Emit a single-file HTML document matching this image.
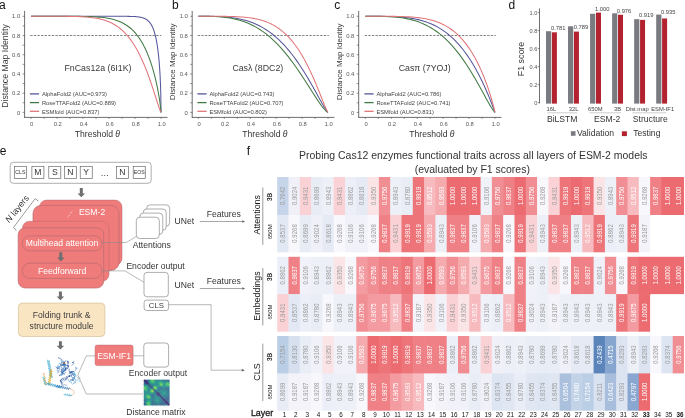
<!DOCTYPE html>
<html><head><meta charset="utf-8"><style>
html,body{margin:0;padding:0;background:#fff;overflow:hidden;}
svg{display:block;font-family:"Liberation Sans", sans-serif;will-change:transform;}
</style></head><body>
<svg width="685" height="418" viewBox="0 0 685 418">
<rect width="685" height="418" fill="#fff"/>
<text x="-0.90" y="8.70" font-size="12" fill="#111" text-anchor="start" font-weight="normal" >a</text>
<line x1="24.6" y1="10.9" x2="24.6" y2="117.6" stroke="#4a4a4a" stroke-width="0.8"/>
<line x1="24.200000000000003" y1="117.4" x2="167.5" y2="117.4" stroke="#4a4a4a" stroke-width="0.8"/>
<line x1="22.6" y1="112.40" x2="24.6" y2="112.40" stroke="#4a4a4a" stroke-width="0.6"/>
<line x1="31.00" y1="117.4" x2="31.00" y2="118.9" stroke="#4a4a4a" stroke-width="0.6"/>
<line x1="22.6" y1="102.79" x2="24.6" y2="102.79" stroke="#4a4a4a" stroke-width="0.6"/>
<line x1="44.00" y1="117.4" x2="44.00" y2="118.9" stroke="#4a4a4a" stroke-width="0.6"/>
<line x1="22.6" y1="93.18" x2="24.6" y2="93.18" stroke="#4a4a4a" stroke-width="0.6"/>
<line x1="57.00" y1="117.4" x2="57.00" y2="118.9" stroke="#4a4a4a" stroke-width="0.6"/>
<line x1="22.6" y1="83.57" x2="24.6" y2="83.57" stroke="#4a4a4a" stroke-width="0.6"/>
<line x1="70.00" y1="117.4" x2="70.00" y2="118.9" stroke="#4a4a4a" stroke-width="0.6"/>
<line x1="22.6" y1="73.96" x2="24.6" y2="73.96" stroke="#4a4a4a" stroke-width="0.6"/>
<line x1="83.00" y1="117.4" x2="83.00" y2="118.9" stroke="#4a4a4a" stroke-width="0.6"/>
<line x1="22.6" y1="64.35" x2="24.6" y2="64.35" stroke="#4a4a4a" stroke-width="0.6"/>
<line x1="96.00" y1="117.4" x2="96.00" y2="118.9" stroke="#4a4a4a" stroke-width="0.6"/>
<line x1="22.6" y1="54.74" x2="24.6" y2="54.74" stroke="#4a4a4a" stroke-width="0.6"/>
<line x1="109.00" y1="117.4" x2="109.00" y2="118.9" stroke="#4a4a4a" stroke-width="0.6"/>
<line x1="22.6" y1="45.13" x2="24.6" y2="45.13" stroke="#4a4a4a" stroke-width="0.6"/>
<line x1="122.00" y1="117.4" x2="122.00" y2="118.9" stroke="#4a4a4a" stroke-width="0.6"/>
<line x1="22.6" y1="35.52" x2="24.6" y2="35.52" stroke="#4a4a4a" stroke-width="0.6"/>
<line x1="135.00" y1="117.4" x2="135.00" y2="118.9" stroke="#4a4a4a" stroke-width="0.6"/>
<line x1="22.6" y1="25.91" x2="24.6" y2="25.91" stroke="#4a4a4a" stroke-width="0.6"/>
<line x1="148.00" y1="117.4" x2="148.00" y2="118.9" stroke="#4a4a4a" stroke-width="0.6"/>
<line x1="22.6" y1="16.30" x2="24.6" y2="16.30" stroke="#4a4a4a" stroke-width="0.6"/>
<line x1="161.00" y1="117.4" x2="161.00" y2="118.9" stroke="#4a4a4a" stroke-width="0.6"/>
<text x="20.30" y="114.50" font-size="5.9" fill="#555" text-anchor="end" font-weight="normal" >0</text>
<text x="31.70" y="126.20" font-size="5.8" fill="#555" text-anchor="middle" font-weight="normal" >0</text>
<text x="20.30" y="95.28" font-size="5.9" fill="#555" text-anchor="end" font-weight="normal" >0.2</text>
<text x="57.70" y="126.20" font-size="5.8" fill="#555" text-anchor="middle" font-weight="normal" >0.2</text>
<text x="20.30" y="76.06" font-size="5.9" fill="#555" text-anchor="end" font-weight="normal" >0.4</text>
<text x="83.70" y="126.20" font-size="5.8" fill="#555" text-anchor="middle" font-weight="normal" >0.4</text>
<text x="20.30" y="56.84" font-size="5.9" fill="#555" text-anchor="end" font-weight="normal" >0.6</text>
<text x="109.70" y="126.20" font-size="5.8" fill="#555" text-anchor="middle" font-weight="normal" >0.6</text>
<text x="20.30" y="37.62" font-size="5.9" fill="#555" text-anchor="end" font-weight="normal" >0.8</text>
<text x="135.70" y="126.20" font-size="5.8" fill="#555" text-anchor="middle" font-weight="normal" >0.8</text>
<text x="20.30" y="18.40" font-size="5.9" fill="#555" text-anchor="end" font-weight="normal" >1.0</text>
<text x="161.70" y="126.20" font-size="5.8" fill="#555" text-anchor="middle" font-weight="normal" >1.0</text>
<text x="97.40" y="136.60" font-size="8.6" fill="#333" text-anchor="middle" font-weight="normal" >Threshold <tspan font-style="italic">&#952;</tspan></text>
<text transform="translate(8.3,66.0) rotate(-90)" font-size="8.7" fill="#3a3a3a" text-anchor="middle">Distance Map Identity</text>
<text x="98.00" y="70.60" font-size="8.8" fill="#3a3a3a" text-anchor="middle" font-weight="normal" >FnCas12a (6I1K)</text>
<line x1="30.2" y1="35.5" x2="161.3" y2="35.5" stroke="#333" stroke-width="0.6" stroke-dasharray="2.4,1.2"/>
<polyline points="31.00,16.30 33.12,16.30 35.24,16.30 37.37,16.30 39.49,16.30 41.61,16.30 43.73,16.30 45.86,16.30 47.98,16.30 50.10,16.30 52.22,16.30 54.35,16.30 56.47,16.30 58.59,16.30 60.71,16.30 62.84,16.30 64.96,16.30 67.08,16.30 69.20,16.30 71.33,16.30 73.45,16.30 75.57,16.30 77.69,16.30 79.82,16.30 81.94,16.30 84.06,16.30 86.18,16.30 88.31,16.30 90.43,16.30 92.55,16.30 94.67,16.30 96.80,16.30 98.92,16.30 101.04,16.30 103.16,16.30 105.29,16.30 107.41,16.30 109.53,16.30 111.65,16.30 113.78,16.30 115.90,16.30 118.02,16.30 120.14,16.31 122.27,16.31 124.39,16.32 126.51,16.34 128.63,16.37 130.76,16.41 132.88,16.48 135.00,16.58 135.22,16.60 135.44,16.61 135.66,16.63 135.87,16.64 136.09,16.66 136.31,16.68 136.53,16.70 136.75,16.72 136.97,16.74 137.18,16.76 137.40,16.78 137.62,16.81 137.84,16.83 138.06,16.86 138.28,16.88 138.50,16.91 138.71,16.94 138.93,16.97 139.15,17.00 139.37,17.04 139.59,17.07 139.81,17.11 140.03,17.15 140.24,17.19 140.46,17.23 140.68,17.27 140.90,17.32 141.12,17.37 141.34,17.42 141.55,17.47 141.77,17.52 141.99,17.58 142.21,17.64 142.43,17.70 142.65,17.77 142.87,17.84 143.08,17.91 143.30,17.98 143.52,18.06 143.74,18.14 143.96,18.23 144.18,18.32 144.39,18.41 144.61,18.50 144.83,18.61 145.05,18.71 145.27,18.82 145.49,18.94 145.71,19.06 145.92,19.18 146.14,19.31 146.36,19.45 146.58,19.59 146.80,19.74 147.02,19.90 147.24,20.06 147.45,20.23 147.67,20.41 147.89,20.59 148.11,20.79 148.33,20.99 148.55,21.20 148.76,21.42 148.98,21.65 149.20,21.89 149.42,22.14 149.64,22.40 149.86,22.68 150.08,22.96 150.29,23.26 150.51,23.57 150.73,23.90 150.95,24.24 151.17,24.59 151.39,24.96 151.61,25.35 151.82,25.76 152.04,26.18 152.26,26.63 152.48,27.09 152.70,27.58 152.92,28.09 153.13,28.62 153.35,29.18 153.57,29.76 153.79,30.37 154.01,31.01 154.23,31.68 154.45,32.39 154.66,33.12 154.88,33.90 155.10,34.71 155.32,35.57 155.54,36.47 155.76,37.41 155.97,38.40 156.19,39.45 156.41,40.56 156.63,41.72 156.85,42.95 157.07,44.25 157.29,45.63 157.50,47.09 157.72,48.65 157.94,50.30 158.16,52.07 158.38,53.95 158.60,55.98 158.82,58.16 159.03,60.52 159.25,63.08 159.47,65.89 159.69,69.00 159.91,72.46 160.13,76.41 160.34,81.00 160.56,86.60 160.78,94.07 161.00,112.40" fill="none" stroke="#55579a" stroke-width="1.05" stroke-linejoin="round"/>
<polyline points="31.00,16.30 33.12,16.30 35.24,16.30 37.37,16.30 39.49,16.30 41.61,16.30 43.73,16.30 45.86,16.30 47.98,16.30 50.10,16.30 52.22,16.30 54.35,16.30 56.47,16.30 58.59,16.30 60.71,16.30 62.84,16.30 64.96,16.31 67.08,16.31 69.20,16.32 71.33,16.32 73.45,16.33 75.57,16.34 77.69,16.36 79.82,16.38 81.94,16.41 84.06,16.45 86.18,16.49 88.31,16.55 90.43,16.63 92.55,16.72 94.67,16.83 96.80,16.96 98.92,17.12 101.04,17.32 103.16,17.56 105.29,17.84 107.41,18.17 109.53,18.57 111.65,19.03 113.78,19.58 115.90,20.21 118.02,20.95 120.14,21.81 122.27,22.80 124.39,23.94 126.51,25.25 128.63,26.75 130.76,28.47 132.88,30.44 135.00,32.68 135.22,32.93 135.44,33.18 135.66,33.43 135.87,33.69 136.09,33.95 136.31,34.21 136.53,34.48 136.75,34.75 136.97,35.03 137.18,35.31 137.40,35.59 137.62,35.88 137.84,36.17 138.06,36.46 138.28,36.76 138.50,37.06 138.71,37.37 138.93,37.68 139.15,37.99 139.37,38.31 139.59,38.63 139.81,38.96 140.03,39.29 140.24,39.63 140.46,39.97 140.68,40.31 140.90,40.66 141.12,41.02 141.34,41.37 141.55,41.74 141.77,42.11 141.99,42.48 142.21,42.86 142.43,43.24 142.65,43.63 142.87,44.02 143.08,44.42 143.30,44.82 143.52,45.23 143.74,45.65 143.96,46.07 144.18,46.49 144.39,46.93 144.61,47.36 144.83,47.81 145.05,48.25 145.27,48.71 145.49,49.17 145.71,49.64 145.92,50.11 146.14,50.59 146.36,51.08 146.58,51.57 146.80,52.07 147.02,52.58 147.24,53.09 147.45,53.61 147.67,54.14 147.89,54.68 148.11,55.22 148.33,55.77 148.55,56.33 148.76,56.89 148.98,57.46 149.20,58.05 149.42,58.64 149.64,59.23 149.86,59.84 150.08,60.45 150.29,61.08 150.51,61.71 150.73,62.35 150.95,63.00 151.17,63.66 151.39,64.33 151.61,65.01 151.82,65.70 152.04,66.40 152.26,67.11 152.48,67.84 152.70,68.57 152.92,69.31 153.13,70.07 153.35,70.84 153.57,71.62 153.79,72.41 154.01,73.21 154.23,74.03 154.45,74.86 154.66,75.71 154.88,76.57 155.10,77.44 155.32,78.33 155.54,79.24 155.76,80.16 155.97,81.10 156.19,82.06 156.41,83.03 156.63,84.03 156.85,85.04 157.07,86.08 157.29,87.14 157.50,88.22 157.72,89.32 157.94,90.46 158.16,91.62 158.38,92.81 158.60,94.03 158.82,95.29 159.03,96.59 159.25,97.93 159.47,99.32 159.69,100.77 159.91,102.28 160.13,103.88 160.34,105.57 160.56,107.42 160.78,109.50 161.00,112.40" fill="none" stroke="#427a45" stroke-width="1.05" stroke-linejoin="round"/>
<polyline points="31.00,16.30 33.12,16.30 35.24,16.30 37.37,16.30 39.49,16.30 41.61,16.30 43.73,16.30 45.86,16.30 47.98,16.30 50.10,16.30 52.22,16.30 54.35,16.30 56.47,16.31 58.59,16.31 60.71,16.32 62.84,16.33 64.96,16.34 67.08,16.36 69.20,16.38 71.33,16.41 73.45,16.45 75.57,16.50 77.69,16.56 79.82,16.64 81.94,16.74 84.06,16.86 86.18,17.01 88.31,17.19 90.43,17.40 92.55,17.66 94.67,17.97 96.80,18.32 98.92,18.74 101.04,19.23 103.16,19.80 105.29,20.46 107.41,21.22 109.53,22.08 111.65,23.07 113.78,24.20 115.90,25.47 118.02,26.91 120.14,28.52 122.27,30.33 124.39,32.36 126.51,34.61 128.63,37.12 130.76,39.89 132.88,42.95 135.00,46.31 135.22,46.67 135.44,47.04 135.66,47.41 135.87,47.79 136.09,48.17 136.31,48.55 136.53,48.93 136.75,49.32 136.97,49.71 137.18,50.11 137.40,50.51 137.62,50.91 137.84,51.32 138.06,51.73 138.28,52.14 138.50,52.56 138.71,52.98 138.93,53.41 139.15,53.83 139.37,54.27 139.59,54.70 139.81,55.14 140.03,55.59 140.24,56.03 140.46,56.49 140.68,56.94 140.90,57.40 141.12,57.86 141.34,58.33 141.55,58.80 141.77,59.27 141.99,59.75 142.21,60.24 142.43,60.72 142.65,61.21 142.87,61.71 143.08,62.20 143.30,62.71 143.52,63.21 143.74,63.72 143.96,64.24 144.18,64.75 144.39,65.28 144.61,65.80 144.83,66.33 145.05,66.86 145.27,67.40 145.49,67.94 145.71,68.49 145.92,69.04 146.14,69.59 146.36,70.15 146.58,70.71 146.80,71.28 147.02,71.84 147.24,72.42 147.45,72.99 147.67,73.58 147.89,74.16 148.11,74.75 148.33,75.34 148.55,75.94 148.76,76.54 148.98,77.14 149.20,77.75 149.42,78.36 149.64,78.97 149.86,79.59 150.08,80.21 150.29,80.84 150.51,81.47 150.73,82.10 150.95,82.73 151.17,83.37 151.39,84.01 151.61,84.66 151.82,85.31 152.04,85.96 152.26,86.61 152.48,87.27 152.70,87.93 152.92,88.59 153.13,89.26 153.35,89.93 153.57,90.60 153.79,91.27 154.01,91.94 154.23,92.62 154.45,93.30 154.66,93.98 154.88,94.66 155.10,95.34 155.32,96.02 155.54,96.71 155.76,97.39 155.97,98.08 156.19,98.77 156.41,99.45 156.63,100.14 156.85,100.82 157.07,101.50 157.29,102.18 157.50,102.86 157.72,103.54 157.94,104.21 158.16,104.88 158.38,105.54 158.60,106.20 158.82,106.85 159.03,107.49 159.25,108.13 159.47,108.75 159.69,109.36 159.91,109.95 160.13,110.52 160.34,111.07 160.56,111.58 160.78,112.05 161.00,112.40" fill="none" stroke="#e07579" stroke-width="1.05" stroke-linejoin="round"/>
<line x1="29.9" y1="93.89999999999999" x2="39.1" y2="93.89999999999999" stroke="#55579a" stroke-width="1.3"/>
<text x="41.90" y="96.30" font-size="5.8" fill="#444" text-anchor="start" font-weight="normal" >AlphaFold2 (AUC=0.973)</text>
<line x1="29.9" y1="102.6" x2="39.1" y2="102.6" stroke="#427a45" stroke-width="1.3"/>
<text x="41.90" y="105.00" font-size="5.8" fill="#444" text-anchor="start" font-weight="normal" >RoseTTAFold2 (AUC=0.889)</text>
<line x1="29.9" y1="111.3" x2="39.1" y2="111.3" stroke="#e07579" stroke-width="1.3"/>
<text x="41.90" y="113.70" font-size="5.8" fill="#444" text-anchor="start" font-weight="normal" >ESMfold (AUC=0.837)</text>
<text x="172.00" y="8.70" font-size="12" fill="#111" text-anchor="start" font-weight="normal" >b</text>
<line x1="192.2" y1="10.9" x2="192.2" y2="117.6" stroke="#4a4a4a" stroke-width="0.8"/>
<line x1="191.79999999999998" y1="117.4" x2="334.5" y2="117.4" stroke="#4a4a4a" stroke-width="0.8"/>
<line x1="190.2" y1="112.40" x2="192.2" y2="112.40" stroke="#4a4a4a" stroke-width="0.6"/>
<line x1="198.40" y1="117.4" x2="198.40" y2="118.9" stroke="#4a4a4a" stroke-width="0.6"/>
<line x1="190.2" y1="102.79" x2="192.2" y2="102.79" stroke="#4a4a4a" stroke-width="0.6"/>
<line x1="211.36" y1="117.4" x2="211.36" y2="118.9" stroke="#4a4a4a" stroke-width="0.6"/>
<line x1="190.2" y1="93.18" x2="192.2" y2="93.18" stroke="#4a4a4a" stroke-width="0.6"/>
<line x1="224.32" y1="117.4" x2="224.32" y2="118.9" stroke="#4a4a4a" stroke-width="0.6"/>
<line x1="190.2" y1="83.57" x2="192.2" y2="83.57" stroke="#4a4a4a" stroke-width="0.6"/>
<line x1="237.28" y1="117.4" x2="237.28" y2="118.9" stroke="#4a4a4a" stroke-width="0.6"/>
<line x1="190.2" y1="73.96" x2="192.2" y2="73.96" stroke="#4a4a4a" stroke-width="0.6"/>
<line x1="250.24" y1="117.4" x2="250.24" y2="118.9" stroke="#4a4a4a" stroke-width="0.6"/>
<line x1="190.2" y1="64.35" x2="192.2" y2="64.35" stroke="#4a4a4a" stroke-width="0.6"/>
<line x1="263.20" y1="117.4" x2="263.20" y2="118.9" stroke="#4a4a4a" stroke-width="0.6"/>
<line x1="190.2" y1="54.74" x2="192.2" y2="54.74" stroke="#4a4a4a" stroke-width="0.6"/>
<line x1="276.16" y1="117.4" x2="276.16" y2="118.9" stroke="#4a4a4a" stroke-width="0.6"/>
<line x1="190.2" y1="45.13" x2="192.2" y2="45.13" stroke="#4a4a4a" stroke-width="0.6"/>
<line x1="289.12" y1="117.4" x2="289.12" y2="118.9" stroke="#4a4a4a" stroke-width="0.6"/>
<line x1="190.2" y1="35.52" x2="192.2" y2="35.52" stroke="#4a4a4a" stroke-width="0.6"/>
<line x1="302.08" y1="117.4" x2="302.08" y2="118.9" stroke="#4a4a4a" stroke-width="0.6"/>
<line x1="190.2" y1="25.91" x2="192.2" y2="25.91" stroke="#4a4a4a" stroke-width="0.6"/>
<line x1="315.04" y1="117.4" x2="315.04" y2="118.9" stroke="#4a4a4a" stroke-width="0.6"/>
<line x1="190.2" y1="16.30" x2="192.2" y2="16.30" stroke="#4a4a4a" stroke-width="0.6"/>
<line x1="328.00" y1="117.4" x2="328.00" y2="118.9" stroke="#4a4a4a" stroke-width="0.6"/>
<text x="187.90" y="114.50" font-size="5.9" fill="#555" text-anchor="end" font-weight="normal" >0</text>
<text x="199.10" y="126.20" font-size="5.8" fill="#555" text-anchor="middle" font-weight="normal" >0</text>
<text x="187.90" y="95.28" font-size="5.9" fill="#555" text-anchor="end" font-weight="normal" >0.2</text>
<text x="225.02" y="126.20" font-size="5.8" fill="#555" text-anchor="middle" font-weight="normal" >0.2</text>
<text x="187.90" y="76.06" font-size="5.9" fill="#555" text-anchor="end" font-weight="normal" >0.4</text>
<text x="250.94" y="126.20" font-size="5.8" fill="#555" text-anchor="middle" font-weight="normal" >0.4</text>
<text x="187.90" y="56.84" font-size="5.9" fill="#555" text-anchor="end" font-weight="normal" >0.6</text>
<text x="276.86" y="126.20" font-size="5.8" fill="#555" text-anchor="middle" font-weight="normal" >0.6</text>
<text x="187.90" y="37.62" font-size="5.9" fill="#555" text-anchor="end" font-weight="normal" >0.8</text>
<text x="302.78" y="126.20" font-size="5.8" fill="#555" text-anchor="middle" font-weight="normal" >0.8</text>
<text x="187.90" y="18.40" font-size="5.9" fill="#555" text-anchor="end" font-weight="normal" >1.0</text>
<text x="328.70" y="126.20" font-size="5.8" fill="#555" text-anchor="middle" font-weight="normal" >1.0</text>
<text x="264.90" y="136.60" font-size="8.6" fill="#333" text-anchor="middle" font-weight="normal" >Threshold <tspan font-style="italic">&#952;</tspan></text>
<text transform="translate(175.4,61.9) rotate(-90)" font-size="8.0" fill="#3a3a3a" text-anchor="middle">Distance Map Identity</text>
<text x="257.80" y="70.60" font-size="8.8" fill="#3a3a3a" text-anchor="middle" font-weight="normal" >Cas&#955; (8DC2)</text>
<line x1="197.7" y1="35.5" x2="328.8" y2="35.5" stroke="#333" stroke-width="0.6" stroke-dasharray="2.4,1.2"/>
<polyline points="198.40,16.30 200.52,16.30 202.63,16.30 204.75,16.31 206.86,16.31 208.98,16.33 211.10,16.35 213.21,16.39 215.33,16.44 217.44,16.50 219.56,16.59 221.68,16.69 223.79,16.82 225.91,16.98 228.02,17.17 230.14,17.40 232.25,17.66 234.37,17.96 236.49,18.31 238.60,18.70 240.72,19.14 242.83,19.64 244.95,20.20 247.07,20.82 249.18,21.50 251.30,22.25 253.41,23.07 255.53,23.96 257.65,24.94 259.76,26.00 261.88,27.14 263.99,28.37 266.11,29.69 268.23,31.11 270.34,32.63 272.46,34.24 274.57,35.97 276.69,37.80 278.80,39.73 280.92,41.78 283.04,43.95 285.15,46.23 287.27,48.63 289.38,51.14 291.50,53.78 293.62,56.53 295.73,59.41 297.85,62.40 299.96,65.52 302.08,68.74 302.30,69.08 302.52,69.42 302.73,69.76 302.95,70.10 303.17,70.45 303.39,70.79 303.60,71.14 303.82,71.48 304.04,71.83 304.26,72.18 304.48,72.53 304.69,72.88 304.91,73.23 305.13,73.59 305.35,73.94 305.57,74.30 305.78,74.65 306.00,75.01 306.22,75.37 306.44,75.73 306.65,76.09 306.87,76.45 307.09,76.81 307.31,77.18 307.53,77.54 307.74,77.91 307.96,78.28 308.18,78.64 308.40,79.01 308.61,79.38 308.83,79.75 309.05,80.12 309.27,80.50 309.49,80.87 309.70,81.25 309.92,81.62 310.14,82.00 310.36,82.37 310.57,82.75 310.79,83.13 311.01,83.51 311.23,83.89 311.45,84.27 311.66,84.66 311.88,85.04 312.10,85.42 312.32,85.81 312.54,86.19 312.75,86.58 312.97,86.96 313.19,87.35 313.41,87.74 313.62,88.13 313.84,88.51 314.06,88.90 314.28,89.29 314.50,89.68 314.71,90.08 314.93,90.47 315.15,90.86 315.37,91.25 315.58,91.64 315.80,92.04 316.02,92.43 316.24,92.82 316.46,93.22 316.67,93.61 316.89,94.01 317.11,94.40 317.33,94.80 317.54,95.19 317.76,95.59 317.98,95.98 318.20,96.38 318.42,96.77 318.63,97.17 318.85,97.56 319.07,97.95 319.29,98.35 319.51,98.74 319.72,99.14 319.94,99.53 320.16,99.92 320.38,100.31 320.59,100.70 320.81,101.09 321.03,101.48 321.25,101.87 321.47,102.26 321.68,102.65 321.90,103.03 322.12,103.42 322.34,103.80 322.55,104.18 322.77,104.56 322.99,104.94 323.21,105.32 323.43,105.69 323.64,106.06 323.86,106.43 324.08,106.80 324.30,107.16 324.51,107.52 324.73,107.88 324.95,108.24 325.17,108.59 325.39,108.93 325.60,109.27 325.82,109.61 326.04,109.94 326.26,110.26 326.48,110.58 326.69,110.89 326.91,111.19 327.13,111.47 327.35,111.75 327.56,112.00 327.78,112.23 328.00,112.40" fill="none" stroke="#55579a" stroke-width="1.05" stroke-linejoin="round"/>
<polyline points="198.40,16.30 200.52,16.30 202.63,16.30 204.75,16.31 206.86,16.33 208.98,16.36 211.10,16.41 213.21,16.47 215.33,16.56 217.44,16.67 219.56,16.81 221.68,16.98 223.79,17.19 225.91,17.44 228.02,17.73 230.14,18.06 232.25,18.45 234.37,18.89 236.49,19.38 238.60,19.94 240.72,20.55 242.83,21.24 244.95,21.99 247.07,22.81 249.18,23.71 251.30,24.69 253.41,25.75 255.53,26.89 257.65,28.12 259.76,29.44 261.88,30.84 263.99,32.35 266.11,33.94 268.23,35.64 270.34,37.43 272.46,39.32 274.57,41.31 276.69,43.41 278.80,45.60 280.92,47.90 283.04,50.29 285.15,52.79 287.27,55.39 289.38,58.08 291.50,60.86 293.62,63.74 295.73,66.70 297.85,69.74 299.96,72.85 302.08,76.03 302.30,76.36 302.52,76.69 302.73,77.02 302.95,77.36 303.17,77.69 303.39,78.02 303.60,78.36 303.82,78.69 304.04,79.03 304.26,79.36 304.48,79.70 304.69,80.04 304.91,80.37 305.13,80.71 305.35,81.05 305.57,81.39 305.78,81.72 306.00,82.06 306.22,82.40 306.44,82.74 306.65,83.08 306.87,83.42 307.09,83.76 307.31,84.10 307.53,84.45 307.74,84.79 307.96,85.13 308.18,85.47 308.40,85.81 308.61,86.16 308.83,86.50 309.05,86.84 309.27,87.18 309.49,87.53 309.70,87.87 309.92,88.21 310.14,88.56 310.36,88.90 310.57,89.24 310.79,89.58 311.01,89.93 311.23,90.27 311.45,90.61 311.66,90.96 311.88,91.30 312.10,91.64 312.32,91.98 312.54,92.32 312.75,92.67 312.97,93.01 313.19,93.35 313.41,93.69 313.62,94.03 313.84,94.37 314.06,94.71 314.28,95.05 314.50,95.38 314.71,95.72 314.93,96.06 315.15,96.40 315.37,96.73 315.58,97.07 315.80,97.40 316.02,97.74 316.24,98.07 316.46,98.40 316.67,98.73 316.89,99.06 317.11,99.39 317.33,99.72 317.54,100.04 317.76,100.37 317.98,100.69 318.20,101.02 318.42,101.34 318.63,101.66 318.85,101.98 319.07,102.30 319.29,102.61 319.51,102.93 319.72,103.24 319.94,103.55 320.16,103.86 320.38,104.17 320.59,104.47 320.81,104.77 321.03,105.07 321.25,105.37 321.47,105.67 321.68,105.96 321.90,106.25 322.12,106.54 322.34,106.82 322.55,107.11 322.77,107.39 322.99,107.66 323.21,107.93 323.43,108.20 323.64,108.47 323.86,108.73 324.08,108.98 324.30,109.24 324.51,109.49 324.73,109.73 324.95,109.97 325.17,110.20 325.39,110.42 325.60,110.64 325.82,110.86 326.04,111.06 326.26,111.26 326.48,111.45 326.69,111.63 326.91,111.80 327.13,111.96 327.35,112.10 327.56,112.23 327.78,112.34 328.00,112.40" fill="none" stroke="#427a45" stroke-width="1.05" stroke-linejoin="round"/>
<polyline points="198.40,16.30 200.52,16.30 202.63,16.30 204.75,16.30 206.86,16.30 208.98,16.30 211.10,16.30 213.21,16.30 215.33,16.31 217.44,16.31 219.56,16.32 221.68,16.34 223.79,16.35 225.91,16.38 228.02,16.41 230.14,16.46 232.25,16.51 234.37,16.58 236.49,16.67 238.60,16.77 240.72,16.90 242.83,17.06 244.95,17.24 247.07,17.46 249.18,17.72 251.30,18.02 253.41,18.37 255.53,18.77 257.65,19.23 259.76,19.75 261.88,20.35 263.99,21.02 266.11,21.78 268.23,22.63 270.34,23.57 272.46,24.63 274.57,25.80 276.69,27.10 278.80,28.52 280.92,30.09 283.04,31.81 285.15,33.69 287.27,35.73 289.38,37.96 291.50,40.37 293.62,42.98 295.73,45.79 297.85,48.81 299.96,52.06 302.08,55.52 302.30,55.89 302.52,56.27 302.73,56.64 302.95,57.02 303.17,57.40 303.39,57.78 303.60,58.17 303.82,58.55 304.04,58.94 304.26,59.34 304.48,59.73 304.69,60.13 304.91,60.53 305.13,60.93 305.35,61.33 305.57,61.74 305.78,62.15 306.00,62.56 306.22,62.98 306.44,63.39 306.65,63.81 306.87,64.24 307.09,64.66 307.31,65.09 307.53,65.52 307.74,65.95 307.96,66.38 308.18,66.82 308.40,67.26 308.61,67.70 308.83,68.15 309.05,68.59 309.27,69.04 309.49,69.49 309.70,69.95 309.92,70.40 310.14,70.86 310.36,71.32 310.57,71.79 310.79,72.25 311.01,72.72 311.23,73.19 311.45,73.67 311.66,74.14 311.88,74.62 312.10,75.10 312.32,75.58 312.54,76.07 312.75,76.56 312.97,77.04 313.19,77.54 313.41,78.03 313.62,78.53 313.84,79.02 314.06,79.52 314.28,80.03 314.50,80.53 314.71,81.04 314.93,81.55 315.15,82.06 315.37,82.57 315.58,83.09 315.80,83.60 316.02,84.12 316.24,84.64 316.46,85.16 316.67,85.69 316.89,86.21 317.11,86.74 317.33,87.27 317.54,87.80 317.76,88.33 317.98,88.87 318.20,89.40 318.42,89.94 318.63,90.47 318.85,91.01 319.07,91.55 319.29,92.09 319.51,92.64 319.72,93.18 319.94,93.72 320.16,94.27 320.38,94.81 320.59,95.36 320.81,95.91 321.03,96.45 321.25,97.00 321.47,97.55 321.68,98.09 321.90,98.64 322.12,99.19 322.34,99.73 322.55,100.28 322.77,100.82 322.99,101.37 323.21,101.91 323.43,102.45 323.64,102.99 323.86,103.53 324.08,104.06 324.30,104.59 324.51,105.12 324.73,105.65 324.95,106.17 325.17,106.68 325.39,107.20 325.60,107.70 325.82,108.20 326.04,108.69 326.26,109.18 326.48,109.65 326.69,110.11 326.91,110.56 327.13,110.99 327.35,111.41 327.56,111.79 327.78,112.14 328.00,112.40" fill="none" stroke="#e07579" stroke-width="1.05" stroke-linejoin="round"/>
<line x1="197.4" y1="93.89999999999999" x2="206.6" y2="93.89999999999999" stroke="#55579a" stroke-width="1.3"/>
<text x="209.40" y="96.30" font-size="5.8" fill="#444" text-anchor="start" font-weight="normal" >AlphaFold2 (AUC=0.743)</text>
<line x1="197.4" y1="102.6" x2="206.6" y2="102.6" stroke="#427a45" stroke-width="1.3"/>
<text x="209.40" y="105.00" font-size="5.8" fill="#444" text-anchor="start" font-weight="normal" >RoseTTAFold2 (AUC=0.707)</text>
<line x1="197.4" y1="111.3" x2="206.6" y2="111.3" stroke="#e07579" stroke-width="1.3"/>
<text x="209.40" y="113.70" font-size="5.8" fill="#444" text-anchor="start" font-weight="normal" >ESMfold (AUC=0.802)</text>
<text x="334.20" y="8.70" font-size="12" fill="#111" text-anchor="start" font-weight="normal" >c</text>
<line x1="358.7" y1="10.9" x2="358.7" y2="117.6" stroke="#4a4a4a" stroke-width="0.8"/>
<line x1="358.3" y1="117.4" x2="501.5" y2="117.4" stroke="#4a4a4a" stroke-width="0.8"/>
<line x1="356.7" y1="112.40" x2="358.7" y2="112.40" stroke="#4a4a4a" stroke-width="0.6"/>
<line x1="365.30" y1="117.4" x2="365.30" y2="118.9" stroke="#4a4a4a" stroke-width="0.6"/>
<line x1="356.7" y1="102.79" x2="358.7" y2="102.79" stroke="#4a4a4a" stroke-width="0.6"/>
<line x1="378.27" y1="117.4" x2="378.27" y2="118.9" stroke="#4a4a4a" stroke-width="0.6"/>
<line x1="356.7" y1="93.18" x2="358.7" y2="93.18" stroke="#4a4a4a" stroke-width="0.6"/>
<line x1="391.24" y1="117.4" x2="391.24" y2="118.9" stroke="#4a4a4a" stroke-width="0.6"/>
<line x1="356.7" y1="83.57" x2="358.7" y2="83.57" stroke="#4a4a4a" stroke-width="0.6"/>
<line x1="404.21" y1="117.4" x2="404.21" y2="118.9" stroke="#4a4a4a" stroke-width="0.6"/>
<line x1="356.7" y1="73.96" x2="358.7" y2="73.96" stroke="#4a4a4a" stroke-width="0.6"/>
<line x1="417.18" y1="117.4" x2="417.18" y2="118.9" stroke="#4a4a4a" stroke-width="0.6"/>
<line x1="356.7" y1="64.35" x2="358.7" y2="64.35" stroke="#4a4a4a" stroke-width="0.6"/>
<line x1="430.15" y1="117.4" x2="430.15" y2="118.9" stroke="#4a4a4a" stroke-width="0.6"/>
<line x1="356.7" y1="54.74" x2="358.7" y2="54.74" stroke="#4a4a4a" stroke-width="0.6"/>
<line x1="443.12" y1="117.4" x2="443.12" y2="118.9" stroke="#4a4a4a" stroke-width="0.6"/>
<line x1="356.7" y1="45.13" x2="358.7" y2="45.13" stroke="#4a4a4a" stroke-width="0.6"/>
<line x1="456.09" y1="117.4" x2="456.09" y2="118.9" stroke="#4a4a4a" stroke-width="0.6"/>
<line x1="356.7" y1="35.52" x2="358.7" y2="35.52" stroke="#4a4a4a" stroke-width="0.6"/>
<line x1="469.06" y1="117.4" x2="469.06" y2="118.9" stroke="#4a4a4a" stroke-width="0.6"/>
<line x1="356.7" y1="25.91" x2="358.7" y2="25.91" stroke="#4a4a4a" stroke-width="0.6"/>
<line x1="482.03" y1="117.4" x2="482.03" y2="118.9" stroke="#4a4a4a" stroke-width="0.6"/>
<line x1="356.7" y1="16.30" x2="358.7" y2="16.30" stroke="#4a4a4a" stroke-width="0.6"/>
<line x1="495.00" y1="117.4" x2="495.00" y2="118.9" stroke="#4a4a4a" stroke-width="0.6"/>
<text x="354.40" y="114.50" font-size="5.9" fill="#555" text-anchor="end" font-weight="normal" >0</text>
<text x="366.00" y="126.20" font-size="5.8" fill="#555" text-anchor="middle" font-weight="normal" >0</text>
<text x="354.40" y="95.28" font-size="5.9" fill="#555" text-anchor="end" font-weight="normal" >0.2</text>
<text x="391.94" y="126.20" font-size="5.8" fill="#555" text-anchor="middle" font-weight="normal" >0.2</text>
<text x="354.40" y="76.06" font-size="5.9" fill="#555" text-anchor="end" font-weight="normal" >0.4</text>
<text x="417.88" y="126.20" font-size="5.8" fill="#555" text-anchor="middle" font-weight="normal" >0.4</text>
<text x="354.40" y="56.84" font-size="5.9" fill="#555" text-anchor="end" font-weight="normal" >0.6</text>
<text x="443.82" y="126.20" font-size="5.8" fill="#555" text-anchor="middle" font-weight="normal" >0.6</text>
<text x="354.40" y="37.62" font-size="5.9" fill="#555" text-anchor="end" font-weight="normal" >0.8</text>
<text x="469.76" y="126.20" font-size="5.8" fill="#555" text-anchor="middle" font-weight="normal" >0.8</text>
<text x="354.40" y="18.40" font-size="5.9" fill="#555" text-anchor="end" font-weight="normal" >1.0</text>
<text x="495.70" y="126.20" font-size="5.8" fill="#555" text-anchor="middle" font-weight="normal" >1.0</text>
<text x="431.90" y="136.60" font-size="8.6" fill="#333" text-anchor="middle" font-weight="normal" >Threshold <tspan font-style="italic">&#952;</tspan></text>
<text transform="translate(342.4,61.9) rotate(-90)" font-size="8.0" fill="#3a3a3a" text-anchor="middle">Distance Map Identity</text>
<text x="424.70" y="70.60" font-size="8.8" fill="#3a3a3a" text-anchor="middle" font-weight="normal" >Cas&#960; (7YOJ)</text>
<line x1="364.7" y1="35.5" x2="495.8" y2="35.5" stroke="#333" stroke-width="0.6" stroke-dasharray="2.4,1.2"/>
<polyline points="365.30,16.30 367.42,16.30 369.54,16.30 371.65,16.30 373.77,16.30 375.89,16.31 378.01,16.32 380.12,16.33 382.24,16.35 384.36,16.37 386.48,16.41 388.59,16.45 390.71,16.51 392.83,16.59 394.95,16.68 397.06,16.79 399.18,16.92 401.30,17.08 403.42,17.27 405.53,17.49 407.65,17.74 409.77,18.03 411.89,18.36 414.00,18.74 416.12,19.16 418.24,19.63 420.36,20.16 422.47,20.75 424.59,21.40 426.71,22.12 428.83,22.91 430.94,23.78 433.06,24.73 435.18,25.76 437.30,26.88 439.41,28.10 441.53,29.41 443.65,30.83 445.77,32.37 447.88,34.01 450.00,35.78 452.12,37.67 454.24,39.69 456.35,41.85 458.47,44.16 460.59,46.61 462.71,49.21 464.82,51.98 466.94,54.91 469.06,58.02 469.28,58.34 469.50,58.68 469.71,59.01 469.93,59.35 470.15,59.68 470.37,60.02 470.59,60.36 470.80,60.71 471.02,61.05 471.24,61.40 471.46,61.75 471.68,62.10 471.89,62.45 472.11,62.81 472.33,63.16 472.55,63.52 472.77,63.88 472.98,64.25 473.20,64.61 473.42,64.98 473.64,65.35 473.86,65.72 474.07,66.09 474.29,66.47 474.51,66.84 474.73,67.22 474.95,67.60 475.16,67.99 475.38,68.37 475.60,68.76 475.82,69.15 476.04,69.54 476.25,69.93 476.47,70.33 476.69,70.73 476.91,71.13 477.13,71.53 477.34,71.94 477.56,72.34 477.78,72.75 478.00,73.16 478.22,73.58 478.43,73.99 478.65,74.41 478.87,74.83 479.09,75.25 479.31,75.67 479.52,76.10 479.74,76.53 479.96,76.96 480.18,77.39 480.40,77.83 480.61,78.27 480.83,78.71 481.05,79.15 481.27,79.59 481.49,80.04 481.70,80.49 481.92,80.94 482.14,81.39 482.36,81.85 482.57,82.31 482.79,82.77 483.01,83.23 483.23,83.69 483.45,84.16 483.66,84.63 483.88,85.10 484.10,85.58 484.32,86.06 484.54,86.53 484.75,87.02 484.97,87.50 485.19,87.99 485.41,88.48 485.63,88.97 485.84,89.46 486.06,89.96 486.28,90.45 486.50,90.96 486.72,91.46 486.93,91.96 487.15,92.47 487.37,92.98 487.59,93.50 487.81,94.01 488.02,94.53 488.24,95.05 488.46,95.57 488.68,96.10 488.90,96.63 489.11,97.16 489.33,97.69 489.55,98.23 489.77,98.76 489.99,99.30 490.20,99.85 490.42,100.39 490.64,100.94 490.86,101.49 491.08,102.04 491.29,102.60 491.51,103.16 491.73,103.72 491.95,104.28 492.17,104.84 492.38,105.41 492.60,105.98 492.82,106.55 493.04,107.13 493.26,107.71 493.47,108.29 493.69,108.87 493.91,109.45 494.13,110.04 494.35,110.63 494.56,111.22 494.78,111.81 495.00,112.40" fill="none" stroke="#55579a" stroke-width="1.05" stroke-linejoin="round"/>
<polyline points="365.30,16.30 367.42,16.30 369.54,16.30 371.65,16.30 373.77,16.31 375.89,16.32 378.01,16.34 380.12,16.37 382.24,16.41 384.36,16.47 386.48,16.54 388.59,16.63 390.71,16.75 392.83,16.89 394.95,17.06 397.06,17.26 399.18,17.50 401.30,17.78 403.42,18.10 405.53,18.47 407.65,18.88 409.77,19.35 411.89,19.88 414.00,20.47 416.12,21.12 418.24,21.84 420.36,22.63 422.47,23.50 424.59,24.45 426.71,25.49 428.83,26.61 430.94,27.82 433.06,29.13 435.18,30.53 437.30,32.04 439.41,33.65 441.53,35.37 443.65,37.21 445.77,39.15 447.88,41.22 450.00,43.40 452.12,45.71 454.24,48.14 456.35,50.69 458.47,53.37 460.59,56.18 462.71,59.11 464.82,62.16 466.94,65.33 469.06,68.63 469.28,68.97 469.50,69.32 469.71,69.67 469.93,70.02 470.15,70.37 470.37,70.72 470.59,71.07 470.80,71.42 471.02,71.78 471.24,72.13 471.46,72.49 471.68,72.85 471.89,73.21 472.11,73.57 472.33,73.93 472.55,74.29 472.77,74.66 472.98,75.02 473.20,75.39 473.42,75.76 473.64,76.12 473.86,76.49 474.07,76.86 474.29,77.24 474.51,77.61 474.73,77.98 474.95,78.36 475.16,78.73 475.38,79.11 475.60,79.48 475.82,79.86 476.04,80.24 476.25,80.62 476.47,81.00 476.69,81.38 476.91,81.76 477.13,82.15 477.34,82.53 477.56,82.92 477.78,83.30 478.00,83.69 478.22,84.08 478.43,84.46 478.65,84.85 478.87,85.24 479.09,85.63 479.31,86.02 479.52,86.41 479.74,86.81 479.96,87.20 480.18,87.59 480.40,87.98 480.61,88.38 480.83,88.77 481.05,89.17 481.27,89.56 481.49,89.96 481.70,90.36 481.92,90.75 482.14,91.15 482.36,91.55 482.57,91.94 482.79,92.34 483.01,92.74 483.23,93.14 483.45,93.54 483.66,93.93 483.88,94.33 484.10,94.73 484.32,95.13 484.54,95.53 484.75,95.92 484.97,96.32 485.19,96.72 485.41,97.12 485.63,97.51 485.84,97.91 486.06,98.30 486.28,98.70 486.50,99.09 486.72,99.49 486.93,99.88 487.15,100.27 487.37,100.67 487.59,101.06 487.81,101.45 488.02,101.83 488.24,102.22 488.46,102.61 488.68,102.99 488.90,103.37 489.11,103.76 489.33,104.13 489.55,104.51 489.77,104.89 489.99,105.26 490.20,105.63 490.42,106.00 490.64,106.36 490.86,106.73 491.08,107.09 491.29,107.44 491.51,107.79 491.73,108.14 491.95,108.49 492.17,108.83 492.38,109.16 492.60,109.49 492.82,109.81 493.04,110.13 493.26,110.43 493.47,110.73 493.69,111.02 493.91,111.30 494.13,111.57 494.35,111.82 494.56,112.05 494.78,112.25 495.00,112.40" fill="none" stroke="#427a45" stroke-width="1.05" stroke-linejoin="round"/>
<polyline points="365.30,16.30 367.42,16.30 369.54,16.30 371.65,16.30 373.77,16.30 375.89,16.30 378.01,16.30 380.12,16.30 382.24,16.31 384.36,16.31 386.48,16.32 388.59,16.33 390.71,16.34 392.83,16.36 394.95,16.39 397.06,16.42 399.18,16.46 401.30,16.52 403.42,16.59 405.53,16.67 407.65,16.77 409.77,16.89 411.89,17.03 414.00,17.20 416.12,17.40 418.24,17.63 420.36,17.90 422.47,18.22 424.59,18.57 426.71,18.98 428.83,19.44 430.94,19.96 433.06,20.55 435.18,21.22 437.30,21.96 439.41,22.78 441.53,23.70 443.65,24.72 445.77,25.85 447.88,27.10 450.00,28.46 452.12,29.97 454.24,31.61 456.35,33.42 458.47,35.38 460.59,37.53 462.71,39.86 464.82,42.39 466.94,45.14 469.06,48.12 469.28,48.44 469.50,48.76 469.71,49.08 469.93,49.41 470.15,49.74 470.37,50.08 470.59,50.41 470.80,50.75 471.02,51.09 471.24,51.44 471.46,51.78 471.68,52.13 471.89,52.48 472.11,52.84 472.33,53.20 472.55,53.56 472.77,53.92 472.98,54.29 473.20,54.66 473.42,55.03 473.64,55.41 473.86,55.79 474.07,56.17 474.29,56.55 474.51,56.94 474.73,57.33 474.95,57.73 475.16,58.12 475.38,58.52 475.60,58.93 475.82,59.33 476.04,59.74 476.25,60.16 476.47,60.57 476.69,60.99 476.91,61.42 477.13,61.84 477.34,62.27 477.56,62.71 477.78,63.14 478.00,63.58 478.22,64.02 478.43,64.47 478.65,64.92 478.87,65.38 479.09,65.83 479.31,66.29 479.52,66.76 479.74,67.23 479.96,67.70 480.18,68.17 480.40,68.65 480.61,69.14 480.83,69.62 481.05,70.11 481.27,70.61 481.49,71.11 481.70,71.61 481.92,72.11 482.14,72.63 482.36,73.14 482.57,73.66 482.79,74.18 483.01,74.71 483.23,75.24 483.45,75.77 483.66,76.31 483.88,76.86 484.10,77.40 484.32,77.96 484.54,78.51 484.75,79.07 484.97,79.64 485.19,80.21 485.41,80.78 485.63,81.36 485.84,81.95 486.06,82.54 486.28,83.13 486.50,83.73 486.72,84.33 486.93,84.94 487.15,85.55 487.37,86.17 487.59,86.80 487.81,87.43 488.02,88.06 488.24,88.70 488.46,89.35 488.68,90.00 488.90,90.65 489.11,91.32 489.33,91.98 489.55,92.66 489.77,93.34 489.99,94.03 490.20,94.72 490.42,95.42 490.64,96.13 490.86,96.84 491.08,97.56 491.29,98.29 491.51,99.02 491.73,99.77 491.95,100.52 492.17,101.28 492.38,102.05 492.60,102.82 492.82,103.61 493.04,104.41 493.26,105.22 493.47,106.04 493.69,106.87 493.91,107.72 494.13,108.59 494.35,109.47 494.56,110.39 494.78,111.34 495.00,112.40" fill="none" stroke="#e07579" stroke-width="1.05" stroke-linejoin="round"/>
<line x1="364.4" y1="93.89999999999999" x2="373.6" y2="93.89999999999999" stroke="#55579a" stroke-width="1.3"/>
<text x="376.40" y="96.30" font-size="5.8" fill="#444" text-anchor="start" font-weight="normal" >AlphaFold2 (AUC=0.786)</text>
<line x1="364.4" y1="102.6" x2="373.6" y2="102.6" stroke="#427a45" stroke-width="1.3"/>
<text x="376.40" y="105.00" font-size="5.8" fill="#444" text-anchor="start" font-weight="normal" >RoseTTAFold2 (AUC=0.741)</text>
<line x1="364.4" y1="111.3" x2="373.6" y2="111.3" stroke="#e07579" stroke-width="1.3"/>
<text x="376.40" y="113.70" font-size="5.8" fill="#444" text-anchor="start" font-weight="normal" >ESMfold (AUC=0.831)</text>
<text x="508.40" y="8.70" font-size="12" fill="#111" text-anchor="start" font-weight="normal" >d</text>
<line x1="539.5" y1="8.4" x2="539.5" y2="103.4" stroke="#4a4a4a" stroke-width="0.8"/>
<line x1="537.7" y1="102.60" x2="539.5" y2="102.60" stroke="#4a4a4a" stroke-width="0.6"/>
<text x="537.40" y="104.70" font-size="5.6" fill="#555" text-anchor="end" font-weight="normal" >0</text>
<line x1="537.7" y1="84.60" x2="539.5" y2="84.60" stroke="#4a4a4a" stroke-width="0.6"/>
<text x="537.40" y="86.70" font-size="5.6" fill="#555" text-anchor="end" font-weight="normal" >0.2</text>
<line x1="537.7" y1="66.60" x2="539.5" y2="66.60" stroke="#4a4a4a" stroke-width="0.6"/>
<text x="537.40" y="68.70" font-size="5.6" fill="#555" text-anchor="end" font-weight="normal" >0.4</text>
<line x1="537.7" y1="48.60" x2="539.5" y2="48.60" stroke="#4a4a4a" stroke-width="0.6"/>
<text x="537.40" y="50.70" font-size="5.6" fill="#555" text-anchor="end" font-weight="normal" >0.6</text>
<line x1="537.7" y1="30.60" x2="539.5" y2="30.60" stroke="#4a4a4a" stroke-width="0.6"/>
<text x="537.40" y="32.70" font-size="5.6" fill="#555" text-anchor="end" font-weight="normal" >0.8</text>
<line x1="537.7" y1="12.60" x2="539.5" y2="12.60" stroke="#4a4a4a" stroke-width="0.6"/>
<text x="537.40" y="14.70" font-size="5.6" fill="#555" text-anchor="end" font-weight="normal" >1.0</text>
<text transform="translate(524.2,59) rotate(-90)" font-size="8.9" fill="#333" text-anchor="middle">F1 score</text>
<rect x="546.00" y="31.23" width="5.2" height="72.37" fill="#7a7b80"/>
<rect x="551.90" y="32.31" width="5.0" height="71.29" fill="#b3232f"/>
<text x="551.40" y="111.00" font-size="5.8" fill="#444" text-anchor="middle" font-weight="normal" >16L</text>
<text x="551.00" y="30.30" font-size="5.8" fill="#444" text-anchor="start" font-weight="normal" >0.781</text>
<rect x="568.04" y="26.28" width="5.2" height="77.32" fill="#7a7b80"/>
<rect x="573.94" y="31.59" width="5.0" height="72.01" fill="#b3232f"/>
<text x="573.60" y="111.00" font-size="5.8" fill="#444" text-anchor="middle" font-weight="normal" >32L</text>
<text x="573.70" y="28.80" font-size="5.8" fill="#444" text-anchor="start" font-weight="normal" >0.789</text>
<rect x="590.08" y="13.77" width="5.2" height="89.83" fill="#7a7b80"/>
<rect x="595.98" y="12.60" width="5.0" height="91.00" fill="#b3232f"/>
<text x="595.30" y="111.00" font-size="5.8" fill="#444" text-anchor="middle" font-weight="normal" >650M</text>
<text x="595.00" y="10.70" font-size="5.8" fill="#444" text-anchor="start" font-weight="normal" >1.000</text>
<rect x="612.12" y="13.32" width="5.2" height="90.28" fill="#7a7b80"/>
<rect x="618.02" y="14.76" width="5.0" height="88.84" fill="#b3232f"/>
<text x="617.60" y="111.00" font-size="5.8" fill="#444" text-anchor="middle" font-weight="normal" >3B</text>
<text x="616.80" y="12.70" font-size="5.8" fill="#444" text-anchor="start" font-weight="normal" >0.976</text>
<rect x="634.16" y="19.17" width="5.2" height="84.43" fill="#7a7b80"/>
<rect x="640.06" y="19.89" width="5.0" height="83.71" fill="#b3232f"/>
<text x="637.20" y="111.00" font-size="5.8" fill="#444" text-anchor="middle" font-weight="normal" >Dist.map</text>
<text x="639.00" y="16.50" font-size="5.8" fill="#444" text-anchor="start" font-weight="normal" >0.919</text>
<rect x="656.20" y="14.58" width="5.2" height="89.02" fill="#7a7b80"/>
<rect x="662.10" y="18.45" width="5.0" height="85.15" fill="#b3232f"/>
<text x="662.70" y="111.00" font-size="5.8" fill="#444" text-anchor="middle" font-weight="normal" >ESM-IF1</text>
<text x="661.00" y="14.30" font-size="5.8" fill="#444" text-anchor="start" font-weight="normal" >0.935</text>
<line x1="547.5" y1="112.8" x2="577.2" y2="112.8" stroke="#aaa" stroke-width="0.6"/>
<text x="562.20" y="122.20" font-size="8.6" fill="#333" text-anchor="middle" font-weight="normal" >BiLSTM</text>
<line x1="589.5" y1="112.8" x2="621.2" y2="112.8" stroke="#aaa" stroke-width="0.6"/>
<text x="607.20" y="122.20" font-size="8.6" fill="#333" text-anchor="middle" font-weight="normal" >ESM-2</text>
<line x1="632.5" y1="112.8" x2="666.4" y2="112.8" stroke="#aaa" stroke-width="0.6"/>
<text x="650.30" y="122.20" font-size="8.6" fill="#333" text-anchor="middle" font-weight="normal" >Structure</text>
<rect x="570.9" y="131.2" width="4.6" height="4.6" fill="#7a7b80"/>
<text x="577.00" y="135.60" font-size="8.6" fill="#333" text-anchor="start" font-weight="normal" >Validation</text>
<rect x="621.9" y="131.3" width="5.0" height="4.8" fill="#b3232f"/>
<text x="633.20" y="135.60" font-size="8.6" fill="#333" text-anchor="start" font-weight="normal" >Testing</text>
<text x="-0.30" y="154.80" font-size="12" fill="#111" text-anchor="start" font-weight="normal" >e</text>
<rect x="10.2" y="162.3" width="141" height="21" rx="3.2" fill="#fff" stroke="#9a9a9a" stroke-width="0.8"/>
<rect x="14.90" y="167.0" width="12" height="12" fill="#e6e6e6"/>
<rect x="14.40" y="166.5" width="12" height="12" fill="#fff" stroke="#555" stroke-width="0.6"/>
<text x="20.40" y="174.30" font-size="5.2" fill="#333" text-anchor="middle" font-weight="normal" >CLS</text>
<rect x="32.40" y="167.0" width="12" height="12" fill="#e6e6e6"/>
<rect x="31.90" y="166.5" width="12" height="12" fill="#fff" stroke="#555" stroke-width="0.6"/>
<text x="37.90" y="174.90" font-size="8.6" fill="#333" text-anchor="middle" font-weight="normal" >M</text>
<rect x="49.30" y="167.0" width="12" height="12" fill="#e6e6e6"/>
<rect x="48.80" y="166.5" width="12" height="12" fill="#fff" stroke="#555" stroke-width="0.6"/>
<text x="54.80" y="174.90" font-size="8.6" fill="#333" text-anchor="middle" font-weight="normal" >S</text>
<rect x="64.90" y="167.0" width="12" height="12" fill="#e6e6e6"/>
<rect x="64.40" y="166.5" width="12" height="12" fill="#fff" stroke="#555" stroke-width="0.6"/>
<text x="70.40" y="174.90" font-size="8.6" fill="#333" text-anchor="middle" font-weight="normal" >N</text>
<rect x="80.70" y="167.0" width="12" height="12" fill="#e6e6e6"/>
<rect x="80.20" y="166.5" width="12" height="12" fill="#fff" stroke="#555" stroke-width="0.6"/>
<text x="86.20" y="174.90" font-size="8.6" fill="#333" text-anchor="middle" font-weight="normal" >Y</text>
<rect x="116.80" y="167.0" width="12" height="12" fill="#e6e6e6"/>
<rect x="116.30" y="166.5" width="12" height="12" fill="#fff" stroke="#555" stroke-width="0.6"/>
<text x="122.30" y="174.90" font-size="8.6" fill="#333" text-anchor="middle" font-weight="normal" >N</text>
<rect x="133.70" y="167.0" width="12" height="12" fill="#e6e6e6"/>
<rect x="133.20" y="166.5" width="12" height="12" fill="#fff" stroke="#555" stroke-width="0.6"/>
<text x="139.20" y="174.30" font-size="5.2" fill="#333" text-anchor="middle" font-weight="normal" >EOS</text>
<text x="104.90" y="175.50" font-size="8.6" fill="#333" text-anchor="middle" font-weight="normal" >&#8230;</text>
<path d="M79.8,188.0 L82.8,188.0 L82.8,193.39999999999998 L85.1,193.39999999999998 L81.3,197.2 L77.5,193.39999999999998 L79.8,193.39999999999998 Z" fill="#6f6f6f"/>
<rect x="39.5" y="200.1" width="82.5" height="65.2" rx="7" fill="#f07b7b" stroke="#b96b6f" stroke-width="0.5"/>
<rect x="33.0" y="205.4" width="86" height="65" rx="8" fill="#f07b7b" stroke="#b96b6f" stroke-width="0.7"/>
<rect x="22.5" y="221.3" width="86.5" height="60" rx="7" fill="#f07b7b" stroke="#b96b6f" stroke-width="0.5"/>
<rect x="18.2" y="227.8" width="85.5" height="60.2" rx="7" fill="#f07b7b" stroke="#b96b6f" stroke-width="0.7"/>
<text x="78.90" y="214.60" font-size="8.6" fill="#fff" text-anchor="start" font-weight="normal" >ESM-2</text>
<line x1="67.8" y1="217.2" x2="72.4" y2="210.8" stroke="#fff" stroke-width="0.7" stroke-dasharray="0.9,0.9"/>
<path d="M16.3,230.6 L13.6,227.3 L35.2,198.6 L38.4,201.2" fill="none" stroke="#555" stroke-width="0.6"/>
<text transform="translate(19.3,210.8) rotate(-51)" font-size="8.8" fill="#333" text-anchor="middle"><tspan font-style="italic">N</tspan> layers</text>
<rect x="22.3" y="235.9" width="79.7" height="15" rx="7.5" fill="none" stroke="#b96b6f" stroke-width="0.7"/>
<text x="62.10" y="246.30" font-size="8.6" fill="#fff" text-anchor="middle" font-weight="normal" >Multihead attention</text>
<rect x="22.3" y="263.2" width="79.7" height="15.2" rx="7.5" fill="none" stroke="#b96b6f" stroke-width="0.7"/>
<text x="62.10" y="273.90" font-size="8.6" fill="#fff" text-anchor="middle" font-weight="normal" >Feedforward</text>
<path d="M59.3,252.2 L62.3,252.2 L62.3,257.59999999999997 L64.6,257.59999999999997 L60.8,261.4 L57.0,257.59999999999997 L59.3,257.59999999999997 Z" fill="#6f6f6f"/>
<path d="M102,242.5 L126.4,242.5 L136.6,236.3" fill="none" stroke="#8a8a8a" stroke-width="0.6"/>
<rect x="146.65" y="204.90" width="23" height="21.3" rx="3.5" fill="#fff" stroke="#777" stroke-width="0.6"/>
<rect x="143.20" y="209.00" width="23" height="21.3" rx="3.5" fill="#fff" stroke="#777" stroke-width="0.6"/>
<rect x="139.75" y="213.10" width="23" height="21.3" rx="3.5" fill="#fff" stroke="#777" stroke-width="0.6"/>
<rect x="136.30" y="217.20" width="23" height="21.3" rx="3.5" fill="#fff" stroke="#777" stroke-width="0.6"/>
<text x="174.60" y="224.10" font-size="8.6" fill="#333" text-anchor="start" font-weight="normal" >UNet</text>
<text x="206.80" y="217.40" font-size="8.6" fill="#333" text-anchor="start" font-weight="normal" >Features</text>
<line x1="199.8" y1="221.5" x2="243.2" y2="221.5" stroke="#6a6a6a" stroke-width="0.6"/>
<path d="M245.2,221.5 L242.2,220.2 L242.2,222.8 Z" fill="#6a6a6a"/>
<text x="132.70" y="247.90" font-size="8.6" fill="#333" text-anchor="start" font-weight="normal" >Attentions</text>
<text x="126.40" y="269.40" font-size="8.6" fill="#333" text-anchor="start" font-weight="normal" >Encoder output</text>
<path d="M102,270.9 L125,270.9 L145.2,283" fill="none" stroke="#8a8a8a" stroke-width="0.6"/>
<rect x="144" y="272.4" width="24.3" height="24.4" rx="3" fill="#fff" stroke="#777" stroke-width="0.6"/>
<text x="174.60" y="287.50" font-size="8.6" fill="#333" text-anchor="start" font-weight="normal" >UNet</text>
<text x="206.80" y="284.00" font-size="8.6" fill="#333" text-anchor="start" font-weight="normal" >Features</text>
<line x1="199.8" y1="288.5" x2="243.2" y2="288.5" stroke="#6a6a6a" stroke-width="0.6"/>
<path d="M245.2,288.5 L242.2,287.2 L242.2,289.8 Z" fill="#6a6a6a"/>
<rect x="144.1" y="300.1" width="24.5" height="10.4" rx="2.5" fill="#fff" stroke="#777" stroke-width="0.6"/>
<text x="156.35" y="308.30" font-size="7.8" fill="#3a3a3a" text-anchor="middle" font-weight="normal" >CLS</text>
<path d="M168.6,304.7 L211.1,304.7 L211.1,370.2 L242.8,370.2" fill="none" stroke="#8a8a8a" stroke-width="0.6"/>
<path d="M244.8,370.2 L241.8,368.9 L241.8,371.5 Z" fill="#555"/>
<path d="M58.9,291.4 L61.9,291.4 L61.9,296.5 L64.2,296.5 L60.4,300.3 L56.6,296.5 L58.9,296.5 Z" fill="#6f6f6f"/>
<rect x="18.4" y="303.1" width="86.5" height="33.4" rx="4" fill="#fae5c2" stroke="#cdb88e" stroke-width="0.6"/>
<text x="61.60" y="318.40" font-size="8.6" fill="#3c3c3c" text-anchor="middle" font-weight="normal" >Folding trunk &amp;</text>
<text x="61.60" y="328.60" font-size="8.6" fill="#3c3c3c" text-anchor="middle" font-weight="normal" >structure module</text>
<path d="M58.9,341.3 L61.9,341.3 L61.9,345.7 L64.2,345.7 L60.4,349.5 L56.6,345.7 L58.9,345.7 Z" fill="#6f6f6f"/>
<path d="M95.1,355.9 L86.3,355.9 L77.8,375 L86.3,394 L143,394" fill="none" stroke="#8a8a8a" stroke-width="0.6"/>
<rect x="95.1" y="345.1" width="38" height="20.5" rx="2" fill="#f07b7b" stroke="#b96b6f" stroke-width="0.5"/>
<text x="114.10" y="358.60" font-size="8.6" fill="#fff" text-anchor="middle" font-weight="normal" >ESM-IF1</text>
<line x1="133.1" y1="355.8" x2="143.8" y2="355.8" stroke="#8a8a8a" stroke-width="0.6"/>
<rect x="143.8" y="343" width="24.8" height="24.1" rx="3" fill="#fff" stroke="#777" stroke-width="0.6"/>
<text x="128.80" y="375.90" font-size="8.6" fill="#3c3c3c" text-anchor="start" font-weight="normal" >Encoder output</text>
<text x="126.30" y="414.70" font-size="8.6" fill="#333" text-anchor="start" font-weight="normal" >Distance matrix</text>
<rect x="143.80" y="379.70" width="1.28" height="1.28" fill="rgb(68, 1, 84)"/>
<rect x="144.78" y="379.70" width="1.28" height="1.28" fill="rgb(59, 77, 137)"/>
<rect x="145.75" y="379.70" width="1.28" height="1.28" fill="rgb(46, 106, 141)"/>
<rect x="146.73" y="379.70" width="1.28" height="1.28" fill="rgb(56, 84, 138)"/>
<rect x="147.71" y="379.70" width="1.28" height="1.28" fill="rgb(51, 94, 141)"/>
<rect x="148.68" y="379.70" width="1.28" height="1.28" fill="rgb(33, 140, 140)"/>
<rect x="149.66" y="379.70" width="1.28" height="1.28" fill="rgb(32, 146, 139)"/>
<rect x="150.64" y="379.70" width="1.28" height="1.28" fill="rgb(64, 187, 114)"/>
<rect x="151.62" y="379.70" width="1.28" height="1.28" fill="rgb(104, 203, 90)"/>
<rect x="152.59" y="379.70" width="1.28" height="1.28" fill="rgb(102, 202, 92)"/>
<rect x="153.57" y="379.70" width="1.28" height="1.28" fill="rgb(32, 149, 138)"/>
<rect x="154.55" y="379.70" width="1.28" height="1.28" fill="rgb(34, 137, 140)"/>
<rect x="155.52" y="379.70" width="1.28" height="1.28" fill="rgb(43, 114, 141)"/>
<rect x="156.50" y="379.70" width="1.28" height="1.28" fill="rgb(32, 145, 139)"/>
<rect x="157.48" y="379.70" width="1.28" height="1.28" fill="rgb(33, 140, 140)"/>
<rect x="158.45" y="379.70" width="1.28" height="1.28" fill="rgb(46, 107, 141)"/>
<rect x="159.43" y="379.70" width="1.28" height="1.28" fill="rgb(32, 151, 137)"/>
<rect x="160.41" y="379.70" width="1.28" height="1.28" fill="rgb(32, 147, 138)"/>
<rect x="161.38" y="379.70" width="1.28" height="1.28" fill="rgb(37, 129, 141)"/>
<rect x="162.36" y="379.70" width="1.28" height="1.28" fill="rgb(39, 122, 141)"/>
<rect x="163.34" y="379.70" width="1.28" height="1.28" fill="rgb(51, 96, 141)"/>
<rect x="164.32" y="379.70" width="1.28" height="1.28" fill="rgb(54, 87, 139)"/>
<rect x="165.29" y="379.70" width="1.28" height="1.28" fill="rgb(42, 115, 141)"/>
<rect x="166.27" y="379.70" width="1.28" height="1.28" fill="rgb(52, 92, 140)"/>
<rect x="167.25" y="379.70" width="1.28" height="1.28" fill="rgb(49, 99, 141)"/>
<rect x="168.22" y="379.70" width="1.28" height="1.28" fill="rgb(49, 101, 141)"/>
<rect x="143.80" y="380.68" width="1.28" height="1.28" fill="rgb(59, 77, 137)"/>
<rect x="144.78" y="380.68" width="1.28" height="1.28" fill="rgb(68, 1, 84)"/>
<rect x="145.75" y="380.68" width="1.28" height="1.28" fill="rgb(61, 72, 136)"/>
<rect x="146.73" y="380.68" width="1.28" height="1.28" fill="rgb(47, 105, 141)"/>
<rect x="147.71" y="380.68" width="1.28" height="1.28" fill="rgb(50, 97, 141)"/>
<rect x="148.68" y="380.68" width="1.28" height="1.28" fill="rgb(32, 145, 139)"/>
<rect x="149.66" y="380.68" width="1.28" height="1.28" fill="rgb(33, 165, 132)"/>
<rect x="150.64" y="380.68" width="1.28" height="1.28" fill="rgb(93, 199, 96)"/>
<rect x="151.62" y="380.68" width="1.28" height="1.28" fill="rgb(104, 202, 90)"/>
<rect x="152.59" y="380.68" width="1.28" height="1.28" fill="rgb(65, 188, 113)"/>
<rect x="153.57" y="380.68" width="1.28" height="1.28" fill="rgb(86, 196, 101)"/>
<rect x="154.55" y="380.68" width="1.28" height="1.28" fill="rgb(46, 175, 124)"/>
<rect x="155.52" y="380.68" width="1.28" height="1.28" fill="rgb(33, 157, 135)"/>
<rect x="156.50" y="380.68" width="1.28" height="1.28" fill="rgb(32, 149, 138)"/>
<rect x="157.48" y="380.68" width="1.28" height="1.28" fill="rgb(35, 133, 140)"/>
<rect x="158.45" y="380.68" width="1.28" height="1.28" fill="rgb(36, 132, 140)"/>
<rect x="159.43" y="380.68" width="1.28" height="1.28" fill="rgb(34, 137, 140)"/>
<rect x="160.41" y="380.68" width="1.28" height="1.28" fill="rgb(39, 125, 141)"/>
<rect x="161.38" y="380.68" width="1.28" height="1.28" fill="rgb(32, 151, 137)"/>
<rect x="162.36" y="380.68" width="1.28" height="1.28" fill="rgb(39, 124, 141)"/>
<rect x="163.34" y="380.68" width="1.28" height="1.28" fill="rgb(34, 137, 140)"/>
<rect x="164.32" y="380.68" width="1.28" height="1.28" fill="rgb(43, 113, 141)"/>
<rect x="165.29" y="380.68" width="1.28" height="1.28" fill="rgb(32, 144, 139)"/>
<rect x="166.27" y="380.68" width="1.28" height="1.28" fill="rgb(32, 144, 139)"/>
<rect x="167.25" y="380.68" width="1.28" height="1.28" fill="rgb(48, 103, 141)"/>
<rect x="168.22" y="380.68" width="1.28" height="1.28" fill="rgb(45, 109, 141)"/>
<rect x="143.80" y="381.65" width="1.28" height="1.28" fill="rgb(46, 106, 141)"/>
<rect x="144.78" y="381.65" width="1.28" height="1.28" fill="rgb(61, 72, 136)"/>
<rect x="145.75" y="381.65" width="1.28" height="1.28" fill="rgb(68, 1, 84)"/>
<rect x="146.73" y="381.65" width="1.28" height="1.28" fill="rgb(60, 73, 136)"/>
<rect x="147.71" y="381.65" width="1.28" height="1.28" fill="rgb(61, 72, 136)"/>
<rect x="148.68" y="381.65" width="1.28" height="1.28" fill="rgb(32, 142, 140)"/>
<rect x="149.66" y="381.65" width="1.28" height="1.28" fill="rgb(40, 171, 127)"/>
<rect x="150.64" y="381.65" width="1.28" height="1.28" fill="rgb(41, 171, 127)"/>
<rect x="151.62" y="381.65" width="1.28" height="1.28" fill="rgb(46, 175, 124)"/>
<rect x="152.59" y="381.65" width="1.28" height="1.28" fill="rgb(52, 179, 121)"/>
<rect x="153.57" y="381.65" width="1.28" height="1.28" fill="rgb(67, 189, 112)"/>
<rect x="154.55" y="381.65" width="1.28" height="1.28" fill="rgb(33, 162, 133)"/>
<rect x="155.52" y="381.65" width="1.28" height="1.28" fill="rgb(39, 124, 141)"/>
<rect x="156.50" y="381.65" width="1.28" height="1.28" fill="rgb(36, 133, 140)"/>
<rect x="157.48" y="381.65" width="1.28" height="1.28" fill="rgb(35, 133, 140)"/>
<rect x="158.45" y="381.65" width="1.28" height="1.28" fill="rgb(32, 142, 140)"/>
<rect x="159.43" y="381.65" width="1.28" height="1.28" fill="rgb(62, 186, 115)"/>
<rect x="160.41" y="381.65" width="1.28" height="1.28" fill="rgb(33, 160, 134)"/>
<rect x="161.38" y="381.65" width="1.28" height="1.28" fill="rgb(36, 168, 130)"/>
<rect x="162.36" y="381.65" width="1.28" height="1.28" fill="rgb(32, 145, 139)"/>
<rect x="163.34" y="381.65" width="1.28" height="1.28" fill="rgb(41, 117, 141)"/>
<rect x="164.32" y="381.65" width="1.28" height="1.28" fill="rgb(32, 141, 140)"/>
<rect x="165.29" y="381.65" width="1.28" height="1.28" fill="rgb(40, 122, 141)"/>
<rect x="166.27" y="381.65" width="1.28" height="1.28" fill="rgb(33, 157, 135)"/>
<rect x="167.25" y="381.65" width="1.28" height="1.28" fill="rgb(35, 135, 140)"/>
<rect x="168.22" y="381.65" width="1.28" height="1.28" fill="rgb(33, 139, 140)"/>
<rect x="143.80" y="382.63" width="1.28" height="1.28" fill="rgb(56, 84, 138)"/>
<rect x="144.78" y="382.63" width="1.28" height="1.28" fill="rgb(47, 105, 141)"/>
<rect x="145.75" y="382.63" width="1.28" height="1.28" fill="rgb(60, 73, 136)"/>
<rect x="146.73" y="382.63" width="1.28" height="1.28" fill="rgb(68, 1, 84)"/>
<rect x="147.71" y="382.63" width="1.28" height="1.28" fill="rgb(60, 74, 136)"/>
<rect x="148.68" y="382.63" width="1.28" height="1.28" fill="rgb(32, 147, 138)"/>
<rect x="149.66" y="382.63" width="1.28" height="1.28" fill="rgb(36, 131, 141)"/>
<rect x="150.64" y="382.63" width="1.28" height="1.28" fill="rgb(33, 156, 135)"/>
<rect x="151.62" y="382.63" width="1.28" height="1.28" fill="rgb(61, 185, 116)"/>
<rect x="152.59" y="382.63" width="1.28" height="1.28" fill="rgb(40, 171, 128)"/>
<rect x="153.57" y="382.63" width="1.28" height="1.28" fill="rgb(35, 133, 140)"/>
<rect x="154.55" y="382.63" width="1.28" height="1.28" fill="rgb(33, 164, 132)"/>
<rect x="155.52" y="382.63" width="1.28" height="1.28" fill="rgb(38, 125, 141)"/>
<rect x="156.50" y="382.63" width="1.28" height="1.28" fill="rgb(36, 132, 140)"/>
<rect x="157.48" y="382.63" width="1.28" height="1.28" fill="rgb(36, 168, 130)"/>
<rect x="158.45" y="382.63" width="1.28" height="1.28" fill="rgb(33, 166, 132)"/>
<rect x="159.43" y="382.63" width="1.28" height="1.28" fill="rgb(61, 185, 115)"/>
<rect x="160.41" y="382.63" width="1.28" height="1.28" fill="rgb(59, 184, 116)"/>
<rect x="161.38" y="382.63" width="1.28" height="1.28" fill="rgb(43, 173, 126)"/>
<rect x="162.36" y="382.63" width="1.28" height="1.28" fill="rgb(38, 170, 129)"/>
<rect x="163.34" y="382.63" width="1.28" height="1.28" fill="rgb(36, 133, 140)"/>
<rect x="164.32" y="382.63" width="1.28" height="1.28" fill="rgb(32, 148, 138)"/>
<rect x="165.29" y="382.63" width="1.28" height="1.28" fill="rgb(33, 156, 135)"/>
<rect x="166.27" y="382.63" width="1.28" height="1.28" fill="rgb(55, 181, 119)"/>
<rect x="167.25" y="382.63" width="1.28" height="1.28" fill="rgb(112, 205, 86)"/>
<rect x="168.22" y="382.63" width="1.28" height="1.28" fill="rgb(36, 168, 130)"/>
<rect x="143.80" y="383.61" width="1.28" height="1.28" fill="rgb(51, 94, 141)"/>
<rect x="144.78" y="383.61" width="1.28" height="1.28" fill="rgb(50, 97, 141)"/>
<rect x="145.75" y="383.61" width="1.28" height="1.28" fill="rgb(61, 72, 136)"/>
<rect x="146.73" y="383.61" width="1.28" height="1.28" fill="rgb(60, 74, 136)"/>
<rect x="147.71" y="383.61" width="1.28" height="1.28" fill="rgb(68, 1, 84)"/>
<rect x="148.68" y="383.61" width="1.28" height="1.28" fill="rgb(38, 127, 141)"/>
<rect x="149.66" y="383.61" width="1.28" height="1.28" fill="rgb(41, 118, 141)"/>
<rect x="150.64" y="383.61" width="1.28" height="1.28" fill="rgb(39, 124, 141)"/>
<rect x="151.62" y="383.61" width="1.28" height="1.28" fill="rgb(33, 155, 135)"/>
<rect x="152.59" y="383.61" width="1.28" height="1.28" fill="rgb(33, 163, 133)"/>
<rect x="153.57" y="383.61" width="1.28" height="1.28" fill="rgb(39, 123, 141)"/>
<rect x="154.55" y="383.61" width="1.28" height="1.28" fill="rgb(32, 155, 136)"/>
<rect x="155.52" y="383.61" width="1.28" height="1.28" fill="rgb(32, 151, 137)"/>
<rect x="156.50" y="383.61" width="1.28" height="1.28" fill="rgb(32, 143, 140)"/>
<rect x="157.48" y="383.61" width="1.28" height="1.28" fill="rgb(32, 148, 138)"/>
<rect x="158.45" y="383.61" width="1.28" height="1.28" fill="rgb(33, 156, 135)"/>
<rect x="159.43" y="383.61" width="1.28" height="1.28" fill="rgb(52, 179, 121)"/>
<rect x="160.41" y="383.61" width="1.28" height="1.28" fill="rgb(185, 221, 40)"/>
<rect x="161.38" y="383.61" width="1.28" height="1.28" fill="rgb(67, 189, 112)"/>
<rect x="162.36" y="383.61" width="1.28" height="1.28" fill="rgb(57, 183, 118)"/>
<rect x="163.34" y="383.61" width="1.28" height="1.28" fill="rgb(33, 139, 140)"/>
<rect x="164.32" y="383.61" width="1.28" height="1.28" fill="rgb(33, 166, 132)"/>
<rect x="165.29" y="383.61" width="1.28" height="1.28" fill="rgb(56, 182, 118)"/>
<rect x="166.27" y="383.61" width="1.28" height="1.28" fill="rgb(89, 197, 99)"/>
<rect x="167.25" y="383.61" width="1.28" height="1.28" fill="rgb(90, 197, 98)"/>
<rect x="168.22" y="383.61" width="1.28" height="1.28" fill="rgb(87, 197, 100)"/>
<rect x="143.80" y="384.58" width="1.28" height="1.28" fill="rgb(33, 140, 140)"/>
<rect x="144.78" y="384.58" width="1.28" height="1.28" fill="rgb(32, 145, 139)"/>
<rect x="145.75" y="384.58" width="1.28" height="1.28" fill="rgb(32, 142, 140)"/>
<rect x="146.73" y="384.58" width="1.28" height="1.28" fill="rgb(32, 147, 138)"/>
<rect x="147.71" y="384.58" width="1.28" height="1.28" fill="rgb(38, 127, 141)"/>
<rect x="148.68" y="384.58" width="1.28" height="1.28" fill="rgb(71, 28, 109)"/>
<rect x="149.66" y="384.58" width="1.28" height="1.28" fill="rgb(37, 130, 141)"/>
<rect x="150.64" y="384.58" width="1.28" height="1.28" fill="rgb(45, 110, 141)"/>
<rect x="151.62" y="384.58" width="1.28" height="1.28" fill="rgb(47, 103, 141)"/>
<rect x="152.59" y="384.58" width="1.28" height="1.28" fill="rgb(40, 120, 141)"/>
<rect x="153.57" y="384.58" width="1.28" height="1.28" fill="rgb(36, 132, 140)"/>
<rect x="154.55" y="384.58" width="1.28" height="1.28" fill="rgb(42, 115, 141)"/>
<rect x="155.52" y="384.58" width="1.28" height="1.28" fill="rgb(40, 120, 141)"/>
<rect x="156.50" y="384.58" width="1.28" height="1.28" fill="rgb(37, 129, 141)"/>
<rect x="157.48" y="384.58" width="1.28" height="1.28" fill="rgb(32, 146, 139)"/>
<rect x="158.45" y="384.58" width="1.28" height="1.28" fill="rgb(32, 144, 139)"/>
<rect x="159.43" y="384.58" width="1.28" height="1.28" fill="rgb(49, 177, 123)"/>
<rect x="160.41" y="384.58" width="1.28" height="1.28" fill="rgb(123, 209, 79)"/>
<rect x="161.38" y="384.58" width="1.28" height="1.28" fill="rgb(111, 205, 86)"/>
<rect x="162.36" y="384.58" width="1.28" height="1.28" fill="rgb(39, 170, 128)"/>
<rect x="163.34" y="384.58" width="1.28" height="1.28" fill="rgb(32, 154, 136)"/>
<rect x="164.32" y="384.58" width="1.28" height="1.28" fill="rgb(32, 152, 137)"/>
<rect x="165.29" y="384.58" width="1.28" height="1.28" fill="rgb(33, 158, 135)"/>
<rect x="166.27" y="384.58" width="1.28" height="1.28" fill="rgb(58, 183, 117)"/>
<rect x="167.25" y="384.58" width="1.28" height="1.28" fill="rgb(66, 188, 112)"/>
<rect x="168.22" y="384.58" width="1.28" height="1.28" fill="rgb(101, 201, 92)"/>
<rect x="143.80" y="385.56" width="1.28" height="1.28" fill="rgb(32, 146, 139)"/>
<rect x="144.78" y="385.56" width="1.28" height="1.28" fill="rgb(33, 165, 132)"/>
<rect x="145.75" y="385.56" width="1.28" height="1.28" fill="rgb(40, 171, 127)"/>
<rect x="146.73" y="385.56" width="1.28" height="1.28" fill="rgb(36, 131, 141)"/>
<rect x="147.71" y="385.56" width="1.28" height="1.28" fill="rgb(41, 118, 141)"/>
<rect x="148.68" y="385.56" width="1.28" height="1.28" fill="rgb(37, 130, 141)"/>
<rect x="149.66" y="385.56" width="1.28" height="1.28" fill="rgb(71, 28, 109)"/>
<rect x="150.64" y="385.56" width="1.28" height="1.28" fill="rgb(36, 131, 141)"/>
<rect x="151.62" y="385.56" width="1.28" height="1.28" fill="rgb(49, 101, 141)"/>
<rect x="152.59" y="385.56" width="1.28" height="1.28" fill="rgb(34, 136, 140)"/>
<rect x="153.57" y="385.56" width="1.28" height="1.28" fill="rgb(33, 161, 133)"/>
<rect x="154.55" y="385.56" width="1.28" height="1.28" fill="rgb(52, 179, 121)"/>
<rect x="155.52" y="385.56" width="1.28" height="1.28" fill="rgb(34, 167, 131)"/>
<rect x="156.50" y="385.56" width="1.28" height="1.28" fill="rgb(32, 152, 136)"/>
<rect x="157.48" y="385.56" width="1.28" height="1.28" fill="rgb(32, 150, 137)"/>
<rect x="158.45" y="385.56" width="1.28" height="1.28" fill="rgb(33, 161, 133)"/>
<rect x="159.43" y="385.56" width="1.28" height="1.28" fill="rgb(32, 148, 138)"/>
<rect x="160.41" y="385.56" width="1.28" height="1.28" fill="rgb(41, 171, 127)"/>
<rect x="161.38" y="385.56" width="1.28" height="1.28" fill="rgb(48, 176, 123)"/>
<rect x="162.36" y="385.56" width="1.28" height="1.28" fill="rgb(33, 161, 134)"/>
<rect x="163.34" y="385.56" width="1.28" height="1.28" fill="rgb(37, 128, 141)"/>
<rect x="164.32" y="385.56" width="1.28" height="1.28" fill="rgb(32, 149, 138)"/>
<rect x="165.29" y="385.56" width="1.28" height="1.28" fill="rgb(39, 171, 128)"/>
<rect x="166.27" y="385.56" width="1.28" height="1.28" fill="rgb(51, 178, 121)"/>
<rect x="167.25" y="385.56" width="1.28" height="1.28" fill="rgb(60, 184, 116)"/>
<rect x="168.22" y="385.56" width="1.28" height="1.28" fill="rgb(33, 156, 135)"/>
<rect x="143.80" y="386.54" width="1.28" height="1.28" fill="rgb(64, 187, 114)"/>
<rect x="144.78" y="386.54" width="1.28" height="1.28" fill="rgb(93, 199, 96)"/>
<rect x="145.75" y="386.54" width="1.28" height="1.28" fill="rgb(41, 171, 127)"/>
<rect x="146.73" y="386.54" width="1.28" height="1.28" fill="rgb(33, 156, 135)"/>
<rect x="147.71" y="386.54" width="1.28" height="1.28" fill="rgb(39, 124, 141)"/>
<rect x="148.68" y="386.54" width="1.28" height="1.28" fill="rgb(45, 110, 141)"/>
<rect x="149.66" y="386.54" width="1.28" height="1.28" fill="rgb(36, 131, 141)"/>
<rect x="150.64" y="386.54" width="1.28" height="1.28" fill="rgb(71, 28, 109)"/>
<rect x="151.62" y="386.54" width="1.28" height="1.28" fill="rgb(38, 127, 141)"/>
<rect x="152.59" y="386.54" width="1.28" height="1.28" fill="rgb(32, 151, 137)"/>
<rect x="153.57" y="386.54" width="1.28" height="1.28" fill="rgb(48, 176, 123)"/>
<rect x="154.55" y="386.54" width="1.28" height="1.28" fill="rgb(128, 210, 76)"/>
<rect x="155.52" y="386.54" width="1.28" height="1.28" fill="rgb(39, 170, 128)"/>
<rect x="156.50" y="386.54" width="1.28" height="1.28" fill="rgb(40, 171, 128)"/>
<rect x="157.48" y="386.54" width="1.28" height="1.28" fill="rgb(44, 112, 141)"/>
<rect x="158.45" y="386.54" width="1.28" height="1.28" fill="rgb(36, 133, 140)"/>
<rect x="159.43" y="386.54" width="1.28" height="1.28" fill="rgb(36, 130, 141)"/>
<rect x="160.41" y="386.54" width="1.28" height="1.28" fill="rgb(40, 122, 141)"/>
<rect x="161.38" y="386.54" width="1.28" height="1.28" fill="rgb(32, 142, 140)"/>
<rect x="162.36" y="386.54" width="1.28" height="1.28" fill="rgb(38, 126, 141)"/>
<rect x="163.34" y="386.54" width="1.28" height="1.28" fill="rgb(38, 126, 141)"/>
<rect x="164.32" y="386.54" width="1.28" height="1.28" fill="rgb(32, 142, 140)"/>
<rect x="165.29" y="386.54" width="1.28" height="1.28" fill="rgb(41, 119, 141)"/>
<rect x="166.27" y="386.54" width="1.28" height="1.28" fill="rgb(41, 118, 141)"/>
<rect x="167.25" y="386.54" width="1.28" height="1.28" fill="rgb(35, 134, 140)"/>
<rect x="168.22" y="386.54" width="1.28" height="1.28" fill="rgb(32, 143, 140)"/>
<rect x="143.80" y="387.52" width="1.28" height="1.28" fill="rgb(104, 203, 90)"/>
<rect x="144.78" y="387.52" width="1.28" height="1.28" fill="rgb(104, 202, 90)"/>
<rect x="145.75" y="387.52" width="1.28" height="1.28" fill="rgb(46, 175, 124)"/>
<rect x="146.73" y="387.52" width="1.28" height="1.28" fill="rgb(61, 185, 116)"/>
<rect x="147.71" y="387.52" width="1.28" height="1.28" fill="rgb(33, 155, 135)"/>
<rect x="148.68" y="387.52" width="1.28" height="1.28" fill="rgb(47, 103, 141)"/>
<rect x="149.66" y="387.52" width="1.28" height="1.28" fill="rgb(49, 101, 141)"/>
<rect x="150.64" y="387.52" width="1.28" height="1.28" fill="rgb(38, 127, 141)"/>
<rect x="151.62" y="387.52" width="1.28" height="1.28" fill="rgb(71, 28, 109)"/>
<rect x="152.59" y="387.52" width="1.28" height="1.28" fill="rgb(32, 148, 138)"/>
<rect x="153.57" y="387.52" width="1.28" height="1.28" fill="rgb(125, 209, 78)"/>
<rect x="154.55" y="387.52" width="1.28" height="1.28" fill="rgb(208, 224, 37)"/>
<rect x="155.52" y="387.52" width="1.28" height="1.28" fill="rgb(162, 216, 54)"/>
<rect x="156.50" y="387.52" width="1.28" height="1.28" fill="rgb(33, 164, 132)"/>
<rect x="157.48" y="387.52" width="1.28" height="1.28" fill="rgb(33, 139, 140)"/>
<rect x="158.45" y="387.52" width="1.28" height="1.28" fill="rgb(44, 111, 141)"/>
<rect x="159.43" y="387.52" width="1.28" height="1.28" fill="rgb(49, 99, 141)"/>
<rect x="160.41" y="387.52" width="1.28" height="1.28" fill="rgb(41, 119, 141)"/>
<rect x="161.38" y="387.52" width="1.28" height="1.28" fill="rgb(35, 135, 140)"/>
<rect x="162.36" y="387.52" width="1.28" height="1.28" fill="rgb(35, 134, 140)"/>
<rect x="163.34" y="387.52" width="1.28" height="1.28" fill="rgb(38, 126, 141)"/>
<rect x="164.32" y="387.52" width="1.28" height="1.28" fill="rgb(34, 137, 140)"/>
<rect x="165.29" y="387.52" width="1.28" height="1.28" fill="rgb(46, 107, 141)"/>
<rect x="166.27" y="387.52" width="1.28" height="1.28" fill="rgb(47, 104, 141)"/>
<rect x="167.25" y="387.52" width="1.28" height="1.28" fill="rgb(41, 119, 141)"/>
<rect x="168.22" y="387.52" width="1.28" height="1.28" fill="rgb(46, 106, 141)"/>
<rect x="143.80" y="388.49" width="1.28" height="1.28" fill="rgb(102, 202, 92)"/>
<rect x="144.78" y="388.49" width="1.28" height="1.28" fill="rgb(65, 188, 113)"/>
<rect x="145.75" y="388.49" width="1.28" height="1.28" fill="rgb(52, 179, 121)"/>
<rect x="146.73" y="388.49" width="1.28" height="1.28" fill="rgb(40, 171, 128)"/>
<rect x="147.71" y="388.49" width="1.28" height="1.28" fill="rgb(33, 163, 133)"/>
<rect x="148.68" y="388.49" width="1.28" height="1.28" fill="rgb(40, 120, 141)"/>
<rect x="149.66" y="388.49" width="1.28" height="1.28" fill="rgb(34, 136, 140)"/>
<rect x="150.64" y="388.49" width="1.28" height="1.28" fill="rgb(32, 151, 137)"/>
<rect x="151.62" y="388.49" width="1.28" height="1.28" fill="rgb(32, 148, 138)"/>
<rect x="152.59" y="388.49" width="1.28" height="1.28" fill="rgb(71, 28, 109)"/>
<rect x="153.57" y="388.49" width="1.28" height="1.28" fill="rgb(86, 196, 100)"/>
<rect x="154.55" y="388.49" width="1.28" height="1.28" fill="rgb(67, 189, 112)"/>
<rect x="155.52" y="388.49" width="1.28" height="1.28" fill="rgb(101, 202, 92)"/>
<rect x="156.50" y="388.49" width="1.28" height="1.28" fill="rgb(33, 163, 133)"/>
<rect x="157.48" y="388.49" width="1.28" height="1.28" fill="rgb(40, 121, 141)"/>
<rect x="158.45" y="388.49" width="1.28" height="1.28" fill="rgb(36, 131, 141)"/>
<rect x="159.43" y="388.49" width="1.28" height="1.28" fill="rgb(54, 88, 139)"/>
<rect x="160.41" y="388.49" width="1.28" height="1.28" fill="rgb(51, 95, 141)"/>
<rect x="161.38" y="388.49" width="1.28" height="1.28" fill="rgb(43, 113, 141)"/>
<rect x="162.36" y="388.49" width="1.28" height="1.28" fill="rgb(52, 91, 140)"/>
<rect x="163.34" y="388.49" width="1.28" height="1.28" fill="rgb(36, 132, 140)"/>
<rect x="164.32" y="388.49" width="1.28" height="1.28" fill="rgb(48, 102, 141)"/>
<rect x="165.29" y="388.49" width="1.28" height="1.28" fill="rgb(50, 97, 141)"/>
<rect x="166.27" y="388.49" width="1.28" height="1.28" fill="rgb(53, 91, 140)"/>
<rect x="167.25" y="388.49" width="1.28" height="1.28" fill="rgb(40, 120, 141)"/>
<rect x="168.22" y="388.49" width="1.28" height="1.28" fill="rgb(45, 109, 141)"/>
<rect x="143.80" y="389.47" width="1.28" height="1.28" fill="rgb(32, 149, 138)"/>
<rect x="144.78" y="389.47" width="1.28" height="1.28" fill="rgb(86, 196, 101)"/>
<rect x="145.75" y="389.47" width="1.28" height="1.28" fill="rgb(67, 189, 112)"/>
<rect x="146.73" y="389.47" width="1.28" height="1.28" fill="rgb(35, 133, 140)"/>
<rect x="147.71" y="389.47" width="1.28" height="1.28" fill="rgb(39, 123, 141)"/>
<rect x="148.68" y="389.47" width="1.28" height="1.28" fill="rgb(36, 132, 140)"/>
<rect x="149.66" y="389.47" width="1.28" height="1.28" fill="rgb(33, 161, 133)"/>
<rect x="150.64" y="389.47" width="1.28" height="1.28" fill="rgb(48, 176, 123)"/>
<rect x="151.62" y="389.47" width="1.28" height="1.28" fill="rgb(125, 209, 78)"/>
<rect x="152.59" y="389.47" width="1.28" height="1.28" fill="rgb(86, 196, 100)"/>
<rect x="153.57" y="389.47" width="1.28" height="1.28" fill="rgb(71, 28, 109)"/>
<rect x="154.55" y="389.47" width="1.28" height="1.28" fill="rgb(32, 149, 138)"/>
<rect x="155.52" y="389.47" width="1.28" height="1.28" fill="rgb(32, 150, 137)"/>
<rect x="156.50" y="389.47" width="1.28" height="1.28" fill="rgb(36, 131, 141)"/>
<rect x="157.48" y="389.47" width="1.28" height="1.28" fill="rgb(36, 131, 141)"/>
<rect x="158.45" y="389.47" width="1.28" height="1.28" fill="rgb(42, 115, 141)"/>
<rect x="159.43" y="389.47" width="1.28" height="1.28" fill="rgb(41, 119, 141)"/>
<rect x="160.41" y="389.47" width="1.28" height="1.28" fill="rgb(37, 128, 141)"/>
<rect x="161.38" y="389.47" width="1.28" height="1.28" fill="rgb(43, 113, 141)"/>
<rect x="162.36" y="389.47" width="1.28" height="1.28" fill="rgb(34, 136, 140)"/>
<rect x="163.34" y="389.47" width="1.28" height="1.28" fill="rgb(32, 142, 140)"/>
<rect x="164.32" y="389.47" width="1.28" height="1.28" fill="rgb(49, 101, 141)"/>
<rect x="165.29" y="389.47" width="1.28" height="1.28" fill="rgb(33, 140, 140)"/>
<rect x="166.27" y="389.47" width="1.28" height="1.28" fill="rgb(38, 127, 141)"/>
<rect x="167.25" y="389.47" width="1.28" height="1.28" fill="rgb(51, 94, 141)"/>
<rect x="168.22" y="389.47" width="1.28" height="1.28" fill="rgb(45, 109, 141)"/>
<rect x="143.80" y="390.45" width="1.28" height="1.28" fill="rgb(34, 137, 140)"/>
<rect x="144.78" y="390.45" width="1.28" height="1.28" fill="rgb(46, 175, 124)"/>
<rect x="145.75" y="390.45" width="1.28" height="1.28" fill="rgb(33, 162, 133)"/>
<rect x="146.73" y="390.45" width="1.28" height="1.28" fill="rgb(33, 164, 132)"/>
<rect x="147.71" y="390.45" width="1.28" height="1.28" fill="rgb(32, 155, 136)"/>
<rect x="148.68" y="390.45" width="1.28" height="1.28" fill="rgb(42, 115, 141)"/>
<rect x="149.66" y="390.45" width="1.28" height="1.28" fill="rgb(52, 179, 121)"/>
<rect x="150.64" y="390.45" width="1.28" height="1.28" fill="rgb(128, 210, 76)"/>
<rect x="151.62" y="390.45" width="1.28" height="1.28" fill="rgb(208, 224, 37)"/>
<rect x="152.59" y="390.45" width="1.28" height="1.28" fill="rgb(67, 189, 112)"/>
<rect x="153.57" y="390.45" width="1.28" height="1.28" fill="rgb(32, 149, 138)"/>
<rect x="154.55" y="390.45" width="1.28" height="1.28" fill="rgb(71, 28, 109)"/>
<rect x="155.52" y="390.45" width="1.28" height="1.28" fill="rgb(37, 128, 141)"/>
<rect x="156.50" y="390.45" width="1.28" height="1.28" fill="rgb(36, 132, 140)"/>
<rect x="157.48" y="390.45" width="1.28" height="1.28" fill="rgb(49, 100, 141)"/>
<rect x="158.45" y="390.45" width="1.28" height="1.28" fill="rgb(36, 133, 140)"/>
<rect x="159.43" y="390.45" width="1.28" height="1.28" fill="rgb(33, 139, 140)"/>
<rect x="160.41" y="390.45" width="1.28" height="1.28" fill="rgb(32, 143, 140)"/>
<rect x="161.38" y="390.45" width="1.28" height="1.28" fill="rgb(37, 128, 141)"/>
<rect x="162.36" y="390.45" width="1.28" height="1.28" fill="rgb(32, 145, 139)"/>
<rect x="163.34" y="390.45" width="1.28" height="1.28" fill="rgb(39, 125, 141)"/>
<rect x="164.32" y="390.45" width="1.28" height="1.28" fill="rgb(32, 151, 137)"/>
<rect x="165.29" y="390.45" width="1.28" height="1.28" fill="rgb(32, 143, 140)"/>
<rect x="166.27" y="390.45" width="1.28" height="1.28" fill="rgb(43, 113, 141)"/>
<rect x="167.25" y="390.45" width="1.28" height="1.28" fill="rgb(51, 94, 141)"/>
<rect x="168.22" y="390.45" width="1.28" height="1.28" fill="rgb(45, 109, 141)"/>
<rect x="143.80" y="391.42" width="1.28" height="1.28" fill="rgb(43, 114, 141)"/>
<rect x="144.78" y="391.42" width="1.28" height="1.28" fill="rgb(33, 157, 135)"/>
<rect x="145.75" y="391.42" width="1.28" height="1.28" fill="rgb(39, 124, 141)"/>
<rect x="146.73" y="391.42" width="1.28" height="1.28" fill="rgb(38, 125, 141)"/>
<rect x="147.71" y="391.42" width="1.28" height="1.28" fill="rgb(32, 151, 137)"/>
<rect x="148.68" y="391.42" width="1.28" height="1.28" fill="rgb(40, 120, 141)"/>
<rect x="149.66" y="391.42" width="1.28" height="1.28" fill="rgb(34, 167, 131)"/>
<rect x="150.64" y="391.42" width="1.28" height="1.28" fill="rgb(39, 170, 128)"/>
<rect x="151.62" y="391.42" width="1.28" height="1.28" fill="rgb(162, 216, 54)"/>
<rect x="152.59" y="391.42" width="1.28" height="1.28" fill="rgb(101, 202, 92)"/>
<rect x="153.57" y="391.42" width="1.28" height="1.28" fill="rgb(32, 150, 137)"/>
<rect x="154.55" y="391.42" width="1.28" height="1.28" fill="rgb(37, 128, 141)"/>
<rect x="155.52" y="391.42" width="1.28" height="1.28" fill="rgb(71, 28, 109)"/>
<rect x="156.50" y="391.42" width="1.28" height="1.28" fill="rgb(42, 115, 141)"/>
<rect x="157.48" y="391.42" width="1.28" height="1.28" fill="rgb(37, 129, 141)"/>
<rect x="158.45" y="391.42" width="1.28" height="1.28" fill="rgb(39, 123, 141)"/>
<rect x="159.43" y="391.42" width="1.28" height="1.28" fill="rgb(33, 140, 140)"/>
<rect x="160.41" y="391.42" width="1.28" height="1.28" fill="rgb(38, 125, 141)"/>
<rect x="161.38" y="391.42" width="1.28" height="1.28" fill="rgb(33, 155, 135)"/>
<rect x="162.36" y="391.42" width="1.28" height="1.28" fill="rgb(39, 122, 141)"/>
<rect x="163.34" y="391.42" width="1.28" height="1.28" fill="rgb(36, 132, 140)"/>
<rect x="164.32" y="391.42" width="1.28" height="1.28" fill="rgb(32, 144, 139)"/>
<rect x="165.29" y="391.42" width="1.28" height="1.28" fill="rgb(38, 125, 141)"/>
<rect x="166.27" y="391.42" width="1.28" height="1.28" fill="rgb(34, 137, 140)"/>
<rect x="167.25" y="391.42" width="1.28" height="1.28" fill="rgb(38, 125, 141)"/>
<rect x="168.22" y="391.42" width="1.28" height="1.28" fill="rgb(43, 114, 141)"/>
<rect x="143.80" y="392.40" width="1.28" height="1.28" fill="rgb(32, 145, 139)"/>
<rect x="144.78" y="392.40" width="1.28" height="1.28" fill="rgb(32, 149, 138)"/>
<rect x="145.75" y="392.40" width="1.28" height="1.28" fill="rgb(36, 133, 140)"/>
<rect x="146.73" y="392.40" width="1.28" height="1.28" fill="rgb(36, 132, 140)"/>
<rect x="147.71" y="392.40" width="1.28" height="1.28" fill="rgb(32, 143, 140)"/>
<rect x="148.68" y="392.40" width="1.28" height="1.28" fill="rgb(37, 129, 141)"/>
<rect x="149.66" y="392.40" width="1.28" height="1.28" fill="rgb(32, 152, 136)"/>
<rect x="150.64" y="392.40" width="1.28" height="1.28" fill="rgb(40, 171, 128)"/>
<rect x="151.62" y="392.40" width="1.28" height="1.28" fill="rgb(33, 164, 132)"/>
<rect x="152.59" y="392.40" width="1.28" height="1.28" fill="rgb(33, 163, 133)"/>
<rect x="153.57" y="392.40" width="1.28" height="1.28" fill="rgb(36, 131, 141)"/>
<rect x="154.55" y="392.40" width="1.28" height="1.28" fill="rgb(36, 132, 140)"/>
<rect x="155.52" y="392.40" width="1.28" height="1.28" fill="rgb(42, 115, 141)"/>
<rect x="156.50" y="392.40" width="1.28" height="1.28" fill="rgb(68, 1, 84)"/>
<rect x="157.48" y="392.40" width="1.28" height="1.28" fill="rgb(56, 83, 138)"/>
<rect x="158.45" y="392.40" width="1.28" height="1.28" fill="rgb(62, 69, 135)"/>
<rect x="159.43" y="392.40" width="1.28" height="1.28" fill="rgb(37, 130, 141)"/>
<rect x="160.41" y="392.40" width="1.28" height="1.28" fill="rgb(40, 122, 141)"/>
<rect x="161.38" y="392.40" width="1.28" height="1.28" fill="rgb(36, 132, 140)"/>
<rect x="162.36" y="392.40" width="1.28" height="1.28" fill="rgb(33, 162, 133)"/>
<rect x="163.34" y="392.40" width="1.28" height="1.28" fill="rgb(33, 156, 135)"/>
<rect x="164.32" y="392.40" width="1.28" height="1.28" fill="rgb(32, 150, 137)"/>
<rect x="165.29" y="392.40" width="1.28" height="1.28" fill="rgb(32, 150, 137)"/>
<rect x="166.27" y="392.40" width="1.28" height="1.28" fill="rgb(45, 109, 141)"/>
<rect x="167.25" y="392.40" width="1.28" height="1.28" fill="rgb(39, 123, 141)"/>
<rect x="168.22" y="392.40" width="1.28" height="1.28" fill="rgb(45, 110, 141)"/>
<rect x="143.80" y="393.38" width="1.28" height="1.28" fill="rgb(33, 140, 140)"/>
<rect x="144.78" y="393.38" width="1.28" height="1.28" fill="rgb(35, 133, 140)"/>
<rect x="145.75" y="393.38" width="1.28" height="1.28" fill="rgb(35, 133, 140)"/>
<rect x="146.73" y="393.38" width="1.28" height="1.28" fill="rgb(36, 168, 130)"/>
<rect x="147.71" y="393.38" width="1.28" height="1.28" fill="rgb(32, 148, 138)"/>
<rect x="148.68" y="393.38" width="1.28" height="1.28" fill="rgb(32, 146, 139)"/>
<rect x="149.66" y="393.38" width="1.28" height="1.28" fill="rgb(32, 150, 137)"/>
<rect x="150.64" y="393.38" width="1.28" height="1.28" fill="rgb(44, 112, 141)"/>
<rect x="151.62" y="393.38" width="1.28" height="1.28" fill="rgb(33, 139, 140)"/>
<rect x="152.59" y="393.38" width="1.28" height="1.28" fill="rgb(40, 121, 141)"/>
<rect x="153.57" y="393.38" width="1.28" height="1.28" fill="rgb(36, 131, 141)"/>
<rect x="154.55" y="393.38" width="1.28" height="1.28" fill="rgb(49, 100, 141)"/>
<rect x="155.52" y="393.38" width="1.28" height="1.28" fill="rgb(37, 129, 141)"/>
<rect x="156.50" y="393.38" width="1.28" height="1.28" fill="rgb(56, 83, 138)"/>
<rect x="157.48" y="393.38" width="1.28" height="1.28" fill="rgb(68, 1, 84)"/>
<rect x="158.45" y="393.38" width="1.28" height="1.28" fill="rgb(66, 58, 130)"/>
<rect x="159.43" y="393.38" width="1.28" height="1.28" fill="rgb(55, 86, 139)"/>
<rect x="160.41" y="393.38" width="1.28" height="1.28" fill="rgb(47, 104, 141)"/>
<rect x="161.38" y="393.38" width="1.28" height="1.28" fill="rgb(32, 144, 139)"/>
<rect x="162.36" y="393.38" width="1.28" height="1.28" fill="rgb(33, 140, 140)"/>
<rect x="163.34" y="393.38" width="1.28" height="1.28" fill="rgb(32, 148, 138)"/>
<rect x="164.32" y="393.38" width="1.28" height="1.28" fill="rgb(33, 158, 135)"/>
<rect x="165.29" y="393.38" width="1.28" height="1.28" fill="rgb(39, 124, 141)"/>
<rect x="166.27" y="393.38" width="1.28" height="1.28" fill="rgb(32, 142, 140)"/>
<rect x="167.25" y="393.38" width="1.28" height="1.28" fill="rgb(48, 102, 141)"/>
<rect x="168.22" y="393.38" width="1.28" height="1.28" fill="rgb(42, 115, 141)"/>
<rect x="143.80" y="394.35" width="1.28" height="1.28" fill="rgb(46, 107, 141)"/>
<rect x="144.78" y="394.35" width="1.28" height="1.28" fill="rgb(36, 132, 140)"/>
<rect x="145.75" y="394.35" width="1.28" height="1.28" fill="rgb(32, 142, 140)"/>
<rect x="146.73" y="394.35" width="1.28" height="1.28" fill="rgb(33, 166, 132)"/>
<rect x="147.71" y="394.35" width="1.28" height="1.28" fill="rgb(33, 156, 135)"/>
<rect x="148.68" y="394.35" width="1.28" height="1.28" fill="rgb(32, 144, 139)"/>
<rect x="149.66" y="394.35" width="1.28" height="1.28" fill="rgb(33, 161, 133)"/>
<rect x="150.64" y="394.35" width="1.28" height="1.28" fill="rgb(36, 133, 140)"/>
<rect x="151.62" y="394.35" width="1.28" height="1.28" fill="rgb(44, 111, 141)"/>
<rect x="152.59" y="394.35" width="1.28" height="1.28" fill="rgb(36, 131, 141)"/>
<rect x="153.57" y="394.35" width="1.28" height="1.28" fill="rgb(42, 115, 141)"/>
<rect x="154.55" y="394.35" width="1.28" height="1.28" fill="rgb(36, 133, 140)"/>
<rect x="155.52" y="394.35" width="1.28" height="1.28" fill="rgb(39, 123, 141)"/>
<rect x="156.50" y="394.35" width="1.28" height="1.28" fill="rgb(62, 69, 135)"/>
<rect x="157.48" y="394.35" width="1.28" height="1.28" fill="rgb(66, 58, 130)"/>
<rect x="158.45" y="394.35" width="1.28" height="1.28" fill="rgb(68, 1, 84)"/>
<rect x="159.43" y="394.35" width="1.28" height="1.28" fill="rgb(49, 100, 141)"/>
<rect x="160.41" y="394.35" width="1.28" height="1.28" fill="rgb(38, 126, 141)"/>
<rect x="161.38" y="394.35" width="1.28" height="1.28" fill="rgb(32, 146, 139)"/>
<rect x="162.36" y="394.35" width="1.28" height="1.28" fill="rgb(36, 131, 141)"/>
<rect x="163.34" y="394.35" width="1.28" height="1.28" fill="rgb(33, 138, 140)"/>
<rect x="164.32" y="394.35" width="1.28" height="1.28" fill="rgb(33, 166, 132)"/>
<rect x="165.29" y="394.35" width="1.28" height="1.28" fill="rgb(38, 125, 141)"/>
<rect x="166.27" y="394.35" width="1.28" height="1.28" fill="rgb(32, 152, 137)"/>
<rect x="167.25" y="394.35" width="1.28" height="1.28" fill="rgb(33, 139, 140)"/>
<rect x="168.22" y="394.35" width="1.28" height="1.28" fill="rgb(51, 95, 141)"/>
<rect x="143.80" y="395.33" width="1.28" height="1.28" fill="rgb(32, 151, 137)"/>
<rect x="144.78" y="395.33" width="1.28" height="1.28" fill="rgb(34, 137, 140)"/>
<rect x="145.75" y="395.33" width="1.28" height="1.28" fill="rgb(62, 186, 115)"/>
<rect x="146.73" y="395.33" width="1.28" height="1.28" fill="rgb(61, 185, 115)"/>
<rect x="147.71" y="395.33" width="1.28" height="1.28" fill="rgb(52, 179, 121)"/>
<rect x="148.68" y="395.33" width="1.28" height="1.28" fill="rgb(49, 177, 123)"/>
<rect x="149.66" y="395.33" width="1.28" height="1.28" fill="rgb(32, 148, 138)"/>
<rect x="150.64" y="395.33" width="1.28" height="1.28" fill="rgb(36, 130, 141)"/>
<rect x="151.62" y="395.33" width="1.28" height="1.28" fill="rgb(49, 99, 141)"/>
<rect x="152.59" y="395.33" width="1.28" height="1.28" fill="rgb(54, 88, 139)"/>
<rect x="153.57" y="395.33" width="1.28" height="1.28" fill="rgb(41, 119, 141)"/>
<rect x="154.55" y="395.33" width="1.28" height="1.28" fill="rgb(33, 139, 140)"/>
<rect x="155.52" y="395.33" width="1.28" height="1.28" fill="rgb(33, 140, 140)"/>
<rect x="156.50" y="395.33" width="1.28" height="1.28" fill="rgb(37, 130, 141)"/>
<rect x="157.48" y="395.33" width="1.28" height="1.28" fill="rgb(55, 86, 139)"/>
<rect x="158.45" y="395.33" width="1.28" height="1.28" fill="rgb(49, 100, 141)"/>
<rect x="159.43" y="395.33" width="1.28" height="1.28" fill="rgb(68, 1, 84)"/>
<rect x="160.41" y="395.33" width="1.28" height="1.28" fill="rgb(46, 105, 141)"/>
<rect x="161.38" y="395.33" width="1.28" height="1.28" fill="rgb(43, 114, 141)"/>
<rect x="162.36" y="395.33" width="1.28" height="1.28" fill="rgb(35, 134, 140)"/>
<rect x="163.34" y="395.33" width="1.28" height="1.28" fill="rgb(41, 117, 141)"/>
<rect x="164.32" y="395.33" width="1.28" height="1.28" fill="rgb(43, 112, 141)"/>
<rect x="165.29" y="395.33" width="1.28" height="1.28" fill="rgb(45, 110, 141)"/>
<rect x="166.27" y="395.33" width="1.28" height="1.28" fill="rgb(49, 99, 141)"/>
<rect x="167.25" y="395.33" width="1.28" height="1.28" fill="rgb(41, 119, 141)"/>
<rect x="168.22" y="395.33" width="1.28" height="1.28" fill="rgb(43, 113, 141)"/>
<rect x="143.80" y="396.31" width="1.28" height="1.28" fill="rgb(32, 147, 138)"/>
<rect x="144.78" y="396.31" width="1.28" height="1.28" fill="rgb(39, 125, 141)"/>
<rect x="145.75" y="396.31" width="1.28" height="1.28" fill="rgb(33, 160, 134)"/>
<rect x="146.73" y="396.31" width="1.28" height="1.28" fill="rgb(59, 184, 116)"/>
<rect x="147.71" y="396.31" width="1.28" height="1.28" fill="rgb(185, 221, 40)"/>
<rect x="148.68" y="396.31" width="1.28" height="1.28" fill="rgb(123, 209, 79)"/>
<rect x="149.66" y="396.31" width="1.28" height="1.28" fill="rgb(41, 171, 127)"/>
<rect x="150.64" y="396.31" width="1.28" height="1.28" fill="rgb(40, 122, 141)"/>
<rect x="151.62" y="396.31" width="1.28" height="1.28" fill="rgb(41, 119, 141)"/>
<rect x="152.59" y="396.31" width="1.28" height="1.28" fill="rgb(51, 95, 141)"/>
<rect x="153.57" y="396.31" width="1.28" height="1.28" fill="rgb(37, 128, 141)"/>
<rect x="154.55" y="396.31" width="1.28" height="1.28" fill="rgb(32, 143, 140)"/>
<rect x="155.52" y="396.31" width="1.28" height="1.28" fill="rgb(38, 125, 141)"/>
<rect x="156.50" y="396.31" width="1.28" height="1.28" fill="rgb(40, 122, 141)"/>
<rect x="157.48" y="396.31" width="1.28" height="1.28" fill="rgb(47, 104, 141)"/>
<rect x="158.45" y="396.31" width="1.28" height="1.28" fill="rgb(38, 126, 141)"/>
<rect x="159.43" y="396.31" width="1.28" height="1.28" fill="rgb(46, 105, 141)"/>
<rect x="160.41" y="396.31" width="1.28" height="1.28" fill="rgb(68, 1, 84)"/>
<rect x="161.38" y="396.31" width="1.28" height="1.28" fill="rgb(48, 102, 141)"/>
<rect x="162.36" y="396.31" width="1.28" height="1.28" fill="rgb(38, 127, 141)"/>
<rect x="163.34" y="396.31" width="1.28" height="1.28" fill="rgb(49, 99, 141)"/>
<rect x="164.32" y="396.31" width="1.28" height="1.28" fill="rgb(42, 116, 141)"/>
<rect x="165.29" y="396.31" width="1.28" height="1.28" fill="rgb(37, 130, 141)"/>
<rect x="166.27" y="396.31" width="1.28" height="1.28" fill="rgb(44, 111, 141)"/>
<rect x="167.25" y="396.31" width="1.28" height="1.28" fill="rgb(50, 97, 141)"/>
<rect x="168.22" y="396.31" width="1.28" height="1.28" fill="rgb(51, 94, 141)"/>
<rect x="143.80" y="397.28" width="1.28" height="1.28" fill="rgb(37, 129, 141)"/>
<rect x="144.78" y="397.28" width="1.28" height="1.28" fill="rgb(32, 151, 137)"/>
<rect x="145.75" y="397.28" width="1.28" height="1.28" fill="rgb(36, 168, 130)"/>
<rect x="146.73" y="397.28" width="1.28" height="1.28" fill="rgb(43, 173, 126)"/>
<rect x="147.71" y="397.28" width="1.28" height="1.28" fill="rgb(67, 189, 112)"/>
<rect x="148.68" y="397.28" width="1.28" height="1.28" fill="rgb(111, 205, 86)"/>
<rect x="149.66" y="397.28" width="1.28" height="1.28" fill="rgb(48, 176, 123)"/>
<rect x="150.64" y="397.28" width="1.28" height="1.28" fill="rgb(32, 142, 140)"/>
<rect x="151.62" y="397.28" width="1.28" height="1.28" fill="rgb(35, 135, 140)"/>
<rect x="152.59" y="397.28" width="1.28" height="1.28" fill="rgb(43, 113, 141)"/>
<rect x="153.57" y="397.28" width="1.28" height="1.28" fill="rgb(43, 113, 141)"/>
<rect x="154.55" y="397.28" width="1.28" height="1.28" fill="rgb(37, 128, 141)"/>
<rect x="155.52" y="397.28" width="1.28" height="1.28" fill="rgb(33, 155, 135)"/>
<rect x="156.50" y="397.28" width="1.28" height="1.28" fill="rgb(36, 132, 140)"/>
<rect x="157.48" y="397.28" width="1.28" height="1.28" fill="rgb(32, 144, 139)"/>
<rect x="158.45" y="397.28" width="1.28" height="1.28" fill="rgb(32, 146, 139)"/>
<rect x="159.43" y="397.28" width="1.28" height="1.28" fill="rgb(43, 114, 141)"/>
<rect x="160.41" y="397.28" width="1.28" height="1.28" fill="rgb(48, 102, 141)"/>
<rect x="161.38" y="397.28" width="1.28" height="1.28" fill="rgb(68, 1, 84)"/>
<rect x="162.36" y="397.28" width="1.28" height="1.28" fill="rgb(47, 105, 141)"/>
<rect x="163.34" y="397.28" width="1.28" height="1.28" fill="rgb(44, 111, 141)"/>
<rect x="164.32" y="397.28" width="1.28" height="1.28" fill="rgb(41, 118, 141)"/>
<rect x="165.29" y="397.28" width="1.28" height="1.28" fill="rgb(40, 121, 141)"/>
<rect x="166.27" y="397.28" width="1.28" height="1.28" fill="rgb(47, 104, 141)"/>
<rect x="167.25" y="397.28" width="1.28" height="1.28" fill="rgb(40, 121, 141)"/>
<rect x="168.22" y="397.28" width="1.28" height="1.28" fill="rgb(55, 87, 139)"/>
<rect x="143.80" y="398.26" width="1.28" height="1.28" fill="rgb(39, 122, 141)"/>
<rect x="144.78" y="398.26" width="1.28" height="1.28" fill="rgb(39, 124, 141)"/>
<rect x="145.75" y="398.26" width="1.28" height="1.28" fill="rgb(32, 145, 139)"/>
<rect x="146.73" y="398.26" width="1.28" height="1.28" fill="rgb(38, 170, 129)"/>
<rect x="147.71" y="398.26" width="1.28" height="1.28" fill="rgb(57, 183, 118)"/>
<rect x="148.68" y="398.26" width="1.28" height="1.28" fill="rgb(39, 170, 128)"/>
<rect x="149.66" y="398.26" width="1.28" height="1.28" fill="rgb(33, 161, 134)"/>
<rect x="150.64" y="398.26" width="1.28" height="1.28" fill="rgb(38, 126, 141)"/>
<rect x="151.62" y="398.26" width="1.28" height="1.28" fill="rgb(35, 134, 140)"/>
<rect x="152.59" y="398.26" width="1.28" height="1.28" fill="rgb(52, 91, 140)"/>
<rect x="153.57" y="398.26" width="1.28" height="1.28" fill="rgb(34, 136, 140)"/>
<rect x="154.55" y="398.26" width="1.28" height="1.28" fill="rgb(32, 145, 139)"/>
<rect x="155.52" y="398.26" width="1.28" height="1.28" fill="rgb(39, 122, 141)"/>
<rect x="156.50" y="398.26" width="1.28" height="1.28" fill="rgb(33, 162, 133)"/>
<rect x="157.48" y="398.26" width="1.28" height="1.28" fill="rgb(33, 140, 140)"/>
<rect x="158.45" y="398.26" width="1.28" height="1.28" fill="rgb(36, 131, 141)"/>
<rect x="159.43" y="398.26" width="1.28" height="1.28" fill="rgb(35, 134, 140)"/>
<rect x="160.41" y="398.26" width="1.28" height="1.28" fill="rgb(38, 127, 141)"/>
<rect x="161.38" y="398.26" width="1.28" height="1.28" fill="rgb(47, 105, 141)"/>
<rect x="162.36" y="398.26" width="1.28" height="1.28" fill="rgb(68, 1, 84)"/>
<rect x="163.34" y="398.26" width="1.28" height="1.28" fill="rgb(54, 87, 139)"/>
<rect x="164.32" y="398.26" width="1.28" height="1.28" fill="rgb(46, 106, 141)"/>
<rect x="165.29" y="398.26" width="1.28" height="1.28" fill="rgb(55, 85, 139)"/>
<rect x="166.27" y="398.26" width="1.28" height="1.28" fill="rgb(50, 97, 141)"/>
<rect x="167.25" y="398.26" width="1.28" height="1.28" fill="rgb(57, 81, 138)"/>
<rect x="168.22" y="398.26" width="1.28" height="1.28" fill="rgb(53, 91, 140)"/>
<rect x="143.80" y="399.24" width="1.28" height="1.28" fill="rgb(51, 96, 141)"/>
<rect x="144.78" y="399.24" width="1.28" height="1.28" fill="rgb(34, 137, 140)"/>
<rect x="145.75" y="399.24" width="1.28" height="1.28" fill="rgb(41, 117, 141)"/>
<rect x="146.73" y="399.24" width="1.28" height="1.28" fill="rgb(36, 133, 140)"/>
<rect x="147.71" y="399.24" width="1.28" height="1.28" fill="rgb(33, 139, 140)"/>
<rect x="148.68" y="399.24" width="1.28" height="1.28" fill="rgb(32, 154, 136)"/>
<rect x="149.66" y="399.24" width="1.28" height="1.28" fill="rgb(37, 128, 141)"/>
<rect x="150.64" y="399.24" width="1.28" height="1.28" fill="rgb(38, 126, 141)"/>
<rect x="151.62" y="399.24" width="1.28" height="1.28" fill="rgb(38, 126, 141)"/>
<rect x="152.59" y="399.24" width="1.28" height="1.28" fill="rgb(36, 132, 140)"/>
<rect x="153.57" y="399.24" width="1.28" height="1.28" fill="rgb(32, 142, 140)"/>
<rect x="154.55" y="399.24" width="1.28" height="1.28" fill="rgb(39, 125, 141)"/>
<rect x="155.52" y="399.24" width="1.28" height="1.28" fill="rgb(36, 132, 140)"/>
<rect x="156.50" y="399.24" width="1.28" height="1.28" fill="rgb(33, 156, 135)"/>
<rect x="157.48" y="399.24" width="1.28" height="1.28" fill="rgb(32, 148, 138)"/>
<rect x="158.45" y="399.24" width="1.28" height="1.28" fill="rgb(33, 138, 140)"/>
<rect x="159.43" y="399.24" width="1.28" height="1.28" fill="rgb(41, 117, 141)"/>
<rect x="160.41" y="399.24" width="1.28" height="1.28" fill="rgb(49, 99, 141)"/>
<rect x="161.38" y="399.24" width="1.28" height="1.28" fill="rgb(44, 111, 141)"/>
<rect x="162.36" y="399.24" width="1.28" height="1.28" fill="rgb(54, 87, 139)"/>
<rect x="163.34" y="399.24" width="1.28" height="1.28" fill="rgb(68, 1, 84)"/>
<rect x="164.32" y="399.24" width="1.28" height="1.28" fill="rgb(66, 55, 127)"/>
<rect x="165.29" y="399.24" width="1.28" height="1.28" fill="rgb(43, 113, 141)"/>
<rect x="166.27" y="399.24" width="1.28" height="1.28" fill="rgb(53, 91, 140)"/>
<rect x="167.25" y="399.24" width="1.28" height="1.28" fill="rgb(48, 102, 141)"/>
<rect x="168.22" y="399.24" width="1.28" height="1.28" fill="rgb(45, 109, 141)"/>
<rect x="143.80" y="400.22" width="1.28" height="1.28" fill="rgb(54, 87, 139)"/>
<rect x="144.78" y="400.22" width="1.28" height="1.28" fill="rgb(43, 113, 141)"/>
<rect x="145.75" y="400.22" width="1.28" height="1.28" fill="rgb(32, 141, 140)"/>
<rect x="146.73" y="400.22" width="1.28" height="1.28" fill="rgb(32, 148, 138)"/>
<rect x="147.71" y="400.22" width="1.28" height="1.28" fill="rgb(33, 166, 132)"/>
<rect x="148.68" y="400.22" width="1.28" height="1.28" fill="rgb(32, 152, 137)"/>
<rect x="149.66" y="400.22" width="1.28" height="1.28" fill="rgb(32, 149, 138)"/>
<rect x="150.64" y="400.22" width="1.28" height="1.28" fill="rgb(32, 142, 140)"/>
<rect x="151.62" y="400.22" width="1.28" height="1.28" fill="rgb(34, 137, 140)"/>
<rect x="152.59" y="400.22" width="1.28" height="1.28" fill="rgb(48, 102, 141)"/>
<rect x="153.57" y="400.22" width="1.28" height="1.28" fill="rgb(49, 101, 141)"/>
<rect x="154.55" y="400.22" width="1.28" height="1.28" fill="rgb(32, 151, 137)"/>
<rect x="155.52" y="400.22" width="1.28" height="1.28" fill="rgb(32, 144, 139)"/>
<rect x="156.50" y="400.22" width="1.28" height="1.28" fill="rgb(32, 150, 137)"/>
<rect x="157.48" y="400.22" width="1.28" height="1.28" fill="rgb(33, 158, 135)"/>
<rect x="158.45" y="400.22" width="1.28" height="1.28" fill="rgb(33, 166, 132)"/>
<rect x="159.43" y="400.22" width="1.28" height="1.28" fill="rgb(43, 112, 141)"/>
<rect x="160.41" y="400.22" width="1.28" height="1.28" fill="rgb(42, 116, 141)"/>
<rect x="161.38" y="400.22" width="1.28" height="1.28" fill="rgb(41, 118, 141)"/>
<rect x="162.36" y="400.22" width="1.28" height="1.28" fill="rgb(46, 106, 141)"/>
<rect x="163.34" y="400.22" width="1.28" height="1.28" fill="rgb(66, 55, 127)"/>
<rect x="164.32" y="400.22" width="1.28" height="1.28" fill="rgb(68, 1, 84)"/>
<rect x="165.29" y="400.22" width="1.28" height="1.28" fill="rgb(49, 99, 141)"/>
<rect x="166.27" y="400.22" width="1.28" height="1.28" fill="rgb(60, 75, 136)"/>
<rect x="167.25" y="400.22" width="1.28" height="1.28" fill="rgb(50, 96, 141)"/>
<rect x="168.22" y="400.22" width="1.28" height="1.28" fill="rgb(39, 123, 141)"/>
<rect x="143.80" y="401.19" width="1.28" height="1.28" fill="rgb(42, 115, 141)"/>
<rect x="144.78" y="401.19" width="1.28" height="1.28" fill="rgb(32, 144, 139)"/>
<rect x="145.75" y="401.19" width="1.28" height="1.28" fill="rgb(40, 122, 141)"/>
<rect x="146.73" y="401.19" width="1.28" height="1.28" fill="rgb(33, 156, 135)"/>
<rect x="147.71" y="401.19" width="1.28" height="1.28" fill="rgb(56, 182, 118)"/>
<rect x="148.68" y="401.19" width="1.28" height="1.28" fill="rgb(33, 158, 135)"/>
<rect x="149.66" y="401.19" width="1.28" height="1.28" fill="rgb(39, 171, 128)"/>
<rect x="150.64" y="401.19" width="1.28" height="1.28" fill="rgb(41, 119, 141)"/>
<rect x="151.62" y="401.19" width="1.28" height="1.28" fill="rgb(46, 107, 141)"/>
<rect x="152.59" y="401.19" width="1.28" height="1.28" fill="rgb(50, 97, 141)"/>
<rect x="153.57" y="401.19" width="1.28" height="1.28" fill="rgb(33, 140, 140)"/>
<rect x="154.55" y="401.19" width="1.28" height="1.28" fill="rgb(32, 143, 140)"/>
<rect x="155.52" y="401.19" width="1.28" height="1.28" fill="rgb(38, 125, 141)"/>
<rect x="156.50" y="401.19" width="1.28" height="1.28" fill="rgb(32, 150, 137)"/>
<rect x="157.48" y="401.19" width="1.28" height="1.28" fill="rgb(39, 124, 141)"/>
<rect x="158.45" y="401.19" width="1.28" height="1.28" fill="rgb(38, 125, 141)"/>
<rect x="159.43" y="401.19" width="1.28" height="1.28" fill="rgb(45, 110, 141)"/>
<rect x="160.41" y="401.19" width="1.28" height="1.28" fill="rgb(37, 130, 141)"/>
<rect x="161.38" y="401.19" width="1.28" height="1.28" fill="rgb(40, 121, 141)"/>
<rect x="162.36" y="401.19" width="1.28" height="1.28" fill="rgb(55, 85, 139)"/>
<rect x="163.34" y="401.19" width="1.28" height="1.28" fill="rgb(43, 113, 141)"/>
<rect x="164.32" y="401.19" width="1.28" height="1.28" fill="rgb(49, 99, 141)"/>
<rect x="165.29" y="401.19" width="1.28" height="1.28" fill="rgb(68, 1, 84)"/>
<rect x="166.27" y="401.19" width="1.28" height="1.28" fill="rgb(64, 63, 132)"/>
<rect x="167.25" y="401.19" width="1.28" height="1.28" fill="rgb(63, 68, 135)"/>
<rect x="168.22" y="401.19" width="1.28" height="1.28" fill="rgb(42, 115, 141)"/>
<rect x="143.80" y="402.17" width="1.28" height="1.28" fill="rgb(52, 92, 140)"/>
<rect x="144.78" y="402.17" width="1.28" height="1.28" fill="rgb(32, 144, 139)"/>
<rect x="145.75" y="402.17" width="1.28" height="1.28" fill="rgb(33, 157, 135)"/>
<rect x="146.73" y="402.17" width="1.28" height="1.28" fill="rgb(55, 181, 119)"/>
<rect x="147.71" y="402.17" width="1.28" height="1.28" fill="rgb(89, 197, 99)"/>
<rect x="148.68" y="402.17" width="1.28" height="1.28" fill="rgb(58, 183, 117)"/>
<rect x="149.66" y="402.17" width="1.28" height="1.28" fill="rgb(51, 178, 121)"/>
<rect x="150.64" y="402.17" width="1.28" height="1.28" fill="rgb(41, 118, 141)"/>
<rect x="151.62" y="402.17" width="1.28" height="1.28" fill="rgb(47, 104, 141)"/>
<rect x="152.59" y="402.17" width="1.28" height="1.28" fill="rgb(53, 91, 140)"/>
<rect x="153.57" y="402.17" width="1.28" height="1.28" fill="rgb(38, 127, 141)"/>
<rect x="154.55" y="402.17" width="1.28" height="1.28" fill="rgb(43, 113, 141)"/>
<rect x="155.52" y="402.17" width="1.28" height="1.28" fill="rgb(34, 137, 140)"/>
<rect x="156.50" y="402.17" width="1.28" height="1.28" fill="rgb(45, 109, 141)"/>
<rect x="157.48" y="402.17" width="1.28" height="1.28" fill="rgb(32, 142, 140)"/>
<rect x="158.45" y="402.17" width="1.28" height="1.28" fill="rgb(32, 152, 137)"/>
<rect x="159.43" y="402.17" width="1.28" height="1.28" fill="rgb(49, 99, 141)"/>
<rect x="160.41" y="402.17" width="1.28" height="1.28" fill="rgb(44, 111, 141)"/>
<rect x="161.38" y="402.17" width="1.28" height="1.28" fill="rgb(47, 104, 141)"/>
<rect x="162.36" y="402.17" width="1.28" height="1.28" fill="rgb(50, 97, 141)"/>
<rect x="163.34" y="402.17" width="1.28" height="1.28" fill="rgb(53, 91, 140)"/>
<rect x="164.32" y="402.17" width="1.28" height="1.28" fill="rgb(60, 75, 136)"/>
<rect x="165.29" y="402.17" width="1.28" height="1.28" fill="rgb(64, 63, 132)"/>
<rect x="166.27" y="402.17" width="1.28" height="1.28" fill="rgb(68, 1, 84)"/>
<rect x="167.25" y="402.17" width="1.28" height="1.28" fill="rgb(58, 78, 137)"/>
<rect x="168.22" y="402.17" width="1.28" height="1.28" fill="rgb(50, 96, 141)"/>
<rect x="143.80" y="403.15" width="1.28" height="1.28" fill="rgb(49, 99, 141)"/>
<rect x="144.78" y="403.15" width="1.28" height="1.28" fill="rgb(48, 103, 141)"/>
<rect x="145.75" y="403.15" width="1.28" height="1.28" fill="rgb(35, 135, 140)"/>
<rect x="146.73" y="403.15" width="1.28" height="1.28" fill="rgb(112, 205, 86)"/>
<rect x="147.71" y="403.15" width="1.28" height="1.28" fill="rgb(90, 197, 98)"/>
<rect x="148.68" y="403.15" width="1.28" height="1.28" fill="rgb(66, 188, 112)"/>
<rect x="149.66" y="403.15" width="1.28" height="1.28" fill="rgb(60, 184, 116)"/>
<rect x="150.64" y="403.15" width="1.28" height="1.28" fill="rgb(35, 134, 140)"/>
<rect x="151.62" y="403.15" width="1.28" height="1.28" fill="rgb(41, 119, 141)"/>
<rect x="152.59" y="403.15" width="1.28" height="1.28" fill="rgb(40, 120, 141)"/>
<rect x="153.57" y="403.15" width="1.28" height="1.28" fill="rgb(51, 94, 141)"/>
<rect x="154.55" y="403.15" width="1.28" height="1.28" fill="rgb(51, 94, 141)"/>
<rect x="155.52" y="403.15" width="1.28" height="1.28" fill="rgb(38, 125, 141)"/>
<rect x="156.50" y="403.15" width="1.28" height="1.28" fill="rgb(39, 123, 141)"/>
<rect x="157.48" y="403.15" width="1.28" height="1.28" fill="rgb(48, 102, 141)"/>
<rect x="158.45" y="403.15" width="1.28" height="1.28" fill="rgb(33, 139, 140)"/>
<rect x="159.43" y="403.15" width="1.28" height="1.28" fill="rgb(41, 119, 141)"/>
<rect x="160.41" y="403.15" width="1.28" height="1.28" fill="rgb(50, 97, 141)"/>
<rect x="161.38" y="403.15" width="1.28" height="1.28" fill="rgb(40, 121, 141)"/>
<rect x="162.36" y="403.15" width="1.28" height="1.28" fill="rgb(57, 81, 138)"/>
<rect x="163.34" y="403.15" width="1.28" height="1.28" fill="rgb(48, 102, 141)"/>
<rect x="164.32" y="403.15" width="1.28" height="1.28" fill="rgb(50, 96, 141)"/>
<rect x="165.29" y="403.15" width="1.28" height="1.28" fill="rgb(63, 68, 135)"/>
<rect x="166.27" y="403.15" width="1.28" height="1.28" fill="rgb(58, 78, 137)"/>
<rect x="167.25" y="403.15" width="1.28" height="1.28" fill="rgb(68, 1, 84)"/>
<rect x="168.22" y="403.15" width="1.28" height="1.28" fill="rgb(51, 94, 141)"/>
<rect x="143.80" y="404.12" width="1.28" height="1.28" fill="rgb(49, 101, 141)"/>
<rect x="144.78" y="404.12" width="1.28" height="1.28" fill="rgb(45, 109, 141)"/>
<rect x="145.75" y="404.12" width="1.28" height="1.28" fill="rgb(33, 139, 140)"/>
<rect x="146.73" y="404.12" width="1.28" height="1.28" fill="rgb(36, 168, 130)"/>
<rect x="147.71" y="404.12" width="1.28" height="1.28" fill="rgb(87, 197, 100)"/>
<rect x="148.68" y="404.12" width="1.28" height="1.28" fill="rgb(101, 201, 92)"/>
<rect x="149.66" y="404.12" width="1.28" height="1.28" fill="rgb(33, 156, 135)"/>
<rect x="150.64" y="404.12" width="1.28" height="1.28" fill="rgb(32, 143, 140)"/>
<rect x="151.62" y="404.12" width="1.28" height="1.28" fill="rgb(46, 106, 141)"/>
<rect x="152.59" y="404.12" width="1.28" height="1.28" fill="rgb(45, 109, 141)"/>
<rect x="153.57" y="404.12" width="1.28" height="1.28" fill="rgb(45, 109, 141)"/>
<rect x="154.55" y="404.12" width="1.28" height="1.28" fill="rgb(45, 109, 141)"/>
<rect x="155.52" y="404.12" width="1.28" height="1.28" fill="rgb(43, 114, 141)"/>
<rect x="156.50" y="404.12" width="1.28" height="1.28" fill="rgb(45, 110, 141)"/>
<rect x="157.48" y="404.12" width="1.28" height="1.28" fill="rgb(42, 115, 141)"/>
<rect x="158.45" y="404.12" width="1.28" height="1.28" fill="rgb(51, 95, 141)"/>
<rect x="159.43" y="404.12" width="1.28" height="1.28" fill="rgb(43, 113, 141)"/>
<rect x="160.41" y="404.12" width="1.28" height="1.28" fill="rgb(51, 94, 141)"/>
<rect x="161.38" y="404.12" width="1.28" height="1.28" fill="rgb(55, 87, 139)"/>
<rect x="162.36" y="404.12" width="1.28" height="1.28" fill="rgb(53, 91, 140)"/>
<rect x="163.34" y="404.12" width="1.28" height="1.28" fill="rgb(45, 109, 141)"/>
<rect x="164.32" y="404.12" width="1.28" height="1.28" fill="rgb(39, 123, 141)"/>
<rect x="165.29" y="404.12" width="1.28" height="1.28" fill="rgb(42, 115, 141)"/>
<rect x="166.27" y="404.12" width="1.28" height="1.28" fill="rgb(50, 96, 141)"/>
<rect x="167.25" y="404.12" width="1.28" height="1.28" fill="rgb(51, 94, 141)"/>
<rect x="168.22" y="404.12" width="1.28" height="1.28" fill="rgb(68, 1, 84)"/>
<line x1="142.3" y1="380.7" x2="143.5" y2="380.7" stroke="#999" stroke-width="0.3"/>
<line x1="144.8" y1="405.4" x2="144.8" y2="406.59999999999997" stroke="#999" stroke-width="0.3"/>
<line x1="142.3" y1="384.6" x2="143.5" y2="384.6" stroke="#999" stroke-width="0.3"/>
<line x1="148.7" y1="405.4" x2="148.7" y2="406.59999999999997" stroke="#999" stroke-width="0.3"/>
<line x1="142.3" y1="388.5" x2="143.5" y2="388.5" stroke="#999" stroke-width="0.3"/>
<line x1="152.6" y1="405.4" x2="152.6" y2="406.59999999999997" stroke="#999" stroke-width="0.3"/>
<line x1="142.3" y1="392.4" x2="143.5" y2="392.4" stroke="#999" stroke-width="0.3"/>
<line x1="156.5" y1="405.4" x2="156.5" y2="406.59999999999997" stroke="#999" stroke-width="0.3"/>
<line x1="142.3" y1="396.3" x2="143.5" y2="396.3" stroke="#999" stroke-width="0.3"/>
<line x1="160.4" y1="405.4" x2="160.4" y2="406.59999999999997" stroke="#999" stroke-width="0.3"/>
<line x1="142.3" y1="400.2" x2="143.5" y2="400.2" stroke="#999" stroke-width="0.3"/>
<line x1="164.3" y1="405.4" x2="164.3" y2="406.59999999999997" stroke="#999" stroke-width="0.3"/>
<line x1="142.3" y1="404.1" x2="143.5" y2="404.1" stroke="#999" stroke-width="0.3"/>
<line x1="168.2" y1="405.4" x2="168.2" y2="406.59999999999997" stroke="#999" stroke-width="0.3"/>
<polyline points="60.9,366.8 62.2,368.7 63.3,370.6 61.2,370.4 63.2,371.1" fill="none" stroke="#2560a8" stroke-width="0.40" stroke-linejoin="round"/>
<polyline points="62.1,375.2 62.3,375.5 60.2,374.2 59.2,376.1 60.4,374.6" fill="none" stroke="#1f4f9a" stroke-width="0.41" stroke-linejoin="round"/>
<polyline points="64.1,371.1 61.9,372.8 60.7,371.5 62.8,373.1 61.9,375.2" fill="none" stroke="#2560a8" stroke-width="0.42" stroke-linejoin="round"/>
<polyline points="70.4,373.0 72.5,372.4 70.4,372.1 72.3,371.0 71.5,372.4" fill="none" stroke="#1f4f9a" stroke-width="0.59" stroke-linejoin="round"/>
<polyline points="65.9,371.0 65.3,370.2 66.1,368.8 66.0,367.4 64.9,369.3" fill="none" stroke="#1a4590" stroke-width="0.69" stroke-linejoin="round"/>
<polyline points="74.4,375.2 73.8,375.6 71.7,373.6 70.3,375.6 68.9,376.7" fill="none" stroke="#3c7cc0" stroke-width="0.49" stroke-linejoin="round"/>
<polyline points="62.5,380.9 63.7,379.2 64.8,380.5 66.4,378.4 68.4,376.6" fill="none" stroke="#1a4590" stroke-width="0.56" stroke-linejoin="round"/>
<polyline points="64.2,377.5 63.3,378.4 61.5,379.2 60.6,380.5 61.2,381.5" fill="none" stroke="#1a4590" stroke-width="0.75" stroke-linejoin="round"/>
<polyline points="67.5,376.2 69.7,376.4 69.3,375.2 69.7,376.7 69.5,376.3" fill="none" stroke="#1f4f9a" stroke-width="0.74" stroke-linejoin="round"/>
<polyline points="61.3,365.8 60.6,364.5 62.7,364.8 61.1,366.5 60.7,365.1" fill="none" stroke="#1a4590" stroke-width="0.41" stroke-linejoin="round"/>
<polyline points="69.2,368.6 69.0,370.8 70.6,372.9 70.4,372.8 71.4,372.8" fill="none" stroke="#1a4590" stroke-width="0.54" stroke-linejoin="round"/>
<polyline points="69.0,371.7 70.4,371.8 69.0,373.7 70.6,372.3 70.6,372.4" fill="none" stroke="#1a4590" stroke-width="0.38" stroke-linejoin="round"/>
<polyline points="68.0,367.1 68.4,365.1 67.5,365.3 68.3,366.8 67.2,368.9" fill="none" stroke="#1a4590" stroke-width="0.73" stroke-linejoin="round"/>
<polyline points="64.5,378.3 66.0,378.2 67.2,377.4 66.2,376.5 66.2,377.2" fill="none" stroke="#1a4590" stroke-width="0.49" stroke-linejoin="round"/>
<polyline points="61.7,365.9 63.2,365.2 64.7,366.9 65.5,369.0 67.5,369.0" fill="none" stroke="#2560a8" stroke-width="0.43" stroke-linejoin="round"/>
<polyline points="61.1,382.5 60.2,380.6 60.9,380.2 61.4,382.2 61.5,384.1" fill="none" stroke="#1a4590" stroke-width="0.60" stroke-linejoin="round"/>
<polyline points="67.6,364.5 68.6,362.5 67.1,362.2 67.7,361.0 68.6,361.5" fill="none" stroke="#1f4f9a" stroke-width="0.74" stroke-linejoin="round"/>
<polyline points="70.1,373.4 71.9,371.7 73.9,371.6 74.1,371.2 73.5,371.9" fill="none" stroke="#1f4f9a" stroke-width="0.59" stroke-linejoin="round"/>
<polyline points="67.2,385.4 65.0,385.0 64.0,384.6 62.3,386.0 61.7,384.0" fill="none" stroke="#1a4590" stroke-width="0.39" stroke-linejoin="round"/>
<polyline points="61.5,372.0 61.8,374.1 63.2,373.7 64.6,374.3 64.0,372.8" fill="none" stroke="#3c7cc0" stroke-width="0.58" stroke-linejoin="round"/>
<polyline points="75.0,370.9 75.5,370.2 77.2,368.0 75.5,368.3 76.0,366.7" fill="none" stroke="#3c7cc0" stroke-width="0.52" stroke-linejoin="round"/>
<polyline points="72.8,372.8 72.7,373.7 72.2,375.2 70.7,375.7 71.7,374.8" fill="none" stroke="#1a4590" stroke-width="0.52" stroke-linejoin="round"/>
<polyline points="62.7,384.8 62.7,383.9 62.6,382.2 63.1,381.9 62.2,383.2" fill="none" stroke="#3c7cc0" stroke-width="0.36" stroke-linejoin="round"/>
<polyline points="61.9,372.7 63.8,374.0 62.7,372.9 61.2,375.1 60.3,375.6" fill="none" stroke="#3c7cc0" stroke-width="0.56" stroke-linejoin="round"/>
<polyline points="72.0,365.5 73.8,363.4 72.1,362.4 73.0,362.9 74.1,360.8" fill="none" stroke="#1a4590" stroke-width="0.49" stroke-linejoin="round"/>
<polyline points="66.3,364.8 64.2,363.7 64.0,365.5 65.8,365.7 63.6,366.9" fill="none" stroke="#3c7cc0" stroke-width="0.59" stroke-linejoin="round"/>
<polyline points="63.2,363.1 63.9,364.7 65.4,364.6 66.2,365.6 67.9,365.4" fill="none" stroke="#1f4f9a" stroke-width="0.47" stroke-linejoin="round"/>
<polyline points="74.4,374.2 74.8,374.9 74.7,374.0 73.2,374.9 74.9,377.0" fill="none" stroke="#2560a8" stroke-width="0.52" stroke-linejoin="round"/>
<polyline points="64.6,373.3 65.6,372.3 63.8,370.4 65.7,369.6 65.4,367.7" fill="none" stroke="#3c7cc0" stroke-width="0.63" stroke-linejoin="round"/>
<polyline points="74.4,377.3 73.1,378.0 75.1,378.9 73.5,378.0 75.4,376.5" fill="none" stroke="#2560a8" stroke-width="0.52" stroke-linejoin="round"/>
<polyline points="70.3,382.0 68.3,380.3 67.7,378.4 65.8,378.8 66.8,380.4" fill="none" stroke="#2560a8" stroke-width="0.35" stroke-linejoin="round"/>
<polyline points="72.8,379.4 72.7,378.8 73.4,380.6 71.8,379.7 72.1,380.5" fill="none" stroke="#1a4590" stroke-width="0.71" stroke-linejoin="round"/>
<polyline points="59.8,370.8 58.8,371.0 57.7,372.1 57.8,370.5 56.6,370.0" fill="none" stroke="#3c7cc0" stroke-width="0.42" stroke-linejoin="round"/>
<polyline points="64.8,364.5 63.0,365.3 61.2,363.6 61.6,362.5 63.3,362.4" fill="none" stroke="#1a4590" stroke-width="0.39" stroke-linejoin="round"/>
<polyline points="57.9,365.2 57.5,366.4 59.1,366.2 60.1,367.1 58.6,368.5" fill="none" stroke="#5a9fd0" stroke-width="0.68" stroke-linejoin="round"/>
<polyline points="64.0,369.6 63.5,368.7 62.9,369.1 62.4,368.7 61.0,369.9" fill="none" stroke="#1f4a93" stroke-width="0.67" stroke-linejoin="round"/>
<polyline points="57.3,368.3 57.3,368.6 57.6,369.4 57.2,368.0 55.6,366.9" fill="none" stroke="#24569f" stroke-width="0.55" stroke-linejoin="round"/>
<polyline points="65.3,364.1 64.7,363.9 64.0,365.4 65.5,364.8 65.4,363.7" fill="none" stroke="#3a78bd" stroke-width="0.38" stroke-linejoin="round"/>
<polyline points="64.7,361.9 64.6,362.1 63.2,363.2 64.1,363.9 62.4,365.3" fill="none" stroke="#1f4a93" stroke-width="0.72" stroke-linejoin="round"/>
<polyline points="58.2,370.3 58.9,370.9 58.8,372.5 57.4,373.1 56.7,373.7" fill="none" stroke="#3a78bd" stroke-width="0.36" stroke-linejoin="round"/>
<polyline points="60.7,361.6 61.2,362.0 62.7,362.7 63.4,361.6 62.9,360.0" fill="none" stroke="#5a9fd0" stroke-width="0.42" stroke-linejoin="round"/>
<polyline points="61.7,370.9 63.3,371.4 63.1,373.1 61.3,371.6 62.3,371.2" fill="none" stroke="#24569f" stroke-width="0.36" stroke-linejoin="round"/>
<polyline points="63.8,361.3 64.1,362.9 64.9,361.9 65.9,360.5 65.8,361.1" fill="none" stroke="#24569f" stroke-width="0.55" stroke-linejoin="round"/>
<polyline points="61.7,364.7 62.9,364.5 63.4,365.9 65.0,364.8 65.7,365.3" fill="none" stroke="#3a78bd" stroke-width="0.56" stroke-linejoin="round"/>
<polyline points="63.9,367.7 62.5,367.9 64.0,368.2 65.3,367.2 63.6,367.3" fill="none" stroke="#5a9fd0" stroke-width="0.52" stroke-linejoin="round"/>
<polyline points="61.9,361.7 60.6,359.9 61.5,360.6 62.9,362.4 63.1,361.1" fill="none" stroke="#5a9fd0" stroke-width="0.39" stroke-linejoin="round"/>
<polyline points="62.1,360.6 61.5,359.3 60.0,358.4 58.5,358.1 58.7,357.2" fill="none" stroke="#24569f" stroke-width="0.55" stroke-linejoin="round"/>
<polyline points="61.5,371.0 62.6,372.4 64.0,370.9 65.0,370.4 65.9,368.6" fill="none" stroke="#1f4a93" stroke-width="0.61" stroke-linejoin="round"/>
<polyline points="61.7,361.5 61.5,362.6 62.1,364.2 62.9,365.0 62.1,366.1" fill="none" stroke="#5a9fd0" stroke-width="0.57" stroke-linejoin="round"/>
<polyline points="60.3,369.0 59.0,369.0 58.4,367.3 58.5,368.2 56.8,366.8" fill="none" stroke="#3a78bd" stroke-width="0.68" stroke-linejoin="round"/>
<polyline points="59.2,367.2 60.8,365.5 60.9,364.1 59.8,363.6 58.6,364.0" fill="none" stroke="#3a78bd" stroke-width="0.64" stroke-linejoin="round"/>
<polyline points="64.5,368.5 63.3,369.2 63.1,370.8 64.2,369.4 63.5,370.9" fill="none" stroke="#5a9fd0" stroke-width="0.59" stroke-linejoin="round"/>
<polyline points="72.5,379.4 73.2,378.0 73.1,378.0 71.1,376.5 72.5,377.2" fill="none" stroke="#4aa0d4" stroke-width="0.59" stroke-linejoin="round"/>
<polyline points="75.7,379.1 75.6,380.6 75.2,379.5 74.3,378.3 74.6,377.7" fill="none" stroke="#4aa0d4" stroke-width="0.41" stroke-linejoin="round"/>
<polyline points="73.6,372.1 74.3,373.7 72.5,373.7 71.9,372.3 70.9,371.8" fill="none" stroke="#4aa0d4" stroke-width="0.35" stroke-linejoin="round"/>
<polyline points="75.4,381.4 77.0,380.2 78.2,379.5 79.0,381.0 79.5,382.2" fill="none" stroke="#62b8e0" stroke-width="0.51" stroke-linejoin="round"/>
<polyline points="75.1,381.3 75.6,382.6 73.7,383.3 74.1,383.3 74.1,383.5" fill="none" stroke="#2a6ab0" stroke-width="0.42" stroke-linejoin="round"/>
<polyline points="76.5,377.3 78.2,378.1 78.9,378.2 80.1,377.7 80.4,378.4" fill="none" stroke="#2a6ab0" stroke-width="0.36" stroke-linejoin="round"/>
<polyline points="71.8,379.1 72.9,379.6 74.4,381.3 74.0,383.2 72.1,384.9" fill="none" stroke="#4aa0d4" stroke-width="0.32" stroke-linejoin="round"/>
<polyline points="72.1,372.3 73.9,373.9 74.7,375.2 75.6,375.7 74.5,375.7" fill="none" stroke="#4aa0d4" stroke-width="0.37" stroke-linejoin="round"/>
<polyline points="75.6,377.2 75.2,375.2 74.8,373.9 75.4,375.5 77.0,376.0" fill="none" stroke="#62b8e0" stroke-width="0.40" stroke-linejoin="round"/>
<polyline points="74.6,372.5 75.4,374.4 74.4,372.8 73.5,374.0 74.7,372.3" fill="none" stroke="#4aa0d4" stroke-width="0.32" stroke-linejoin="round"/>
<polyline points="70.2,379.6 70.8,379.8 71.3,380.4 71.5,380.0 70.4,380.0" fill="none" stroke="#2a6ab0" stroke-width="0.57" stroke-linejoin="round"/>
<polyline points="71.1,381.5 71.6,383.4 70.3,381.5 68.8,381.7 69.2,380.5" fill="none" stroke="#4aa0d4" stroke-width="0.40" stroke-linejoin="round"/>
<polyline points="48.20,360.00 47.34,360.41 47.01,360.72 47.43,360.90 48.38,360.98 49.33,361.06 49.75,361.23 49.42,361.55 48.56,361.96 47.70,362.36 47.37,362.68 47.78,362.85 48.73,362.93 49.68,363.01 50.10,363.19 49.77,363.50 48.91,363.91 48.05,364.32 47.72,364.63 48.14,364.81 49.09,364.89 50.04,364.97 50.46,365.15 50.13,365.46 49.27,365.87 48.41,366.28 48.08,366.59 48.50,366.76 49.44,366.84 50.39,366.92 50.81,367.10 50.48,367.41 49.62,367.82 48.76,368.23 48.43,368.54 48.85,368.72 49.80,368.80 50.75,368.88 51.17,369.06 50.84,369.37 49.98,369.78 49.12,370.19 48.79,370.50 49.21,370.68 50.16,370.76 51.10,370.84 51.52,371.01 51.19,371.32 50.33,371.73 49.47,372.14 49.14,372.45 49.56,372.63 50.51,372.71 51.46,372.79 51.88,372.97 51.55,373.28 50.69,373.69 49.83,374.10 49.50,374.41 49.92,374.59 50.87,374.67 51.82,374.75 52.23,374.92 51.90,375.24 51.04,375.64 50.18,376.05 49.85,376.37 50.27,376.54 51.22,376.62 52.17,376.70 52.59,376.88 52.26,377.19 51.40,377.60" fill="none" stroke="#3aa8d0" stroke-width="0.8"/>
<polyline points="51.40,369.70 50.52,369.79 50.14,369.97 50.44,370.27 51.24,370.65 52.03,371.03 52.34,371.33 51.95,371.51 51.07,371.60 50.20,371.69 49.81,371.87 50.12,372.17 50.91,372.55 51.71,372.93 52.01,373.23 51.63,373.41 50.75,373.50 49.87,373.59 49.49,373.77 49.79,374.07 50.59,374.45 51.38,374.83 51.69,375.13 51.30,375.31 50.42,375.40 49.55,375.49 49.16,375.67 49.47,375.97 50.26,376.35 51.06,376.73 51.36,377.03 50.98,377.21 50.10,377.30 49.22,377.39 48.84,377.57 49.14,377.87 49.94,378.25 50.73,378.63 51.04,378.93 50.65,379.11 49.77,379.20 48.90,379.29 48.51,379.47 48.82,379.77 49.61,380.15 50.41,380.53 50.71,380.83 50.33,381.01 49.45,381.10 48.57,381.19 48.19,381.37 48.49,381.67 49.29,382.05 50.08,382.43 50.39,382.73 50.00,382.91 49.12,383.00 48.25,383.09 47.86,383.27 48.17,383.57 48.96,383.95 49.76,384.33 50.06,384.63 49.68,384.81 48.80,384.90" fill="none" stroke="#d9a520" stroke-width="0.8"/>
<polyline points="43.60,377.00 42.90,377.43 42.65,377.75 43.02,377.92 43.84,377.99 44.65,378.05 45.03,378.22 44.77,378.55 44.08,378.98 43.38,379.40 43.12,379.73 43.50,379.90 44.31,379.96 45.13,380.03 45.50,380.20 45.25,380.52 44.55,380.95 43.85,381.38 43.60,381.70 43.97,381.87 44.79,381.94 45.60,382.00 45.98,382.17 45.72,382.50 45.02,382.92 44.33,383.35 44.07,383.68 44.45,383.85 45.26,383.91 46.08,383.98 46.45,384.15 46.20,384.47 45.50,384.90" fill="none" stroke="#2f9ac4" stroke-width="0.7"/>
<polyline points="43.2,375 45.5,377.5 43.8,380 46.5,382.5 44.5,385" fill="none" stroke="#e0b030" stroke-width="0.7"/>
<circle cx="44.0" cy="373.9" r="0.7" fill="#e06a3a"/>
<polyline points="46.50,383.50 46.53,384.38 46.67,384.78 46.99,384.50 47.44,383.74 47.88,382.97 48.20,382.69 48.35,383.09 48.38,383.98 48.40,384.86 48.55,385.26 48.87,384.98 49.31,384.21 49.76,383.45 50.08,383.17 50.22,383.57 50.25,384.45 50.28,385.33 50.42,385.73 50.74,385.45 51.19,384.69 51.63,383.92 51.95,383.64 52.10,384.04 52.12,384.93 52.15,385.81 52.30,386.21 52.62,385.93 53.06,385.16 53.51,384.40 53.83,384.12 53.97,384.52 54.00,385.40 54.03,386.28 54.17,386.68 54.49,386.40 54.94,385.64 55.38,384.87 55.70,384.59 55.85,384.99 55.88,385.88 55.90,386.76 56.05,387.16 56.37,386.88 56.81,386.11 57.26,385.35 57.58,385.07 57.72,385.47 57.75,386.35 57.78,387.23 57.92,387.63 58.24,387.35 58.69,386.59 59.13,385.82 59.45,385.54 59.60,385.94 59.62,386.82 59.65,387.71 59.80,388.11 60.12,387.83 60.56,387.06 61.01,386.30 61.33,386.02 61.47,386.42 61.50,387.30" fill="none" stroke="#38a0cc" stroke-width="0.8"/>
<polyline points="56.00,386.00 56.09,386.81 56.27,387.18 56.59,386.92 57.00,386.21 57.41,385.51 57.73,385.25 57.91,385.61 58.00,386.43 58.09,387.24 58.27,387.61 58.59,387.35 59.00,386.64 59.41,385.94 59.73,385.67 59.91,386.04 60.00,386.86 60.09,387.67 60.27,388.04 60.59,387.78 61.00,387.07 61.41,386.36 61.73,386.10 61.91,386.47 62.00,387.29 62.09,388.10 62.27,388.47 62.59,388.21 63.00,387.50 63.41,386.79 63.73,386.53 63.91,386.90 64.00,387.71 64.09,388.53 64.27,388.90 64.59,388.64 65.00,387.93 65.41,387.22 65.73,386.96 65.91,387.33 66.00,388.14 66.09,388.96 66.27,389.33 66.59,389.06 67.00,388.36 67.41,387.65 67.73,387.39 67.91,387.76 68.00,388.57 68.09,389.39 68.27,389.75 68.59,389.49 69.00,388.79 69.41,388.08 69.73,387.82 69.91,388.19 70.00,389.00" fill="none" stroke="#2670b5" stroke-width="0.7"/>
<circle cx="64.2" cy="363.2" r="1.0" fill="#a8683a"/>
<path d="M68.5,388.5 Q75,389.5 74.2,393.5 Q72.5,396 69,395.5" fill="none" stroke="#e89a68" stroke-width="0.5"/>
<polyline points="64.00,394.20 64.10,394.87 64.28,395.18 64.57,394.97 64.94,394.40 65.30,393.83 65.59,393.62 65.77,393.93 65.88,394.60 65.98,395.27 66.16,395.58 66.45,395.37 66.81,394.80 67.18,394.23 67.47,394.02 67.65,394.33 67.75,395.00 67.85,395.67 68.03,395.98 68.32,395.77 68.69,395.20 69.05,394.63 69.34,394.42 69.52,394.73 69.62,395.40 69.73,396.07 69.91,396.38 70.20,396.17 70.56,395.60 70.93,395.03 71.22,394.82 71.40,395.13 71.50,395.80" fill="none" stroke="#48b0d8" stroke-width="0.7"/>
<text x="246.80" y="154.80" font-size="12" fill="#111" text-anchor="start" font-weight="normal" >f</text>
<text x="473.30" y="159.00" font-size="10.48" fill="#333" text-anchor="middle" font-weight="normal" >Probing Cas12 enzymes functional traits across all layers of ESM-2 models</text>
<text x="472.30" y="172.50" font-size="10.48" fill="#333" text-anchor="middle" font-weight="normal" >(evaluated by F1 scores)</text>
<rect x="277.20" y="177.00" width="11.90" height="38.60" fill="rgb(198, 213, 234)"/>
<rect x="288.50" y="177.00" width="11.90" height="38.60" fill="rgb(240, 241, 248)"/>
<rect x="299.80" y="177.00" width="11.90" height="38.60" fill="rgb(250, 210, 213)"/>
<rect x="311.10" y="177.00" width="11.90" height="38.60" fill="rgb(231, 236, 245)"/>
<rect x="322.40" y="177.00" width="11.90" height="38.60" fill="rgb(238, 240, 248)"/>
<rect x="333.70" y="177.00" width="11.90" height="38.60" fill="rgb(250, 210, 213)"/>
<rect x="345.00" y="177.00" width="11.90" height="38.60" fill="rgb(236, 239, 247)"/>
<rect x="356.30" y="177.00" width="11.90" height="38.60" fill="rgb(229, 234, 244)"/>
<rect x="367.60" y="177.00" width="11.90" height="38.60" fill="rgb(251, 228, 230)"/>
<rect x="378.90" y="177.00" width="11.90" height="38.60" fill="rgb(241, 142, 147)"/>
<rect x="390.20" y="177.00" width="11.90" height="38.60" fill="rgb(238, 240, 248)"/>
<rect x="401.50" y="177.00" width="11.90" height="38.60" fill="rgb(233, 237, 246)"/>
<rect x="412.80" y="177.00" width="11.90" height="38.60" fill="rgb(237, 116, 121)"/>
<rect x="424.10" y="177.00" width="11.90" height="38.60" fill="rgb(247, 186, 190)"/>
<rect x="435.40" y="177.00" width="11.90" height="38.60" fill="rgb(245, 170, 174)"/>
<rect x="446.70" y="177.00" width="11.90" height="38.60" fill="rgb(236, 107, 112)"/>
<rect x="458.00" y="177.00" width="11.90" height="38.60" fill="rgb(236, 107, 112)"/>
<rect x="469.30" y="177.00" width="11.90" height="38.60" fill="rgb(236, 107, 112)"/>
<rect x="480.60" y="177.00" width="11.90" height="38.60" fill="rgb(241, 242, 249)"/>
<rect x="491.90" y="177.00" width="11.90" height="38.60" fill="rgb(241, 142, 147)"/>
<rect x="503.20" y="177.00" width="11.90" height="38.60" fill="rgb(239, 128, 134)"/>
<rect x="514.50" y="177.00" width="11.90" height="38.60" fill="rgb(236, 107, 112)"/>
<rect x="525.80" y="177.00" width="11.90" height="38.60" fill="rgb(241, 142, 147)"/>
<rect x="537.10" y="177.00" width="11.90" height="38.60" fill="rgb(247, 247, 252)"/>
<rect x="548.40" y="177.00" width="11.90" height="38.60" fill="rgb(250, 210, 213)"/>
<rect x="559.70" y="177.00" width="11.90" height="38.60" fill="rgb(237, 116, 121)"/>
<rect x="571.00" y="177.00" width="11.90" height="38.60" fill="rgb(236, 107, 112)"/>
<rect x="582.30" y="177.00" width="11.90" height="38.60" fill="rgb(237, 116, 121)"/>
<rect x="593.60" y="177.00" width="11.90" height="38.60" fill="rgb(251, 228, 230)"/>
<rect x="604.90" y="177.00" width="11.90" height="38.60" fill="rgb(238, 240, 248)"/>
<rect x="616.20" y="177.00" width="11.90" height="38.60" fill="rgb(241, 142, 147)"/>
<rect x="627.50" y="177.00" width="11.90" height="38.60" fill="rgb(247, 186, 190)"/>
<rect x="638.80" y="177.00" width="11.90" height="38.60" fill="rgb(247, 247, 252)"/>
<rect x="650.10" y="177.00" width="11.90" height="38.00" fill="rgb(239, 128, 134)"/>
<rect x="661.40" y="177.00" width="11.90" height="38.00" fill="rgb(236, 107, 112)"/>
<rect x="672.70" y="177.00" width="11.30" height="38.00" fill="rgb(236, 107, 112)"/>
<rect x="277.20" y="215.00" width="11.90" height="37.30" fill="rgb(227, 233, 244)"/>
<rect x="288.50" y="215.00" width="11.90" height="37.30" fill="rgb(247, 247, 252)"/>
<rect x="299.80" y="215.00" width="11.90" height="37.30" fill="rgb(231, 236, 245)"/>
<rect x="311.10" y="215.00" width="11.90" height="37.30" fill="rgb(240, 241, 248)"/>
<rect x="322.40" y="215.00" width="11.90" height="37.30" fill="rgb(229, 234, 244)"/>
<rect x="333.70" y="215.00" width="11.90" height="37.30" fill="rgb(247, 247, 252)"/>
<rect x="345.00" y="215.00" width="11.90" height="37.30" fill="rgb(241, 242, 249)"/>
<rect x="356.30" y="215.00" width="11.90" height="37.30" fill="rgb(241, 242, 249)"/>
<rect x="367.60" y="215.00" width="11.90" height="37.30" fill="rgb(247, 247, 252)"/>
<rect x="378.90" y="215.00" width="11.90" height="37.30" fill="rgb(239, 128, 134)"/>
<rect x="390.20" y="215.00" width="11.90" height="37.30" fill="rgb(250, 210, 213)"/>
<rect x="401.50" y="215.00" width="11.90" height="37.30" fill="rgb(237, 116, 121)"/>
<rect x="412.80" y="215.00" width="11.90" height="37.30" fill="rgb(237, 116, 121)"/>
<rect x="424.10" y="215.00" width="11.90" height="37.30" fill="rgb(245, 170, 174)"/>
<rect x="435.40" y="215.00" width="11.90" height="37.30" fill="rgb(238, 240, 248)"/>
<rect x="446.70" y="215.00" width="11.90" height="37.30" fill="rgb(239, 128, 134)"/>
<rect x="458.00" y="215.00" width="11.90" height="37.30" fill="rgb(239, 128, 134)"/>
<rect x="469.30" y="215.00" width="11.90" height="37.30" fill="rgb(241, 242, 249)"/>
<rect x="480.60" y="215.00" width="11.90" height="37.30" fill="rgb(245, 170, 174)"/>
<rect x="491.90" y="215.00" width="11.90" height="37.30" fill="rgb(239, 128, 134)"/>
<rect x="503.20" y="215.00" width="11.90" height="37.30" fill="rgb(247, 247, 252)"/>
<rect x="514.50" y="215.00" width="11.90" height="37.30" fill="rgb(237, 116, 121)"/>
<rect x="525.80" y="215.00" width="11.90" height="37.30" fill="rgb(250, 210, 213)"/>
<rect x="537.10" y="215.00" width="11.90" height="37.30" fill="rgb(238, 240, 248)"/>
<rect x="548.40" y="215.00" width="11.90" height="37.30" fill="rgb(239, 128, 134)"/>
<rect x="559.70" y="215.00" width="11.90" height="37.30" fill="rgb(239, 128, 134)"/>
<rect x="571.00" y="215.00" width="11.90" height="37.30" fill="rgb(238, 240, 248)"/>
<rect x="582.30" y="215.00" width="11.90" height="37.30" fill="rgb(247, 186, 190)"/>
<rect x="593.60" y="215.00" width="11.90" height="37.30" fill="rgb(237, 116, 121)"/>
<rect x="604.90" y="215.00" width="11.90" height="37.30" fill="rgb(236, 239, 247)"/>
<rect x="616.20" y="215.00" width="11.90" height="37.30" fill="rgb(238, 240, 248)"/>
<rect x="627.50" y="215.00" width="11.90" height="37.30" fill="rgb(237, 116, 121)"/>
<rect x="638.80" y="215.00" width="11.30" height="37.30" fill="rgb(243, 243, 249)"/>
<rect x="277.20" y="256.80" width="11.90" height="37.90" fill="rgb(236, 239, 247)"/>
<rect x="288.50" y="256.80" width="11.90" height="37.90" fill="rgb(239, 128, 134)"/>
<rect x="299.80" y="256.80" width="11.90" height="37.90" fill="rgb(241, 242, 249)"/>
<rect x="311.10" y="256.80" width="11.90" height="37.90" fill="rgb(238, 240, 248)"/>
<rect x="322.40" y="256.80" width="11.90" height="37.90" fill="rgb(236, 239, 247)"/>
<rect x="333.70" y="256.80" width="11.90" height="37.90" fill="rgb(251, 228, 230)"/>
<rect x="345.00" y="256.80" width="11.90" height="37.90" fill="rgb(247, 247, 252)"/>
<rect x="356.30" y="256.80" width="11.90" height="37.90" fill="rgb(243, 155, 160)"/>
<rect x="367.60" y="256.80" width="11.90" height="37.90" fill="rgb(241, 142, 147)"/>
<rect x="378.90" y="256.80" width="11.90" height="37.90" fill="rgb(239, 128, 134)"/>
<rect x="390.20" y="256.80" width="11.90" height="37.90" fill="rgb(239, 128, 134)"/>
<rect x="401.50" y="256.80" width="11.90" height="37.90" fill="rgb(237, 116, 121)"/>
<rect x="412.80" y="256.80" width="11.90" height="37.90" fill="rgb(243, 155, 160)"/>
<rect x="424.10" y="256.80" width="11.90" height="37.90" fill="rgb(236, 107, 112)"/>
<rect x="435.40" y="256.80" width="11.90" height="37.90" fill="rgb(245, 170, 174)"/>
<rect x="446.70" y="256.80" width="11.90" height="37.90" fill="rgb(241, 142, 147)"/>
<rect x="458.00" y="256.80" width="11.90" height="37.90" fill="rgb(245, 170, 174)"/>
<rect x="469.30" y="256.80" width="11.90" height="37.90" fill="rgb(250, 210, 213)"/>
<rect x="480.60" y="256.80" width="11.90" height="37.90" fill="rgb(243, 155, 160)"/>
<rect x="491.90" y="256.80" width="11.90" height="37.90" fill="rgb(239, 128, 134)"/>
<rect x="503.20" y="256.80" width="11.90" height="37.90" fill="rgb(247, 247, 252)"/>
<rect x="514.50" y="256.80" width="11.90" height="37.90" fill="rgb(239, 128, 134)"/>
<rect x="525.80" y="256.80" width="11.90" height="37.90" fill="rgb(241, 242, 249)"/>
<rect x="537.10" y="256.80" width="11.90" height="37.90" fill="rgb(238, 240, 248)"/>
<rect x="548.40" y="256.80" width="11.90" height="37.90" fill="rgb(251, 228, 230)"/>
<rect x="559.70" y="256.80" width="11.90" height="37.90" fill="rgb(247, 247, 252)"/>
<rect x="571.00" y="256.80" width="11.90" height="37.90" fill="rgb(239, 128, 134)"/>
<rect x="582.30" y="256.80" width="11.90" height="37.90" fill="rgb(239, 128, 134)"/>
<rect x="593.60" y="256.80" width="11.90" height="37.90" fill="rgb(240, 241, 248)"/>
<rect x="604.90" y="256.80" width="11.90" height="37.90" fill="rgb(241, 142, 147)"/>
<rect x="616.20" y="256.80" width="11.90" height="37.90" fill="rgb(247, 247, 252)"/>
<rect x="627.50" y="256.80" width="11.90" height="37.90" fill="rgb(237, 116, 121)"/>
<rect x="638.80" y="256.80" width="11.90" height="37.90" fill="rgb(236, 107, 112)"/>
<rect x="650.10" y="256.80" width="11.90" height="37.30" fill="rgb(236, 107, 112)"/>
<rect x="661.40" y="256.80" width="11.90" height="37.30" fill="rgb(236, 107, 112)"/>
<rect x="672.70" y="256.80" width="11.30" height="37.30" fill="rgb(236, 107, 112)"/>
<rect x="277.20" y="294.10" width="11.90" height="37.60" fill="rgb(250, 210, 213)"/>
<rect x="288.50" y="294.10" width="11.90" height="37.60" fill="rgb(227, 233, 244)"/>
<rect x="299.80" y="294.10" width="11.90" height="37.60" fill="rgb(236, 239, 247)"/>
<rect x="311.10" y="294.10" width="11.90" height="37.60" fill="rgb(233, 237, 246)"/>
<rect x="322.40" y="294.10" width="11.90" height="37.60" fill="rgb(247, 247, 252)"/>
<rect x="333.70" y="294.10" width="11.90" height="37.60" fill="rgb(238, 240, 248)"/>
<rect x="345.00" y="294.10" width="11.90" height="37.60" fill="rgb(238, 240, 248)"/>
<rect x="356.30" y="294.10" width="11.90" height="37.60" fill="rgb(241, 142, 147)"/>
<rect x="367.60" y="294.10" width="11.90" height="37.60" fill="rgb(243, 155, 160)"/>
<rect x="378.90" y="294.10" width="11.90" height="37.60" fill="rgb(243, 155, 160)"/>
<rect x="390.20" y="294.10" width="11.90" height="37.60" fill="rgb(247, 186, 190)"/>
<rect x="401.50" y="294.10" width="11.90" height="37.60" fill="rgb(239, 128, 134)"/>
<rect x="412.80" y="294.10" width="11.90" height="37.60" fill="rgb(243, 243, 249)"/>
<rect x="424.10" y="294.10" width="11.90" height="37.60" fill="rgb(251, 228, 230)"/>
<rect x="435.40" y="294.10" width="11.90" height="37.60" fill="rgb(241, 242, 249)"/>
<rect x="446.70" y="294.10" width="11.90" height="37.60" fill="rgb(250, 210, 213)"/>
<rect x="458.00" y="294.10" width="11.90" height="37.60" fill="rgb(251, 228, 230)"/>
<rect x="469.30" y="294.10" width="11.90" height="37.60" fill="rgb(247, 186, 190)"/>
<rect x="480.60" y="294.10" width="11.90" height="37.60" fill="rgb(241, 242, 249)"/>
<rect x="491.90" y="294.10" width="11.90" height="37.60" fill="rgb(236, 239, 247)"/>
<rect x="503.20" y="294.10" width="11.90" height="37.60" fill="rgb(247, 186, 190)"/>
<rect x="514.50" y="294.10" width="11.90" height="37.60" fill="rgb(239, 128, 134)"/>
<rect x="525.80" y="294.10" width="11.90" height="37.60" fill="rgb(240, 241, 248)"/>
<rect x="537.10" y="294.10" width="11.90" height="37.60" fill="rgb(238, 240, 248)"/>
<rect x="548.40" y="294.10" width="11.90" height="37.60" fill="rgb(243, 243, 249)"/>
<rect x="559.70" y="294.10" width="11.90" height="37.60" fill="rgb(238, 240, 248)"/>
<rect x="571.00" y="294.10" width="11.90" height="37.60" fill="rgb(238, 240, 248)"/>
<rect x="582.30" y="294.10" width="11.90" height="37.60" fill="rgb(238, 240, 248)"/>
<rect x="593.60" y="294.10" width="11.90" height="37.60" fill="rgb(238, 240, 248)"/>
<rect x="604.90" y="294.10" width="11.90" height="37.60" fill="rgb(238, 240, 248)"/>
<rect x="616.20" y="294.10" width="11.90" height="37.60" fill="rgb(237, 116, 121)"/>
<rect x="627.50" y="294.10" width="11.90" height="37.60" fill="rgb(243, 155, 160)"/>
<rect x="638.80" y="294.10" width="11.30" height="37.60" fill="rgb(236, 107, 112)"/>
<rect x="277.20" y="336.00" width="11.90" height="38.00" fill="rgb(186, 206, 229)"/>
<rect x="288.50" y="336.00" width="11.90" height="38.00" fill="rgb(214, 224, 239)"/>
<rect x="299.80" y="336.00" width="11.90" height="38.00" fill="rgb(233, 237, 246)"/>
<rect x="311.10" y="336.00" width="11.90" height="38.00" fill="rgb(241, 242, 249)"/>
<rect x="322.40" y="336.00" width="11.90" height="38.00" fill="rgb(251, 228, 230)"/>
<rect x="333.70" y="336.00" width="11.90" height="38.00" fill="rgb(241, 242, 249)"/>
<rect x="345.00" y="336.00" width="11.90" height="38.00" fill="rgb(241, 242, 249)"/>
<rect x="356.30" y="336.00" width="11.90" height="38.00" fill="rgb(245, 170, 174)"/>
<rect x="367.60" y="336.00" width="11.90" height="38.00" fill="rgb(236, 107, 112)"/>
<rect x="378.90" y="336.00" width="11.90" height="38.00" fill="rgb(237, 116, 121)"/>
<rect x="390.20" y="336.00" width="11.90" height="38.00" fill="rgb(236, 107, 112)"/>
<rect x="401.50" y="336.00" width="11.90" height="38.00" fill="rgb(237, 116, 121)"/>
<rect x="412.80" y="336.00" width="11.90" height="38.00" fill="rgb(239, 128, 134)"/>
<rect x="424.10" y="336.00" width="11.90" height="38.00" fill="rgb(239, 128, 134)"/>
<rect x="435.40" y="336.00" width="11.90" height="38.00" fill="rgb(239, 128, 134)"/>
<rect x="446.70" y="336.00" width="11.90" height="38.00" fill="rgb(236, 239, 247)"/>
<rect x="458.00" y="336.00" width="11.90" height="38.00" fill="rgb(241, 142, 147)"/>
<rect x="469.30" y="336.00" width="11.90" height="38.00" fill="rgb(236, 239, 247)"/>
<rect x="480.60" y="336.00" width="11.90" height="38.00" fill="rgb(250, 210, 213)"/>
<rect x="491.90" y="336.00" width="11.90" height="38.00" fill="rgb(240, 241, 248)"/>
<rect x="503.20" y="336.00" width="11.90" height="38.00" fill="rgb(236, 239, 247)"/>
<rect x="514.50" y="336.00" width="11.90" height="38.00" fill="rgb(238, 240, 248)"/>
<rect x="525.80" y="336.00" width="11.90" height="38.00" fill="rgb(233, 237, 246)"/>
<rect x="537.10" y="336.00" width="11.90" height="38.00" fill="rgb(231, 236, 245)"/>
<rect x="548.40" y="336.00" width="11.90" height="38.00" fill="rgb(233, 237, 246)"/>
<rect x="559.70" y="336.00" width="11.90" height="38.00" fill="rgb(240, 241, 248)"/>
<rect x="571.00" y="336.00" width="11.90" height="38.00" fill="rgb(229, 234, 244)"/>
<rect x="582.30" y="336.00" width="11.90" height="38.00" fill="rgb(229, 234, 244)"/>
<rect x="593.60" y="336.00" width="11.90" height="38.00" fill="rgb(91, 132, 187)"/>
<rect x="604.90" y="336.00" width="11.90" height="38.00" fill="rgb(135, 166, 207)"/>
<rect x="616.20" y="336.00" width="11.90" height="38.00" fill="rgb(220, 228, 241)"/>
<rect x="627.50" y="336.00" width="11.90" height="38.00" fill="rgb(238, 240, 248)"/>
<rect x="638.80" y="336.00" width="11.90" height="38.00" fill="rgb(220, 228, 241)"/>
<rect x="650.10" y="336.00" width="11.90" height="37.40" fill="rgb(247, 247, 252)"/>
<rect x="661.40" y="336.00" width="11.90" height="37.40" fill="rgb(222, 229, 242)"/>
<rect x="672.70" y="336.00" width="11.30" height="37.40" fill="rgb(241, 142, 147)"/>
<rect x="277.20" y="373.40" width="11.90" height="37.30" fill="rgb(231, 236, 245)"/>
<rect x="288.50" y="373.40" width="11.90" height="37.30" fill="rgb(243, 243, 249)"/>
<rect x="299.80" y="373.40" width="11.90" height="37.30" fill="rgb(243, 243, 249)"/>
<rect x="311.10" y="373.40" width="11.90" height="37.30" fill="rgb(247, 247, 252)"/>
<rect x="322.40" y="373.40" width="11.90" height="37.30" fill="rgb(236, 239, 247)"/>
<rect x="333.70" y="373.40" width="11.90" height="37.30" fill="rgb(238, 240, 248)"/>
<rect x="345.00" y="373.40" width="11.90" height="37.30" fill="rgb(238, 240, 248)"/>
<rect x="356.30" y="373.40" width="11.90" height="37.30" fill="rgb(247, 247, 252)"/>
<rect x="367.60" y="373.40" width="11.90" height="37.30" fill="rgb(239, 128, 134)"/>
<rect x="378.90" y="373.40" width="11.90" height="37.30" fill="rgb(239, 128, 134)"/>
<rect x="390.20" y="373.40" width="11.90" height="37.30" fill="rgb(243, 155, 160)"/>
<rect x="401.50" y="373.40" width="11.90" height="37.30" fill="rgb(245, 170, 174)"/>
<rect x="412.80" y="373.40" width="11.90" height="37.30" fill="rgb(247, 186, 190)"/>
<rect x="424.10" y="373.40" width="11.90" height="37.30" fill="rgb(247, 247, 252)"/>
<rect x="435.40" y="373.40" width="11.90" height="37.30" fill="rgb(243, 243, 249)"/>
<rect x="446.70" y="373.40" width="11.90" height="37.30" fill="rgb(241, 242, 249)"/>
<rect x="458.00" y="373.40" width="11.90" height="37.30" fill="rgb(241, 242, 249)"/>
<rect x="469.30" y="373.40" width="11.90" height="37.30" fill="rgb(233, 237, 246)"/>
<rect x="480.60" y="373.40" width="11.90" height="37.30" fill="rgb(240, 241, 248)"/>
<rect x="491.90" y="373.40" width="11.90" height="37.30" fill="rgb(222, 229, 242)"/>
<rect x="503.20" y="373.40" width="11.90" height="37.30" fill="rgb(224, 231, 243)"/>
<rect x="514.50" y="373.40" width="11.90" height="37.30" fill="rgb(233, 237, 246)"/>
<rect x="525.80" y="373.40" width="11.90" height="37.30" fill="rgb(224, 231, 243)"/>
<rect x="537.10" y="373.40" width="11.90" height="37.30" fill="rgb(222, 229, 242)"/>
<rect x="548.40" y="373.40" width="11.90" height="37.30" fill="rgb(224, 231, 243)"/>
<rect x="559.70" y="373.40" width="11.90" height="37.30" fill="rgb(170, 192, 221)"/>
<rect x="571.00" y="373.40" width="11.90" height="37.30" fill="rgb(194, 211, 232)"/>
<rect x="582.30" y="373.40" width="11.90" height="37.30" fill="rgb(186, 206, 229)"/>
<rect x="593.60" y="373.40" width="11.90" height="37.30" fill="rgb(217, 226, 240)"/>
<rect x="604.90" y="373.40" width="11.90" height="37.30" fill="rgb(168, 190, 220)"/>
<rect x="616.20" y="373.40" width="11.90" height="37.30" fill="rgb(220, 228, 241)"/>
<rect x="627.50" y="373.40" width="11.90" height="37.30" fill="rgb(137, 167, 208)"/>
<rect x="638.80" y="373.40" width="11.30" height="37.30" fill="rgb(236, 107, 112)"/>
<text transform="translate(285.35,195.80) rotate(-90) scale(0.84,1)" font-size="7.2" fill="#9c9c9c" text-anchor="middle">0.7642</text>
<text transform="translate(296.65,195.80) rotate(-90) scale(0.84,1)" font-size="7.2" fill="#9c9c9c" text-anchor="middle">0.9024</text>
<text transform="translate(307.95,195.80) rotate(-90) scale(0.84,1)" font-size="7.2" fill="#9c9c9c" text-anchor="middle">0.9431</text>
<text transform="translate(319.25,195.80) rotate(-90) scale(0.84,1)" font-size="7.2" fill="#9c9c9c" text-anchor="middle">0.8699</text>
<text transform="translate(330.55,195.80) rotate(-90) scale(0.84,1)" font-size="7.2" fill="#9c9c9c" text-anchor="middle">0.8943</text>
<text transform="translate(341.85,195.80) rotate(-90) scale(0.84,1)" font-size="7.2" fill="#9c9c9c" text-anchor="middle">0.9431</text>
<text transform="translate(353.15,195.80) rotate(-90) scale(0.84,1)" font-size="7.2" fill="#9c9c9c" text-anchor="middle">0.8862</text>
<text transform="translate(364.45,195.80) rotate(-90) scale(0.84,1)" font-size="7.2" fill="#9c9c9c" text-anchor="middle">0.8618</text>
<text transform="translate(375.75,195.80) rotate(-90) scale(0.84,1)" font-size="7.2" fill="#9c9c9c" text-anchor="middle">0.9350</text>
<text transform="translate(387.05,195.80) rotate(-90) scale(0.84,1)" font-size="7.2" fill="#ffffff" text-anchor="middle">0.9756</text>
<text transform="translate(398.35,195.80) rotate(-90) scale(0.84,1)" font-size="7.2" fill="#9c9c9c" text-anchor="middle">0.8943</text>
<text transform="translate(409.65,195.80) rotate(-90) scale(0.84,1)" font-size="7.2" fill="#9c9c9c" text-anchor="middle">0.8780</text>
<text transform="translate(420.95,195.80) rotate(-90) scale(0.84,1)" font-size="7.2" fill="#ffffff" text-anchor="middle">0.9919</text>
<text transform="translate(432.25,195.80) rotate(-90) scale(0.84,1)" font-size="7.2" fill="#ffffff" text-anchor="middle">0.9512</text>
<text transform="translate(443.55,195.80) rotate(-90) scale(0.84,1)" font-size="7.2" fill="#ffffff" text-anchor="middle">0.9593</text>
<text transform="translate(454.85,195.80) rotate(-90) scale(0.84,1)" font-size="7.2" fill="#ffffff" text-anchor="middle">1.0000</text>
<text transform="translate(466.15,195.80) rotate(-90) scale(0.84,1)" font-size="7.2" fill="#ffffff" text-anchor="middle">1.0000</text>
<text transform="translate(477.45,195.80) rotate(-90) scale(0.84,1)" font-size="7.2" fill="#ffffff" text-anchor="middle">1.0000</text>
<text transform="translate(488.75,195.80) rotate(-90) scale(0.84,1)" font-size="7.2" fill="#9c9c9c" text-anchor="middle">0.9106</text>
<text transform="translate(500.05,195.80) rotate(-90) scale(0.84,1)" font-size="7.2" fill="#ffffff" text-anchor="middle">0.9756</text>
<text transform="translate(511.35,195.80) rotate(-90) scale(0.84,1)" font-size="7.2" fill="#ffffff" text-anchor="middle">0.9837</text>
<text transform="translate(522.65,195.80) rotate(-90) scale(0.84,1)" font-size="7.2" fill="#ffffff" text-anchor="middle">1.0000</text>
<text transform="translate(533.95,195.80) rotate(-90) scale(0.84,1)" font-size="7.2" fill="#ffffff" text-anchor="middle">0.9756</text>
<text transform="translate(545.25,195.80) rotate(-90) scale(0.84,1)" font-size="7.2" fill="#9c9c9c" text-anchor="middle">0.9268</text>
<text transform="translate(556.55,195.80) rotate(-90) scale(0.84,1)" font-size="7.2" fill="#9c9c9c" text-anchor="middle">0.9431</text>
<text transform="translate(567.85,195.80) rotate(-90) scale(0.84,1)" font-size="7.2" fill="#ffffff" text-anchor="middle">0.9919</text>
<text transform="translate(579.15,195.80) rotate(-90) scale(0.84,1)" font-size="7.2" fill="#ffffff" text-anchor="middle">1.0000</text>
<text transform="translate(590.45,195.80) rotate(-90) scale(0.84,1)" font-size="7.2" fill="#ffffff" text-anchor="middle">0.9919</text>
<text transform="translate(601.75,195.80) rotate(-90) scale(0.84,1)" font-size="7.2" fill="#9c9c9c" text-anchor="middle">0.9350</text>
<text transform="translate(613.05,195.80) rotate(-90) scale(0.84,1)" font-size="7.2" fill="#9c9c9c" text-anchor="middle">0.8943</text>
<text transform="translate(624.35,195.80) rotate(-90) scale(0.84,1)" font-size="7.2" fill="#ffffff" text-anchor="middle">0.9756</text>
<text transform="translate(635.65,195.80) rotate(-90) scale(0.84,1)" font-size="7.2" fill="#ffffff" text-anchor="middle">0.9512</text>
<text transform="translate(646.95,195.80) rotate(-90) scale(0.84,1)" font-size="7.2" fill="#9c9c9c" text-anchor="middle">0.9268</text>
<text transform="translate(658.25,195.80) rotate(-90) scale(0.84,1)" font-size="7.2" fill="#ffffff" text-anchor="middle">0.9837</text>
<text transform="translate(669.55,195.80) rotate(-90) scale(0.84,1)" font-size="7.2" fill="#ffffff" text-anchor="middle">1.0000</text>
<text transform="translate(680.85,195.80) rotate(-90) scale(0.84,1)" font-size="7.2" fill="#ffffff" text-anchor="middle">1.0000</text>
<text transform="translate(285.35,233.45) rotate(-90) scale(0.84,1)" font-size="7.2" fill="#9c9c9c" text-anchor="middle">0.8537</text>
<text transform="translate(296.65,233.45) rotate(-90) scale(0.84,1)" font-size="7.2" fill="#9c9c9c" text-anchor="middle">0.9268</text>
<text transform="translate(307.95,233.45) rotate(-90) scale(0.84,1)" font-size="7.2" fill="#9c9c9c" text-anchor="middle">0.8699</text>
<text transform="translate(319.25,233.45) rotate(-90) scale(0.84,1)" font-size="7.2" fill="#9c9c9c" text-anchor="middle">0.9024</text>
<text transform="translate(330.55,233.45) rotate(-90) scale(0.84,1)" font-size="7.2" fill="#9c9c9c" text-anchor="middle">0.8618</text>
<text transform="translate(341.85,233.45) rotate(-90) scale(0.84,1)" font-size="7.2" fill="#9c9c9c" text-anchor="middle">0.9268</text>
<text transform="translate(353.15,233.45) rotate(-90) scale(0.84,1)" font-size="7.2" fill="#9c9c9c" text-anchor="middle">0.9106</text>
<text transform="translate(364.45,233.45) rotate(-90) scale(0.84,1)" font-size="7.2" fill="#9c9c9c" text-anchor="middle">0.9106</text>
<text transform="translate(375.75,233.45) rotate(-90) scale(0.84,1)" font-size="7.2" fill="#9c9c9c" text-anchor="middle">0.9268</text>
<text transform="translate(387.05,233.45) rotate(-90) scale(0.84,1)" font-size="7.2" fill="#ffffff" text-anchor="middle">0.9837</text>
<text transform="translate(398.35,233.45) rotate(-90) scale(0.84,1)" font-size="7.2" fill="#9c9c9c" text-anchor="middle">0.9431</text>
<text transform="translate(409.65,233.45) rotate(-90) scale(0.84,1)" font-size="7.2" fill="#ffffff" text-anchor="middle">0.9919</text>
<text transform="translate(420.95,233.45) rotate(-90) scale(0.84,1)" font-size="7.2" fill="#ffffff" text-anchor="middle">0.9919</text>
<text transform="translate(432.25,233.45) rotate(-90) scale(0.84,1)" font-size="7.2" fill="#ffffff" text-anchor="middle">0.9593</text>
<text transform="translate(443.55,233.45) rotate(-90) scale(0.84,1)" font-size="7.2" fill="#9c9c9c" text-anchor="middle">0.8943</text>
<text transform="translate(454.85,233.45) rotate(-90) scale(0.84,1)" font-size="7.2" fill="#ffffff" text-anchor="middle">0.9837</text>
<text transform="translate(466.15,233.45) rotate(-90) scale(0.84,1)" font-size="7.2" fill="#ffffff" text-anchor="middle">0.9837</text>
<text transform="translate(477.45,233.45) rotate(-90) scale(0.84,1)" font-size="7.2" fill="#9c9c9c" text-anchor="middle">0.9106</text>
<text transform="translate(488.75,233.45) rotate(-90) scale(0.84,1)" font-size="7.2" fill="#ffffff" text-anchor="middle">0.9593</text>
<text transform="translate(500.05,233.45) rotate(-90) scale(0.84,1)" font-size="7.2" fill="#ffffff" text-anchor="middle">0.9837</text>
<text transform="translate(511.35,233.45) rotate(-90) scale(0.84,1)" font-size="7.2" fill="#9c9c9c" text-anchor="middle">0.9268</text>
<text transform="translate(522.65,233.45) rotate(-90) scale(0.84,1)" font-size="7.2" fill="#ffffff" text-anchor="middle">0.9919</text>
<text transform="translate(533.95,233.45) rotate(-90) scale(0.84,1)" font-size="7.2" fill="#9c9c9c" text-anchor="middle">0.9431</text>
<text transform="translate(545.25,233.45) rotate(-90) scale(0.84,1)" font-size="7.2" fill="#9c9c9c" text-anchor="middle">0.8943</text>
<text transform="translate(556.55,233.45) rotate(-90) scale(0.84,1)" font-size="7.2" fill="#ffffff" text-anchor="middle">0.9837</text>
<text transform="translate(567.85,233.45) rotate(-90) scale(0.84,1)" font-size="7.2" fill="#ffffff" text-anchor="middle">0.9837</text>
<text transform="translate(579.15,233.45) rotate(-90) scale(0.84,1)" font-size="7.2" fill="#9c9c9c" text-anchor="middle">0.8943</text>
<text transform="translate(590.45,233.45) rotate(-90) scale(0.84,1)" font-size="7.2" fill="#ffffff" text-anchor="middle">0.9512</text>
<text transform="translate(601.75,233.45) rotate(-90) scale(0.84,1)" font-size="7.2" fill="#ffffff" text-anchor="middle">0.9919</text>
<text transform="translate(613.05,233.45) rotate(-90) scale(0.84,1)" font-size="7.2" fill="#9c9c9c" text-anchor="middle">0.8862</text>
<text transform="translate(624.35,233.45) rotate(-90) scale(0.84,1)" font-size="7.2" fill="#9c9c9c" text-anchor="middle">0.8943</text>
<text transform="translate(635.65,233.45) rotate(-90) scale(0.84,1)" font-size="7.2" fill="#ffffff" text-anchor="middle">0.9919</text>
<text transform="translate(646.95,233.45) rotate(-90) scale(0.84,1)" font-size="7.2" fill="#9c9c9c" text-anchor="middle">0.9187</text>
<text transform="translate(285.35,275.25) rotate(-90) scale(0.84,1)" font-size="7.2" fill="#9c9c9c" text-anchor="middle">0.8862</text>
<text transform="translate(296.65,275.25) rotate(-90) scale(0.84,1)" font-size="7.2" fill="#ffffff" text-anchor="middle">0.9837</text>
<text transform="translate(307.95,275.25) rotate(-90) scale(0.84,1)" font-size="7.2" fill="#9c9c9c" text-anchor="middle">0.9106</text>
<text transform="translate(319.25,275.25) rotate(-90) scale(0.84,1)" font-size="7.2" fill="#9c9c9c" text-anchor="middle">0.8943</text>
<text transform="translate(330.55,275.25) rotate(-90) scale(0.84,1)" font-size="7.2" fill="#9c9c9c" text-anchor="middle">0.8862</text>
<text transform="translate(341.85,275.25) rotate(-90) scale(0.84,1)" font-size="7.2" fill="#9c9c9c" text-anchor="middle">0.9350</text>
<text transform="translate(353.15,275.25) rotate(-90) scale(0.84,1)" font-size="7.2" fill="#9c9c9c" text-anchor="middle">0.9268</text>
<text transform="translate(364.45,275.25) rotate(-90) scale(0.84,1)" font-size="7.2" fill="#ffffff" text-anchor="middle">0.9675</text>
<text transform="translate(375.75,275.25) rotate(-90) scale(0.84,1)" font-size="7.2" fill="#ffffff" text-anchor="middle">0.9756</text>
<text transform="translate(387.05,275.25) rotate(-90) scale(0.84,1)" font-size="7.2" fill="#ffffff" text-anchor="middle">0.9837</text>
<text transform="translate(398.35,275.25) rotate(-90) scale(0.84,1)" font-size="7.2" fill="#ffffff" text-anchor="middle">0.9837</text>
<text transform="translate(409.65,275.25) rotate(-90) scale(0.84,1)" font-size="7.2" fill="#ffffff" text-anchor="middle">0.9919</text>
<text transform="translate(420.95,275.25) rotate(-90) scale(0.84,1)" font-size="7.2" fill="#ffffff" text-anchor="middle">0.9675</text>
<text transform="translate(432.25,275.25) rotate(-90) scale(0.84,1)" font-size="7.2" fill="#ffffff" text-anchor="middle">1.0000</text>
<text transform="translate(443.55,275.25) rotate(-90) scale(0.84,1)" font-size="7.2" fill="#ffffff" text-anchor="middle">0.9593</text>
<text transform="translate(454.85,275.25) rotate(-90) scale(0.84,1)" font-size="7.2" fill="#ffffff" text-anchor="middle">0.9756</text>
<text transform="translate(466.15,275.25) rotate(-90) scale(0.84,1)" font-size="7.2" fill="#ffffff" text-anchor="middle">0.9593</text>
<text transform="translate(477.45,275.25) rotate(-90) scale(0.84,1)" font-size="7.2" fill="#9c9c9c" text-anchor="middle">0.9431</text>
<text transform="translate(488.75,275.25) rotate(-90) scale(0.84,1)" font-size="7.2" fill="#ffffff" text-anchor="middle">0.9675</text>
<text transform="translate(500.05,275.25) rotate(-90) scale(0.84,1)" font-size="7.2" fill="#ffffff" text-anchor="middle">0.9837</text>
<text transform="translate(511.35,275.25) rotate(-90) scale(0.84,1)" font-size="7.2" fill="#9c9c9c" text-anchor="middle">0.9268</text>
<text transform="translate(522.65,275.25) rotate(-90) scale(0.84,1)" font-size="7.2" fill="#ffffff" text-anchor="middle">0.9837</text>
<text transform="translate(533.95,275.25) rotate(-90) scale(0.84,1)" font-size="7.2" fill="#9c9c9c" text-anchor="middle">0.9106</text>
<text transform="translate(545.25,275.25) rotate(-90) scale(0.84,1)" font-size="7.2" fill="#9c9c9c" text-anchor="middle">0.8943</text>
<text transform="translate(556.55,275.25) rotate(-90) scale(0.84,1)" font-size="7.2" fill="#9c9c9c" text-anchor="middle">0.9350</text>
<text transform="translate(567.85,275.25) rotate(-90) scale(0.84,1)" font-size="7.2" fill="#9c9c9c" text-anchor="middle">0.9268</text>
<text transform="translate(579.15,275.25) rotate(-90) scale(0.84,1)" font-size="7.2" fill="#ffffff" text-anchor="middle">0.9837</text>
<text transform="translate(590.45,275.25) rotate(-90) scale(0.84,1)" font-size="7.2" fill="#ffffff" text-anchor="middle">0.9837</text>
<text transform="translate(601.75,275.25) rotate(-90) scale(0.84,1)" font-size="7.2" fill="#9c9c9c" text-anchor="middle">0.9024</text>
<text transform="translate(613.05,275.25) rotate(-90) scale(0.84,1)" font-size="7.2" fill="#ffffff" text-anchor="middle">0.9756</text>
<text transform="translate(624.35,275.25) rotate(-90) scale(0.84,1)" font-size="7.2" fill="#9c9c9c" text-anchor="middle">0.9268</text>
<text transform="translate(635.65,275.25) rotate(-90) scale(0.84,1)" font-size="7.2" fill="#ffffff" text-anchor="middle">0.9919</text>
<text transform="translate(646.95,275.25) rotate(-90) scale(0.84,1)" font-size="7.2" fill="#ffffff" text-anchor="middle">1.0000</text>
<text transform="translate(658.25,275.25) rotate(-90) scale(0.84,1)" font-size="7.2" fill="#ffffff" text-anchor="middle">1.0000</text>
<text transform="translate(669.55,275.25) rotate(-90) scale(0.84,1)" font-size="7.2" fill="#ffffff" text-anchor="middle">1.0000</text>
<text transform="translate(680.85,275.25) rotate(-90) scale(0.84,1)" font-size="7.2" fill="#ffffff" text-anchor="middle">1.0000</text>
<text transform="translate(285.35,312.70) rotate(-90) scale(0.84,1)" font-size="7.2" fill="#9c9c9c" text-anchor="middle">0.9431</text>
<text transform="translate(296.65,312.70) rotate(-90) scale(0.84,1)" font-size="7.2" fill="#9c9c9c" text-anchor="middle">0.8537</text>
<text transform="translate(307.95,312.70) rotate(-90) scale(0.84,1)" font-size="7.2" fill="#9c9c9c" text-anchor="middle">0.8862</text>
<text transform="translate(319.25,312.70) rotate(-90) scale(0.84,1)" font-size="7.2" fill="#9c9c9c" text-anchor="middle">0.8780</text>
<text transform="translate(330.55,312.70) rotate(-90) scale(0.84,1)" font-size="7.2" fill="#9c9c9c" text-anchor="middle">0.9268</text>
<text transform="translate(341.85,312.70) rotate(-90) scale(0.84,1)" font-size="7.2" fill="#9c9c9c" text-anchor="middle">0.8943</text>
<text transform="translate(353.15,312.70) rotate(-90) scale(0.84,1)" font-size="7.2" fill="#9c9c9c" text-anchor="middle">0.8943</text>
<text transform="translate(364.45,312.70) rotate(-90) scale(0.84,1)" font-size="7.2" fill="#ffffff" text-anchor="middle">0.9756</text>
<text transform="translate(375.75,312.70) rotate(-90) scale(0.84,1)" font-size="7.2" fill="#ffffff" text-anchor="middle">0.9675</text>
<text transform="translate(387.05,312.70) rotate(-90) scale(0.84,1)" font-size="7.2" fill="#ffffff" text-anchor="middle">0.9675</text>
<text transform="translate(398.35,312.70) rotate(-90) scale(0.84,1)" font-size="7.2" fill="#ffffff" text-anchor="middle">0.9512</text>
<text transform="translate(409.65,312.70) rotate(-90) scale(0.84,1)" font-size="7.2" fill="#ffffff" text-anchor="middle">0.9837</text>
<text transform="translate(420.95,312.70) rotate(-90) scale(0.84,1)" font-size="7.2" fill="#9c9c9c" text-anchor="middle">0.9187</text>
<text transform="translate(432.25,312.70) rotate(-90) scale(0.84,1)" font-size="7.2" fill="#9c9c9c" text-anchor="middle">0.9350</text>
<text transform="translate(443.55,312.70) rotate(-90) scale(0.84,1)" font-size="7.2" fill="#9c9c9c" text-anchor="middle">0.9106</text>
<text transform="translate(454.85,312.70) rotate(-90) scale(0.84,1)" font-size="7.2" fill="#9c9c9c" text-anchor="middle">0.9431</text>
<text transform="translate(466.15,312.70) rotate(-90) scale(0.84,1)" font-size="7.2" fill="#9c9c9c" text-anchor="middle">0.9350</text>
<text transform="translate(477.45,312.70) rotate(-90) scale(0.84,1)" font-size="7.2" fill="#ffffff" text-anchor="middle">0.9512</text>
<text transform="translate(488.75,312.70) rotate(-90) scale(0.84,1)" font-size="7.2" fill="#9c9c9c" text-anchor="middle">0.9106</text>
<text transform="translate(500.05,312.70) rotate(-90) scale(0.84,1)" font-size="7.2" fill="#9c9c9c" text-anchor="middle">0.8862</text>
<text transform="translate(511.35,312.70) rotate(-90) scale(0.84,1)" font-size="7.2" fill="#ffffff" text-anchor="middle">0.9512</text>
<text transform="translate(522.65,312.70) rotate(-90) scale(0.84,1)" font-size="7.2" fill="#ffffff" text-anchor="middle">0.9837</text>
<text transform="translate(533.95,312.70) rotate(-90) scale(0.84,1)" font-size="7.2" fill="#9c9c9c" text-anchor="middle">0.9024</text>
<text transform="translate(545.25,312.70) rotate(-90) scale(0.84,1)" font-size="7.2" fill="#9c9c9c" text-anchor="middle">0.8943</text>
<text transform="translate(556.55,312.70) rotate(-90) scale(0.84,1)" font-size="7.2" fill="#9c9c9c" text-anchor="middle">0.9187</text>
<text transform="translate(567.85,312.70) rotate(-90) scale(0.84,1)" font-size="7.2" fill="#9c9c9c" text-anchor="middle">0.8943</text>
<text transform="translate(579.15,312.70) rotate(-90) scale(0.84,1)" font-size="7.2" fill="#9c9c9c" text-anchor="middle">0.8943</text>
<text transform="translate(590.45,312.70) rotate(-90) scale(0.84,1)" font-size="7.2" fill="#9c9c9c" text-anchor="middle">0.8943</text>
<text transform="translate(601.75,312.70) rotate(-90) scale(0.84,1)" font-size="7.2" fill="#9c9c9c" text-anchor="middle">0.8943</text>
<text transform="translate(613.05,312.70) rotate(-90) scale(0.84,1)" font-size="7.2" fill="#9c9c9c" text-anchor="middle">0.8943</text>
<text transform="translate(624.35,312.70) rotate(-90) scale(0.84,1)" font-size="7.2" fill="#ffffff" text-anchor="middle">0.9919</text>
<text transform="translate(635.65,312.70) rotate(-90) scale(0.84,1)" font-size="7.2" fill="#ffffff" text-anchor="middle">0.9675</text>
<text transform="translate(646.95,312.70) rotate(-90) scale(0.84,1)" font-size="7.2" fill="#ffffff" text-anchor="middle">1.0000</text>
<text transform="translate(285.35,354.50) rotate(-90) scale(0.84,1)" font-size="7.2" fill="#9c9c9c" text-anchor="middle">0.7154</text>
<text transform="translate(296.65,354.50) rotate(-90) scale(0.84,1)" font-size="7.2" fill="#9c9c9c" text-anchor="middle">0.8130</text>
<text transform="translate(307.95,354.50) rotate(-90) scale(0.84,1)" font-size="7.2" fill="#9c9c9c" text-anchor="middle">0.8780</text>
<text transform="translate(319.25,354.50) rotate(-90) scale(0.84,1)" font-size="7.2" fill="#9c9c9c" text-anchor="middle">0.9106</text>
<text transform="translate(330.55,354.50) rotate(-90) scale(0.84,1)" font-size="7.2" fill="#9c9c9c" text-anchor="middle">0.9350</text>
<text transform="translate(341.85,354.50) rotate(-90) scale(0.84,1)" font-size="7.2" fill="#9c9c9c" text-anchor="middle">0.9106</text>
<text transform="translate(353.15,354.50) rotate(-90) scale(0.84,1)" font-size="7.2" fill="#9c9c9c" text-anchor="middle">0.9106</text>
<text transform="translate(364.45,354.50) rotate(-90) scale(0.84,1)" font-size="7.2" fill="#ffffff" text-anchor="middle">0.9593</text>
<text transform="translate(375.75,354.50) rotate(-90) scale(0.84,1)" font-size="7.2" fill="#ffffff" text-anchor="middle">1.0000</text>
<text transform="translate(387.05,354.50) rotate(-90) scale(0.84,1)" font-size="7.2" fill="#ffffff" text-anchor="middle">0.9919</text>
<text transform="translate(398.35,354.50) rotate(-90) scale(0.84,1)" font-size="7.2" fill="#ffffff" text-anchor="middle">1.0000</text>
<text transform="translate(409.65,354.50) rotate(-90) scale(0.84,1)" font-size="7.2" fill="#ffffff" text-anchor="middle">0.9919</text>
<text transform="translate(420.95,354.50) rotate(-90) scale(0.84,1)" font-size="7.2" fill="#ffffff" text-anchor="middle">0.9837</text>
<text transform="translate(432.25,354.50) rotate(-90) scale(0.84,1)" font-size="7.2" fill="#ffffff" text-anchor="middle">0.9837</text>
<text transform="translate(443.55,354.50) rotate(-90) scale(0.84,1)" font-size="7.2" fill="#ffffff" text-anchor="middle">0.9837</text>
<text transform="translate(454.85,354.50) rotate(-90) scale(0.84,1)" font-size="7.2" fill="#9c9c9c" text-anchor="middle">0.8862</text>
<text transform="translate(466.15,354.50) rotate(-90) scale(0.84,1)" font-size="7.2" fill="#ffffff" text-anchor="middle">0.9756</text>
<text transform="translate(477.45,354.50) rotate(-90) scale(0.84,1)" font-size="7.2" fill="#9c9c9c" text-anchor="middle">0.8862</text>
<text transform="translate(488.75,354.50) rotate(-90) scale(0.84,1)" font-size="7.2" fill="#9c9c9c" text-anchor="middle">0.9431</text>
<text transform="translate(500.05,354.50) rotate(-90) scale(0.84,1)" font-size="7.2" fill="#9c9c9c" text-anchor="middle">0.9024</text>
<text transform="translate(511.35,354.50) rotate(-90) scale(0.84,1)" font-size="7.2" fill="#9c9c9c" text-anchor="middle">0.8862</text>
<text transform="translate(522.65,354.50) rotate(-90) scale(0.84,1)" font-size="7.2" fill="#9c9c9c" text-anchor="middle">0.8943</text>
<text transform="translate(533.95,354.50) rotate(-90) scale(0.84,1)" font-size="7.2" fill="#9c9c9c" text-anchor="middle">0.8780</text>
<text transform="translate(545.25,354.50) rotate(-90) scale(0.84,1)" font-size="7.2" fill="#9c9c9c" text-anchor="middle">0.8699</text>
<text transform="translate(556.55,354.50) rotate(-90) scale(0.84,1)" font-size="7.2" fill="#9c9c9c" text-anchor="middle">0.8780</text>
<text transform="translate(567.85,354.50) rotate(-90) scale(0.84,1)" font-size="7.2" fill="#9c9c9c" text-anchor="middle">0.9024</text>
<text transform="translate(579.15,354.50) rotate(-90) scale(0.84,1)" font-size="7.2" fill="#9c9c9c" text-anchor="middle">0.8618</text>
<text transform="translate(590.45,354.50) rotate(-90) scale(0.84,1)" font-size="7.2" fill="#9c9c9c" text-anchor="middle">0.8618</text>
<text transform="translate(601.75,354.50) rotate(-90) scale(0.84,1)" font-size="7.2" fill="#ffffff" text-anchor="middle">0.2439</text>
<text transform="translate(613.05,354.50) rotate(-90) scale(0.84,1)" font-size="7.2" fill="#ffffff" text-anchor="middle">0.4715</text>
<text transform="translate(624.35,354.50) rotate(-90) scale(0.84,1)" font-size="7.2" fill="#9c9c9c" text-anchor="middle">0.8293</text>
<text transform="translate(635.65,354.50) rotate(-90) scale(0.84,1)" font-size="7.2" fill="#9c9c9c" text-anchor="middle">0.8943</text>
<text transform="translate(646.95,354.50) rotate(-90) scale(0.84,1)" font-size="7.2" fill="#9c9c9c" text-anchor="middle">0.8293</text>
<text transform="translate(658.25,354.50) rotate(-90) scale(0.84,1)" font-size="7.2" fill="#9c9c9c" text-anchor="middle">0.9268</text>
<text transform="translate(669.55,354.50) rotate(-90) scale(0.84,1)" font-size="7.2" fill="#9c9c9c" text-anchor="middle">0.8374</text>
<text transform="translate(680.85,354.50) rotate(-90) scale(0.84,1)" font-size="7.2" fill="#ffffff" text-anchor="middle">0.9756</text>
<text transform="translate(285.35,391.85) rotate(-90) scale(0.84,1)" font-size="7.2" fill="#9c9c9c" text-anchor="middle">0.8699</text>
<text transform="translate(296.65,391.85) rotate(-90) scale(0.84,1)" font-size="7.2" fill="#9c9c9c" text-anchor="middle">0.9187</text>
<text transform="translate(307.95,391.85) rotate(-90) scale(0.84,1)" font-size="7.2" fill="#9c9c9c" text-anchor="middle">0.9187</text>
<text transform="translate(319.25,391.85) rotate(-90) scale(0.84,1)" font-size="7.2" fill="#9c9c9c" text-anchor="middle">0.9268</text>
<text transform="translate(330.55,391.85) rotate(-90) scale(0.84,1)" font-size="7.2" fill="#9c9c9c" text-anchor="middle">0.8862</text>
<text transform="translate(341.85,391.85) rotate(-90) scale(0.84,1)" font-size="7.2" fill="#9c9c9c" text-anchor="middle">0.8943</text>
<text transform="translate(353.15,391.85) rotate(-90) scale(0.84,1)" font-size="7.2" fill="#9c9c9c" text-anchor="middle">0.8943</text>
<text transform="translate(364.45,391.85) rotate(-90) scale(0.84,1)" font-size="7.2" fill="#9c9c9c" text-anchor="middle">0.9268</text>
<text transform="translate(375.75,391.85) rotate(-90) scale(0.84,1)" font-size="7.2" fill="#ffffff" text-anchor="middle">0.9837</text>
<text transform="translate(387.05,391.85) rotate(-90) scale(0.84,1)" font-size="7.2" fill="#ffffff" text-anchor="middle">0.9837</text>
<text transform="translate(398.35,391.85) rotate(-90) scale(0.84,1)" font-size="7.2" fill="#ffffff" text-anchor="middle">0.9675</text>
<text transform="translate(409.65,391.85) rotate(-90) scale(0.84,1)" font-size="7.2" fill="#ffffff" text-anchor="middle">0.9593</text>
<text transform="translate(420.95,391.85) rotate(-90) scale(0.84,1)" font-size="7.2" fill="#ffffff" text-anchor="middle">0.9512</text>
<text transform="translate(432.25,391.85) rotate(-90) scale(0.84,1)" font-size="7.2" fill="#9c9c9c" text-anchor="middle">0.9268</text>
<text transform="translate(443.55,391.85) rotate(-90) scale(0.84,1)" font-size="7.2" fill="#9c9c9c" text-anchor="middle">0.9187</text>
<text transform="translate(454.85,391.85) rotate(-90) scale(0.84,1)" font-size="7.2" fill="#9c9c9c" text-anchor="middle">0.9106</text>
<text transform="translate(466.15,391.85) rotate(-90) scale(0.84,1)" font-size="7.2" fill="#9c9c9c" text-anchor="middle">0.9106</text>
<text transform="translate(477.45,391.85) rotate(-90) scale(0.84,1)" font-size="7.2" fill="#9c9c9c" text-anchor="middle">0.8780</text>
<text transform="translate(488.75,391.85) rotate(-90) scale(0.84,1)" font-size="7.2" fill="#9c9c9c" text-anchor="middle">0.9024</text>
<text transform="translate(500.05,391.85) rotate(-90) scale(0.84,1)" font-size="7.2" fill="#9c9c9c" text-anchor="middle">0.8374</text>
<text transform="translate(511.35,391.85) rotate(-90) scale(0.84,1)" font-size="7.2" fill="#9c9c9c" text-anchor="middle">0.8455</text>
<text transform="translate(522.65,391.85) rotate(-90) scale(0.84,1)" font-size="7.2" fill="#9c9c9c" text-anchor="middle">0.8780</text>
<text transform="translate(533.95,391.85) rotate(-90) scale(0.84,1)" font-size="7.2" fill="#9c9c9c" text-anchor="middle">0.8455</text>
<text transform="translate(545.25,391.85) rotate(-90) scale(0.84,1)" font-size="7.2" fill="#9c9c9c" text-anchor="middle">0.8374</text>
<text transform="translate(556.55,391.85) rotate(-90) scale(0.84,1)" font-size="7.2" fill="#9c9c9c" text-anchor="middle">0.8455</text>
<text transform="translate(567.85,391.85) rotate(-90) scale(0.84,1)" font-size="7.2" fill="#ffffff" text-anchor="middle">0.6504</text>
<text transform="translate(579.15,391.85) rotate(-90) scale(0.84,1)" font-size="7.2" fill="#ffffff" text-anchor="middle">0.7480</text>
<text transform="translate(590.45,391.85) rotate(-90) scale(0.84,1)" font-size="7.2" fill="#ffffff" text-anchor="middle">0.7154</text>
<text transform="translate(601.75,391.85) rotate(-90) scale(0.84,1)" font-size="7.2" fill="#9c9c9c" text-anchor="middle">0.8211</text>
<text transform="translate(613.05,391.85) rotate(-90) scale(0.84,1)" font-size="7.2" fill="#ffffff" text-anchor="middle">0.6423</text>
<text transform="translate(624.35,391.85) rotate(-90) scale(0.84,1)" font-size="7.2" fill="#9c9c9c" text-anchor="middle">0.8293</text>
<text transform="translate(635.65,391.85) rotate(-90) scale(0.84,1)" font-size="7.2" fill="#ffffff" text-anchor="middle">0.4797</text>
<text transform="translate(646.95,391.85) rotate(-90) scale(0.84,1)" font-size="7.2" fill="#ffffff" text-anchor="middle">1.0000</text>
<text transform="translate(259.6,214.8) rotate(-90)" font-size="8.9" fill="#111" text-anchor="middle">Attentions</text>
<line x1="262.8" y1="187.5" x2="262.8" y2="244.9" stroke="#555" stroke-width="0.6"/>
<text transform="translate(272.0,197.0) rotate(-90)" font-size="6.4" fill="#111" stroke="#111" stroke-width="0.15" text-anchor="middle">3B</text>
<text transform="translate(271.9,231.8) rotate(-90)" font-size="6.0" fill="#222" text-anchor="middle">650M</text>
<text transform="translate(259.6,296.0) rotate(-90)" font-size="8.9" fill="#111" text-anchor="middle">Embeddings</text>
<line x1="262.8" y1="268.0" x2="262.8" y2="325.5" stroke="#555" stroke-width="0.6"/>
<text transform="translate(272.0,277.0) rotate(-90)" font-size="6.4" fill="#111" stroke="#111" stroke-width="0.15" text-anchor="middle">3B</text>
<text transform="translate(271.9,312.0) rotate(-90)" font-size="6.0" fill="#222" text-anchor="middle">650M</text>
<text transform="translate(259.6,372.0) rotate(-90)" font-size="8.9" fill="#111" text-anchor="middle">CLS</text>
<line x1="262.8" y1="343.6" x2="262.8" y2="401.1" stroke="#555" stroke-width="0.6"/>
<text transform="translate(272.0,357.0) rotate(-90)" font-size="6.4" fill="#111" stroke="#111" stroke-width="0.15" text-anchor="middle">3B</text>
<text transform="translate(271.9,392.0) rotate(-90)" font-size="6.0" fill="#222" text-anchor="middle">650M</text>
<text x="250.90" y="416.20" font-size="8.9" fill="#1a1a1a" text-anchor="start" font-weight="normal" stroke="#1a1a1a" stroke-width="0.3">Layer</text>
<text x="284.55" y="416.60" font-size="6.3" fill="#111" text-anchor="middle" font-weight="normal" >1</text>
<text x="295.85" y="416.60" font-size="6.3" fill="#111" text-anchor="middle" font-weight="normal" >2</text>
<text x="307.15" y="416.60" font-size="6.3" fill="#111" text-anchor="middle" font-weight="normal" >3</text>
<text x="318.45" y="416.60" font-size="6.3" fill="#111" text-anchor="middle" font-weight="normal" >4</text>
<text x="329.75" y="416.60" font-size="6.3" fill="#111" text-anchor="middle" font-weight="normal" >5</text>
<text x="341.05" y="416.60" font-size="6.3" fill="#111" text-anchor="middle" font-weight="normal" >6</text>
<text x="352.35" y="416.60" font-size="6.3" fill="#111" text-anchor="middle" font-weight="normal" >7</text>
<text x="363.65" y="416.60" font-size="6.3" fill="#111" text-anchor="middle" font-weight="normal" >8</text>
<text x="374.95" y="416.60" font-size="6.3" fill="#111" text-anchor="middle" font-weight="normal" >9</text>
<text x="386.25" y="416.60" font-size="6.3" fill="#111" text-anchor="middle" font-weight="normal" >10</text>
<text x="397.55" y="416.60" font-size="6.3" fill="#111" text-anchor="middle" font-weight="normal" >11</text>
<text x="408.85" y="416.60" font-size="6.3" fill="#111" text-anchor="middle" font-weight="normal" >12</text>
<text x="420.15" y="416.60" font-size="6.3" fill="#111" text-anchor="middle" font-weight="normal" >13</text>
<text x="431.45" y="416.60" font-size="6.3" fill="#111" text-anchor="middle" font-weight="normal" >14</text>
<text x="442.75" y="416.60" font-size="6.3" fill="#111" text-anchor="middle" font-weight="normal" >15</text>
<text x="454.05" y="416.60" font-size="6.3" fill="#111" text-anchor="middle" font-weight="normal" >16</text>
<text x="465.35" y="416.60" font-size="6.3" fill="#111" text-anchor="middle" font-weight="normal" >17</text>
<text x="476.65" y="416.60" font-size="6.3" fill="#111" text-anchor="middle" font-weight="normal" >18</text>
<text x="487.95" y="416.60" font-size="6.3" fill="#111" text-anchor="middle" font-weight="normal" >19</text>
<text x="499.25" y="416.60" font-size="6.3" fill="#111" text-anchor="middle" font-weight="normal" >20</text>
<text x="510.55" y="416.60" font-size="6.3" fill="#111" text-anchor="middle" font-weight="normal" >21</text>
<text x="521.85" y="416.60" font-size="6.3" fill="#111" text-anchor="middle" font-weight="normal" >22</text>
<text x="533.15" y="416.60" font-size="6.3" fill="#111" text-anchor="middle" font-weight="normal" >23</text>
<text x="544.45" y="416.60" font-size="6.3" fill="#111" text-anchor="middle" font-weight="normal" >24</text>
<text x="555.75" y="416.60" font-size="6.3" fill="#111" text-anchor="middle" font-weight="normal" >25</text>
<text x="567.05" y="416.60" font-size="6.3" fill="#111" text-anchor="middle" font-weight="normal" >26</text>
<text x="578.35" y="416.60" font-size="6.3" fill="#111" text-anchor="middle" font-weight="normal" >27</text>
<text x="589.65" y="416.60" font-size="6.3" fill="#111" text-anchor="middle" font-weight="normal" >28</text>
<text x="600.95" y="416.60" font-size="6.3" fill="#111" text-anchor="middle" font-weight="normal" >29</text>
<text x="612.25" y="416.60" font-size="6.3" fill="#111" text-anchor="middle" font-weight="normal" >30</text>
<text x="623.55" y="416.60" font-size="6.3" fill="#111" text-anchor="middle" font-weight="normal" >31</text>
<text x="634.85" y="416.60" font-size="6.3" fill="#111" text-anchor="middle" font-weight="normal" >32</text>
<text x="646.15" y="416.60" font-size="6.3" fill="#111" text-anchor="middle" font-weight="bold" >33</text>
<text x="657.45" y="416.60" font-size="6.3" fill="#111" text-anchor="middle" font-weight="normal" >34</text>
<text x="668.75" y="416.60" font-size="6.3" fill="#111" text-anchor="middle" font-weight="normal" >35</text>
<text x="680.05" y="416.60" font-size="6.3" fill="#111" text-anchor="middle" font-weight="bold" >36</text>
</svg>
</body></html>
